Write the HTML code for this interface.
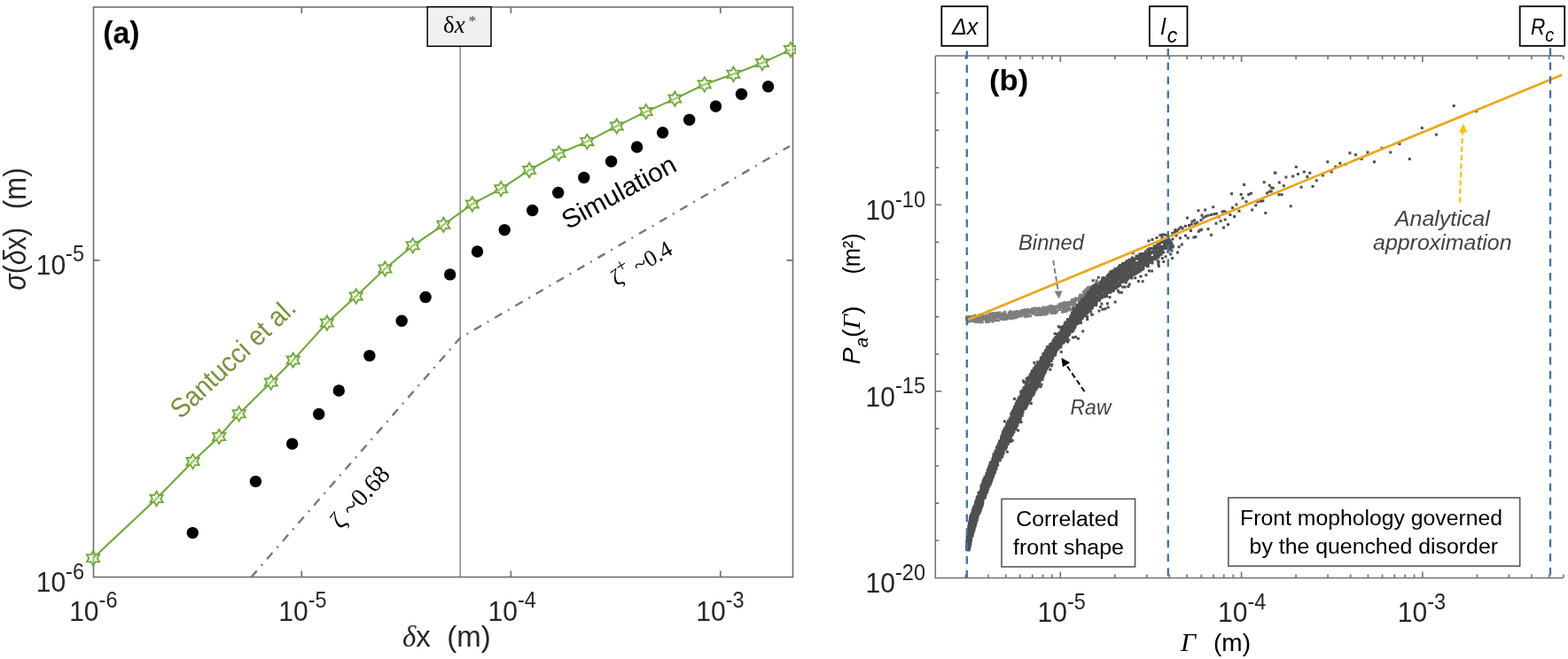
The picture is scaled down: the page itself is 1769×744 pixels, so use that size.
<!DOCTYPE html>
<html><head><meta charset="utf-8"><title>Figure</title>
<style>html,body{margin:0;padding:0;background:#fff;}svg{display:block;}</style>
</head><body>
<svg width="1769" height="744" viewBox="0 0 1769 744">
<rect width="1769" height="744" fill="#fff"/>
<rect x="105.5" y="8.0" width="789.0" height="643.5" fill="none" stroke="#6f6f6f" stroke-width="1.6"/>
<path d="M340.3 651.5v-7M340.3 8.0v7M576.4 651.5v-7M576.4 8.0v7M812.8 651.5v-7M812.8 8.0v7M105.5 293.8h7M894.5 293.8h-7" stroke="#6f6f6f" stroke-width="1.7" fill="none"/>
<g transform="translate(105.3 700.5) scale(0.94 1)"><text x="0" y="0" font-family="'Liberation Sans', sans-serif" font-size="32" fill="#262626" text-anchor="middle">10<tspan font-size="25" dy="-14.4">-6</tspan></text></g>
<g transform="translate(341.5 700.5) scale(0.94 1)"><text x="0" y="0" font-family="'Liberation Sans', sans-serif" font-size="32" fill="#262626" text-anchor="middle">10<tspan font-size="25" dy="-14.4">-5</tspan></text></g>
<g transform="translate(577.6 700.5) scale(0.94 1)"><text x="0" y="0" font-family="'Liberation Sans', sans-serif" font-size="32" fill="#262626" text-anchor="middle">10<tspan font-size="25" dy="-14.4">-4</tspan></text></g>
<g transform="translate(812.4 700.5) scale(0.94 1)"><text x="0" y="0" font-family="'Liberation Sans', sans-serif" font-size="32" fill="#262626" text-anchor="middle">10<tspan font-size="25" dy="-14.4">-3</tspan></text></g>
<g transform="translate(95 309.8) scale(0.94 1)"><text x="0" y="0" font-family="'Liberation Sans', sans-serif" font-size="32" fill="#262626" text-anchor="end">10<tspan font-size="25" dy="-14.4">-5</tspan></text></g>
<g transform="translate(95 668) scale(0.94 1)"><text x="0" y="0" font-family="'Liberation Sans', sans-serif" font-size="32" fill="#262626" text-anchor="end">10<tspan font-size="25" dy="-14.4">-6</tspan></text></g>
<path d="M519.2 52.2V651.5" stroke="#7a7a7a" stroke-width="1.3"/>
<path d="M283.5 651.5 L519.2 381.5 L891 165" fill="none" stroke="#777" stroke-width="2.4" stroke-dasharray="9.5 7.6 2 7.8"/>
<polyline points="105,630.2 176.6,563 217.6,521 247.2,493 269.7,467.2 305.8,431.6 330.7,406.6 368.9,364.6 401.7,334.4 434.4,303.5 465.7,277.3 500.3,253.8 532.8,230.4 565.2,213.2 597.1,192.1 630.5,173.3 662.4,159.9 695.8,142.4 728.8,126.1 761.4,111.6 794.8,95.3 827.4,83.7 860,71 892,56.1" fill="none" stroke="#6fa73a" stroke-width="2.1"/>
<clipPath id="ca"><rect x="0" y="0" width="898" height="744"/></clipPath>
<path clip-path="url(#ca)" d="M105 622L102.6 626.1L97.9 626.1L100.3 630.2L97.9 634.3L102.6 634.3L105 638.4L107.4 634.3L112.1 634.3L109.7 630.2L112.1 626.1L107.4 626.1ZM176.6 554.8L174.2 558.9L169.5 558.9L171.9 563L169.5 567.1L174.2 567.1L176.6 571.2L179 567.1L183.7 567.1L181.3 563L183.7 558.9L179 558.9ZM217.6 512.8L215.2 516.9L210.5 516.9L212.9 521L210.5 525.1L215.2 525.1L217.6 529.2L220 525.1L224.7 525.1L222.3 521L224.7 516.9L220 516.9ZM247.2 484.8L244.8 488.9L240.1 488.9L242.5 493L240.1 497.1L244.8 497.1L247.2 501.2L249.6 497.1L254.3 497.1L251.9 493L254.3 488.9L249.6 488.9ZM269.7 459L267.3 463.1L262.6 463.1L265 467.2L262.6 471.3L267.3 471.3L269.7 475.4L272.1 471.3L276.8 471.3L274.4 467.2L276.8 463.1L272.1 463.1ZM305.8 423.4L303.4 427.5L298.7 427.5L301.1 431.6L298.7 435.7L303.4 435.7L305.8 439.8L308.2 435.7L312.9 435.7L310.5 431.6L312.9 427.5L308.2 427.5ZM330.7 398.4L328.3 402.5L323.6 402.5L326 406.6L323.6 410.7L328.3 410.7L330.7 414.8L333.1 410.7L337.8 410.7L335.4 406.6L337.8 402.5L333.1 402.5ZM368.9 356.4L366.5 360.5L361.8 360.5L364.2 364.6L361.8 368.7L366.5 368.7L368.9 372.8L371.3 368.7L376 368.7L373.6 364.6L376 360.5L371.3 360.5ZM401.7 326.2L399.3 330.3L394.6 330.3L397 334.4L394.6 338.5L399.3 338.5L401.7 342.6L404.1 338.5L408.8 338.5L406.4 334.4L408.8 330.3L404.1 330.3ZM434.4 295.3L432 299.4L427.3 299.4L429.7 303.5L427.3 307.6L432 307.6L434.4 311.7L436.8 307.6L441.5 307.6L439.1 303.5L441.5 299.4L436.8 299.4ZM465.7 269.1L463.3 273.2L458.6 273.2L461 277.3L458.6 281.4L463.3 281.4L465.7 285.5L468.1 281.4L472.8 281.4L470.4 277.3L472.8 273.2L468.1 273.2ZM500.3 245.6L497.9 249.7L493.2 249.7L495.6 253.8L493.2 257.9L497.9 257.9L500.3 262L502.7 257.9L507.4 257.9L505 253.8L507.4 249.7L502.7 249.7ZM532.8 222.2L530.4 226.3L525.7 226.3L528.1 230.4L525.7 234.5L530.4 234.5L532.8 238.6L535.2 234.5L539.9 234.5L537.5 230.4L539.9 226.3L535.2 226.3ZM565.2 205L562.8 209.1L558.1 209.1L560.5 213.2L558.1 217.3L562.8 217.3L565.2 221.4L567.6 217.3L572.3 217.3L569.9 213.2L572.3 209.1L567.6 209.1ZM597.1 183.9L594.7 188L590 188L592.4 192.1L590 196.2L594.7 196.2L597.1 200.3L599.5 196.2L604.2 196.2L601.8 192.1L604.2 188L599.5 188ZM630.5 165.1L628.1 169.2L623.4 169.2L625.8 173.3L623.4 177.4L628.1 177.4L630.5 181.5L632.9 177.4L637.6 177.4L635.2 173.3L637.6 169.2L632.9 169.2ZM662.4 151.7L660 155.8L655.3 155.8L657.7 159.9L655.3 164L660 164L662.4 168.1L664.8 164L669.5 164L667.1 159.9L669.5 155.8L664.8 155.8ZM695.8 134.2L693.4 138.3L688.7 138.3L691.1 142.4L688.7 146.5L693.4 146.5L695.8 150.6L698.2 146.5L702.9 146.5L700.5 142.4L702.9 138.3L698.2 138.3ZM728.8 117.9L726.4 122L721.7 122L724.1 126.1L721.7 130.2L726.4 130.2L728.8 134.3L731.2 130.2L735.9 130.2L733.5 126.1L735.9 122L731.2 122ZM761.4 103.4L759 107.5L754.3 107.5L756.7 111.6L754.3 115.7L759 115.7L761.4 119.8L763.8 115.7L768.5 115.7L766.1 111.6L768.5 107.5L763.8 107.5ZM794.8 87.1L792.4 91.2L787.7 91.2L790.1 95.3L787.7 99.4L792.4 99.4L794.8 103.5L797.2 99.4L801.9 99.4L799.5 95.3L801.9 91.2L797.2 91.2ZM827.4 75.5L825 79.6L820.3 79.6L822.7 83.7L820.3 87.8L825 87.8L827.4 91.9L829.8 87.8L834.5 87.8L832.1 83.7L834.5 79.6L829.8 79.6ZM860 62.8L857.6 66.9L852.9 66.9L855.3 71L852.9 75.1L857.6 75.1L860 79.2L862.4 75.1L867.1 75.1L864.7 71L867.1 66.9L862.4 66.9ZM892 47.9L889.6 52L884.9 52L887.3 56.1L884.9 60.2L889.6 60.2L892 64.3L894.4 60.2L899.1 60.2L896.7 56.1L899.1 52L894.4 52Z" fill="#e2f5c4" fill-opacity="0.4" stroke="#6fa73a" stroke-width="1.8"/>
<g fill="#000"><circle cx="217.3" cy="601.6" r="6.7"/><circle cx="288.4" cy="543.6" r="6.7"/><circle cx="329.7" cy="501.1" r="6.7"/><circle cx="359.7" cy="467.5" r="6.7"/><circle cx="382.3" cy="441" r="6.7"/><circle cx="416.9" cy="401.6" r="6.7"/><circle cx="453.2" cy="362.3" r="6.7"/><circle cx="480.1" cy="335.4" r="6.7"/><circle cx="507.7" cy="309.9" r="6.7"/><circle cx="538.5" cy="284" r="6.7"/><circle cx="569.2" cy="259.6" r="6.7"/><circle cx="600.7" cy="237.5" r="6.7"/><circle cx="629.7" cy="217.5" r="6.7"/><circle cx="658.8" cy="200.5" r="6.7"/><circle cx="689.6" cy="182.3" r="6.7"/><circle cx="718.6" cy="166" r="6.7"/><circle cx="747.6" cy="149.7" r="6.7"/><circle cx="777.7" cy="135.2" r="6.7"/><circle cx="807.5" cy="120" r="6.7"/><circle cx="836.5" cy="106.2" r="6.7"/><circle cx="866.6" cy="97.8" r="6.7"/></g>
<rect x="482.2" y="7.8" width="71.8" height="44.4" fill="#f0f0f0" stroke="#000" stroke-width="1.5"/>
<text x="500" y="36.7" font-family="'Liberation Serif', serif" font-size="27" fill="#000">δ<tspan font-style="italic">x</tspan><tspan font-size="17" dx="4" dy="-7.5" fill="#444">*</tspan></text>
<g transform="translate(116.2 49) scale(0.98 1)"><text x="0" y="0" font-family="'Liberation Sans', sans-serif" font-size="34.5" font-weight="bold" fill="#000">(a)</text></g>
<text x="454" y="729.7" font-family="'Liberation Sans', sans-serif" font-size="33" fill="#262626" xml:space="preserve"><tspan font-style="italic" font-family="'Liberation Serif', serif">δ</tspan>x  (m)</text>
<text transform="translate(28.5 327.7) rotate(-90)" font-family="'Liberation Sans', sans-serif" font-size="35.5" fill="#262626" textLength="70.8" lengthAdjust="spacingAndGlyphs"><tspan font-style="italic">σ</tspan>(<tspan font-style="italic">δ</tspan>x)</text>
<text transform="translate(28.5 236.3) rotate(-90)" font-family="'Liberation Sans', sans-serif" font-size="35.5" fill="#262626" textLength="46.9" lengthAdjust="spacingAndGlyphs">(m)</text>
<text transform="translate(204 474) rotate(-43.3)" font-family="'Liberation Sans', sans-serif" font-size="31" fill="#77933c" textLength="181" lengthAdjust="spacingAndGlyphs">Santucci et al.</text>
<text transform="translate(640.5 259.5) rotate(-28.4)" font-family="'Liberation Sans', sans-serif" font-size="29.5" fill="#000" textLength="142" lengthAdjust="spacingAndGlyphs">Simulation</text>
<text transform="translate(384.5 598.5) rotate(-47.5)" font-family="'Liberation Serif', serif" font-size="28.5" fill="#000" xml:space="preserve">ζ ~0.68</text>
<text transform="translate(695.5 323.5) rotate(-30)" font-family="'Liberation Serif', serif" font-size="26" fill="#000" xml:space="preserve">ζ<tspan font-size="21" dx="-0.5" dy="-11">+</tspan><tspan dy="11"> ~0.4</tspan></text>
<path d="M1055.3 63.0V652.4H1763.3M1055.3 63.0H1763.3" fill="none" stroke="#6f6f6f" stroke-width="1.5"/>
<path d="M1089.5 652.4v-4M1089.5 63.0v4M1115 652.4v-4M1115 63.0v4M1134.8 652.4v-4M1134.8 63.0v4M1151 652.4v-4M1151 63.0v4M1164.7 652.4v-4M1164.7 63.0v4M1176.5 652.4v-4M1176.5 63.0v4M1187 652.4v-4M1187 63.0v4M1196.3 652.4v-7M1196.3 63.0v7M1257.8 652.4v-4M1257.8 63.0v4M1293.8 652.4v-4M1293.8 63.0v4M1319.3 652.4v-4M1319.3 63.0v4M1339.1 652.4v-4M1339.1 63.0v4M1355.3 652.4v-4M1355.3 63.0v4M1369 652.4v-4M1369 63.0v4M1380.8 652.4v-4M1380.8 63.0v4M1391.3 652.4v-4M1391.3 63.0v4M1400.6 652.4v-7M1400.6 63.0v7M1462.1 652.4v-4M1462.1 63.0v4M1498.1 652.4v-4M1498.1 63.0v4M1523.6 652.4v-4M1523.6 63.0v4M1543.4 652.4v-4M1543.4 63.0v4M1559.6 652.4v-4M1559.6 63.0v4M1573.3 652.4v-4M1573.3 63.0v4M1585.1 652.4v-4M1585.1 63.0v4M1595.6 652.4v-4M1595.6 63.0v4M1604.9 652.4v-7M1604.9 63.0v7M1666.4 652.4v-4M1666.4 63.0v4M1702.4 652.4v-4M1702.4 63.0v4M1727.9 652.4v-4M1727.9 63.0v4M1747.7 652.4v-4M1747.7 63.0v4M1763.9 652.4v-4M1763.9 63.0v4M1055.3 610.2h4M1055.3 568.1h4M1055.3 526h4M1055.3 483.9h4M1055.3 441.8h7M1055.3 399.7h4M1055.3 357.6h4M1055.3 315.5h4M1055.3 273.4h4M1055.3 231.3h7M1055.3 189.2h4M1055.3 147.1h4M1055.3 105h4" stroke="#6f6f6f" stroke-width="1.6" fill="none"/>
<g transform="translate(1197.6 702.3) scale(0.94 1)"><text x="0" y="0" font-family="'Liberation Sans', sans-serif" font-size="32" fill="#262626" text-anchor="middle">10<tspan font-size="25" dy="-14.4">-5</tspan></text></g>
<g transform="translate(1401.2 702.3) scale(0.94 1)"><text x="0" y="0" font-family="'Liberation Sans', sans-serif" font-size="32" fill="#262626" text-anchor="middle">10<tspan font-size="25" dy="-14.4">-4</tspan></text></g>
<g transform="translate(1603.9 702.3) scale(0.94 1)"><text x="0" y="0" font-family="'Liberation Sans', sans-serif" font-size="32" fill="#262626" text-anchor="middle">10<tspan font-size="25" dy="-14.4">-3</tspan></text></g>
<g transform="translate(1044 248) scale(0.94 1)"><text x="0" y="0" font-family="'Liberation Sans', sans-serif" font-size="32" fill="#262626" text-anchor="end">10<tspan font-size="25" dy="-14.2">-10</tspan></text></g>
<g transform="translate(1044 458.5) scale(0.94 1)"><text x="0" y="0" font-family="'Liberation Sans', sans-serif" font-size="32" fill="#262626" text-anchor="end">10<tspan font-size="25" dy="-14.2">-15</tspan></text></g>
<g transform="translate(1044 669) scale(0.94 1)"><text x="0" y="0" font-family="'Liberation Sans', sans-serif" font-size="32" fill="#262626" text-anchor="end">10<tspan font-size="25" dy="-14.2">-20</tspan></text></g>
<path d="M1097.4 355.8h3v3h-3zM1106.1 354.1h3v3h-3zM1103.3 357h3v3h-3zM1090.6 359.2h3v3h-3zM1090 358.7h3v3h-3zM1090.6 356h3v3h-3zM1100.6 361.1h3v3h-3zM1092.1 356.9h3v3h-3zM1106.1 361.8h3v3h-3zM1104.4 357.1h3v3h-3zM1114.8 352.9h3v3h-3zM1111.8 355.5h3v3h-3zM1092.6 356h3v3h-3zM1097.5 361.2h3v3h-3zM1093.9 359.5h3v3h-3zM1106 356.8h3v3h-3zM1103.4 354.3h3v3h-3zM1090.4 356.9h3v3h-3zM1107.2 357.2h3v3h-3zM1097.5 359.3h3v3h-3zM1101 356.6h3v3h-3zM1110.4 359.4h3v3h-3zM1095.6 359.4h3v3h-3zM1103.3 361.3h3v3h-3zM1108.4 355.8h3v3h-3zM1115 353.5h3v3h-3zM1100.4 360.5h3v3h-3zM1093.1 358.9h3v3h-3zM1090.2 360.5h3v3h-3zM1109.5 358.3h3v3h-3zM1112.3 355.7h3v3h-3zM1107.7 358.6h3v3h-3zM1104.5 357.6h3v3h-3zM1111.8 361.5h3v3h-3zM1101.8 359.6h3v3h-3zM1090.8 360.7h3v3h-3zM1106.7 362.2h3v3h-3zM1110.9 355.5h3v3h-3zM1099.5 359.8h3v3h-3zM1089.6 359h3v3h-3zM1093.3 355.9h3v3h-3zM1090.7 361.2h3v3h-3zM1092.3 357.1h3v3h-3zM1099.7 361.5h3v3h-3zM1091.1 358.7h3v3h-3zM1104 361.4h3v3h-3zM1111.2 360.8h3v3h-3zM1096.4 358h3v3h-3zM1098.9 361.7h3v3h-3zM1114.4 353.9h3v3h-3zM1093.6 356.8h3v3h-3zM1095.2 358.7h3v3h-3zM1104.6 356h3v3h-3zM1089.1 358.7h3v3h-3zM1098.9 359h3v3h-3zM1114.7 359h3v3h-3zM1102.9 359.2h3v3h-3zM1106.8 353.9h3v3h-3zM1113.3 359.9h3v3h-3zM1112.7 360.1h3v3h-3zM1099.4 357.6h3v3h-3zM1091.9 360.1h3v3h-3zM1090.4 355.9h3v3h-3zM1094.4 356.2h3v3h-3zM1097.8 354.9h3v3h-3zM1088.8 356.7h3v3h-3zM1091.6 358h3v3h-3zM1089.9 362.1h3v3h-3zM1105.2 354.9h3v3h-3zM1095.7 357.5h3v3h-3zM1098.5 355.4h3v3h-3zM1112.1 362h3v3h-3zM1101.5 358.1h3v3h-3zM1091.1 356.1h3v3h-3zM1098 356.6h3v3h-3zM1111 354.4h3v3h-3zM1089.9 362.6h3v3h-3zM1102.9 355.1h3v3h-3zM1103.2 354.1h3v3h-3zM1103.5 362.2h3v3h-3zM1112.3 359.2h3v3h-3zM1095.9 357.7h3v3h-3zM1093.7 361.1h3v3h-3zM1103.5 360.5h3v3h-3zM1097.7 356.3h3v3h-3zM1111.1 361.9h3v3h-3zM1112.1 360.2h3v3h-3zM1111.1 359.7h3v3h-3zM1095.1 358.9h3v3h-3zM1098.2 354.7h3v3h-3zM1089.6 357.6h3v3h-3zM1096.1 360.3h3v3h-3zM1114.6 356.7h3v3h-3zM1114.5 361.8h3v3h-3zM1114.5 355.9h3v3h-3zM1094.7 356.7h3v3h-3zM1094.1 356.5h3v3h-3zM1106 361.4h3v3h-3zM1111.5 357.3h3v3h-3zM1106.7 360.5h3v3h-3zM1091.4 360.3h3v3h-3zM1113.6 359.9h3v3h-3zM1109.1 357.5h3v3h-3zM1094 361.2h3v3h-3zM1098.1 361h3v3h-3zM1115 356.2h3v3h-3zM1100.1 362.1h3v3h-3zM1138.8 351.4h3v3h-3zM1119.5 353.4h3v3h-3zM1145.3 355.9h3v3h-3zM1120.9 359.5h3v3h-3zM1147.5 354.3h3v3h-3zM1127.1 356.1h3v3h-3zM1119.4 352.1h3v3h-3zM1147.2 354.3h3v3h-3zM1133.2 358.7h3v3h-3zM1130.2 358.6h3v3h-3zM1142.1 351.3h3v3h-3zM1123.7 354.2h3v3h-3zM1123.6 356.9h3v3h-3zM1124.1 355.3h3v3h-3zM1120.5 360.3h3v3h-3zM1127.1 355.3h3v3h-3zM1135 358.2h3v3h-3zM1129.8 359.1h3v3h-3zM1132 355.3h3v3h-3zM1132.1 350.8h3v3h-3zM1129.6 352.5h3v3h-3zM1116.3 359.9h3v3h-3zM1121.3 356.2h3v3h-3zM1139.2 354.6h3v3h-3zM1126.3 355.9h3v3h-3zM1134 357.3h3v3h-3zM1119.3 357.2h3v3h-3zM1123.5 354.1h3v3h-3zM1140.7 354h3v3h-3zM1134.2 357h3v3h-3zM1145.1 352.9h3v3h-3zM1135.5 354.6h3v3h-3zM1132.5 356.7h3v3h-3zM1130.4 355.5h3v3h-3zM1131.7 359h3v3h-3zM1138.7 357.4h3v3h-3zM1145.9 351.3h3v3h-3zM1134.3 358.6h3v3h-3zM1142.5 350.7h3v3h-3zM1119.6 356.1h3v3h-3zM1117.8 354.4h3v3h-3zM1118.4 358.4h3v3h-3zM1141.5 357.2h3v3h-3zM1121 358.5h3v3h-3zM1136.7 351.4h3v3h-3zM1144.7 357.3h3v3h-3zM1123.4 360.3h3v3h-3zM1128.6 355.4h3v3h-3zM1148 355.7h3v3h-3zM1120.9 355.8h3v3h-3zM1132.2 353.6h3v3h-3zM1121.9 354.6h3v3h-3zM1138.5 350.1h3v3h-3zM1133.6 354.3h3v3h-3zM1116.2 355.4h3v3h-3zM1135.9 354.6h3v3h-3zM1118.4 361.4h3v3h-3zM1141.7 357.8h3v3h-3zM1118.9 354.5h3v3h-3zM1117.4 359.6h3v3h-3zM1124.1 352.6h3v3h-3zM1129.9 359h3v3h-3zM1141.9 351.8h3v3h-3zM1121.1 360.3h3v3h-3zM1134.4 356.5h3v3h-3zM1118.2 352.6h3v3h-3zM1137.9 353.7h3v3h-3zM1118.7 360.9h3v3h-3zM1136.6 357.1h3v3h-3zM1118.9 360.1h3v3h-3zM1118.4 360.2h3v3h-3zM1130.2 353.8h3v3h-3zM1134.1 358.5h3v3h-3zM1124 352.7h3v3h-3zM1132.5 352.7h3v3h-3zM1118.9 353.5h3v3h-3zM1117.1 354.1h3v3h-3zM1125.6 354.1h3v3h-3zM1140 352.2h3v3h-3zM1131.5 352.3h3v3h-3zM1126.4 351.4h3v3h-3zM1123.3 351.7h3v3h-3zM1139.5 354.5h3v3h-3zM1121.9 356.1h3v3h-3zM1145.5 350.1h3v3h-3zM1142.1 353.2h3v3h-3zM1132.1 358h3v3h-3zM1128.5 355.5h3v3h-3zM1138.5 358.3h3v3h-3zM1127.2 358.7h3v3h-3zM1138.7 355.3h3v3h-3zM1128.7 354.1h3v3h-3zM1117.1 353.4h3v3h-3zM1118.4 359.1h3v3h-3zM1123.6 353h3v3h-3zM1118.9 359.9h3v3h-3zM1144 354.9h3v3h-3zM1124.6 353.6h3v3h-3zM1125.2 355.5h3v3h-3zM1120.8 356h3v3h-3zM1124.8 360.2h3v3h-3zM1147.2 353.5h3v3h-3zM1124.2 360.3h3v3h-3zM1125.6 354.5h3v3h-3zM1115.7 356h3v3h-3zM1131.1 355.2h3v3h-3zM1122.3 356.3h3v3h-3zM1115.7 354.9h3v3h-3zM1118.6 355.8h3v3h-3zM1116.6 352.5h3v3h-3zM1125.3 353.5h3v3h-3zM1134.7 354.9h3v3h-3zM1140.1 355.3h3v3h-3zM1139.3 357.3h3v3h-3zM1128.1 354h3v3h-3zM1147.2 350.3h3v3h-3zM1139.3 355.3h3v3h-3zM1117.6 360.1h3v3h-3zM1144.7 354.5h3v3h-3zM1139.8 356.7h3v3h-3zM1120.3 356.7h3v3h-3zM1132.4 357.9h3v3h-3zM1142.1 356.5h3v3h-3zM1135 358.1h3v3h-3zM1138 355.9h3v3h-3zM1122.7 351.9h3v3h-3zM1119.9 355.3h3v3h-3zM1119.6 359.8h3v3h-3zM1133.9 355.9h3v3h-3zM1168.4 352h3v3h-3zM1163.3 347h3v3h-3zM1174 351.9h3v3h-3zM1164.3 351.3h3v3h-3zM1168.9 346.8h3v3h-3zM1171.5 348h3v3h-3zM1150.2 350.8h3v3h-3zM1171.3 347.6h3v3h-3zM1172.4 354h3v3h-3zM1163.8 350.1h3v3h-3zM1163.7 352.6h3v3h-3zM1172.9 350.9h3v3h-3zM1168.3 346.9h3v3h-3zM1152.5 350.4h3v3h-3zM1171.8 348.4h3v3h-3zM1165.8 346.7h3v3h-3zM1149.7 350.9h3v3h-3zM1169.9 351.9h3v3h-3zM1169.6 348.6h3v3h-3zM1164.6 350.6h3v3h-3zM1162.7 348h3v3h-3zM1176.6 346.9h3v3h-3zM1180 352.8h3v3h-3zM1148.5 352.6h3v3h-3zM1175 353.6h3v3h-3zM1162.3 349.3h3v3h-3zM1155.2 355.7h3v3h-3zM1154.9 352.8h3v3h-3zM1152.6 352.6h3v3h-3zM1178.4 346.1h3v3h-3zM1174.5 349.8h3v3h-3zM1176.9 351.2h3v3h-3zM1155.9 355.3h3v3h-3zM1163.2 347.2h3v3h-3zM1148.1 352.9h3v3h-3zM1162.4 349.6h3v3h-3zM1152.4 351.2h3v3h-3zM1158.6 354.5h3v3h-3zM1148.3 355h3v3h-3zM1174.7 346.5h3v3h-3zM1178.1 351.1h3v3h-3zM1176.9 347.6h3v3h-3zM1159.9 350.6h3v3h-3zM1180.4 349.8h3v3h-3zM1159.6 351h3v3h-3zM1156.4 348.3h3v3h-3zM1151.6 355.3h3v3h-3zM1157.7 355.4h3v3h-3zM1155.8 350.1h3v3h-3zM1164.2 348.4h3v3h-3zM1160.5 355.2h3v3h-3zM1176.9 352.1h3v3h-3zM1168.8 353.9h3v3h-3zM1178.4 349.7h3v3h-3zM1170.8 346.4h3v3h-3zM1171.6 349.7h3v3h-3zM1172.5 351.2h3v3h-3zM1156.8 348.2h3v3h-3zM1177.5 346.2h3v3h-3zM1163.1 349.8h3v3h-3zM1157.9 353.7h3v3h-3zM1179.3 347.1h3v3h-3zM1169 348.7h3v3h-3zM1165.9 349.9h3v3h-3zM1153.1 349.6h3v3h-3zM1155.1 355.4h3v3h-3zM1163.8 348.7h3v3h-3zM1177.8 353.5h3v3h-3zM1162.2 348.3h3v3h-3zM1153.8 348.9h3v3h-3zM1158.6 348.3h3v3h-3zM1155.5 350.1h3v3h-3zM1166.8 353.9h3v3h-3zM1172.1 349.3h3v3h-3zM1161.4 351.5h3v3h-3zM1160 350.2h3v3h-3zM1149.8 351h3v3h-3zM1178.9 346h3v3h-3zM1164.4 352h3v3h-3zM1175.6 347.2h3v3h-3zM1156.5 349.9h3v3h-3zM1160.9 351h3v3h-3zM1179.2 352.1h3v3h-3zM1175.7 345.5h3v3h-3zM1149.2 354.5h3v3h-3zM1176.9 349.2h3v3h-3zM1166.5 346.5h3v3h-3zM1161.1 354.9h3v3h-3zM1175 352.7h3v3h-3zM1179.1 347h3v3h-3zM1151.2 349.8h3v3h-3zM1165.1 352.4h3v3h-3zM1178.6 351.1h3v3h-3zM1169.2 352.6h3v3h-3zM1162.8 351.6h3v3h-3zM1149.6 355.1h3v3h-3zM1155.9 355.5h3v3h-3zM1168.6 348.8h3v3h-3zM1151.9 350.5h3v3h-3zM1168.8 352.1h3v3h-3zM1151.2 349.1h3v3h-3zM1165 351.6h3v3h-3zM1160.3 349.2h3v3h-3zM1166.9 346.6h3v3h-3zM1157.7 351.5h3v3h-3zM1179.1 350.4h3v3h-3zM1176.5 349.3h3v3h-3zM1155.3 350h3v3h-3zM1179.2 350.9h3v3h-3zM1157.4 347.9h3v3h-3zM1164.3 352.4h3v3h-3zM1161.3 349.3h3v3h-3zM1170 353.8h3v3h-3zM1154.9 348.3h3v3h-3zM1158.8 351h3v3h-3zM1169.7 347.8h3v3h-3zM1174 351.8h3v3h-3zM1164 348.6h3v3h-3zM1179.1 347.5h3v3h-3zM1174.2 347.5h3v3h-3zM1155.4 354.2h3v3h-3zM1158 355.5h3v3h-3zM1163.7 348.5h3v3h-3zM1155.1 351.4h3v3h-3zM1169.9 354h3v3h-3zM1152.6 351.6h3v3h-3zM1155.4 356h3v3h-3zM1152.1 348.8h3v3h-3zM1149.8 351.9h3v3h-3zM1177.4 352.6h3v3h-3zM1197 350.7h3v3h-3zM1200 343.3h3v3h-3zM1185 352h3v3h-3zM1195.4 341.2h3v3h-3zM1194.4 345h3v3h-3zM1188 345.9h3v3h-3zM1183.1 344h3v3h-3zM1186.1 346.5h3v3h-3zM1200.1 341h3v3h-3zM1200.4 341.9h3v3h-3zM1188.5 350.4h3v3h-3zM1197.8 344.8h3v3h-3zM1181.3 348.6h3v3h-3zM1189.1 351.2h3v3h-3zM1184.2 347h3v3h-3zM1198.6 340.4h3v3h-3zM1189.7 350.1h3v3h-3zM1195.9 341.2h3v3h-3zM1180.3 345.2h3v3h-3zM1199.6 342.6h3v3h-3zM1197.1 349.7h3v3h-3zM1187.2 345.5h3v3h-3zM1201.1 346.1h3v3h-3zM1186.3 349.8h3v3h-3zM1186.7 345.6h3v3h-3zM1180.8 351.1h3v3h-3zM1200.3 346.4h3v3h-3zM1199.6 340.1h3v3h-3zM1185.3 347.8h3v3h-3zM1201.8 349.5h3v3h-3zM1188.2 345.1h3v3h-3zM1189.5 347.1h3v3h-3zM1199.6 341.8h3v3h-3zM1198 347.9h3v3h-3zM1198.5 348.2h3v3h-3zM1193 344.7h3v3h-3zM1186.9 346.4h3v3h-3zM1196.3 341.5h3v3h-3zM1185 350.4h3v3h-3zM1184.8 344.1h3v3h-3zM1181.1 349.3h3v3h-3zM1188.2 351.9h3v3h-3zM1200.3 350.1h3v3h-3zM1185.3 344.2h3v3h-3zM1182.4 348.6h3v3h-3zM1195.5 345.4h3v3h-3zM1185.2 347.3h3v3h-3zM1194 348h3v3h-3zM1197.1 349.2h3v3h-3zM1193.9 342.5h3v3h-3zM1198 343.3h3v3h-3zM1192.2 345.4h3v3h-3zM1195.6 342.9h3v3h-3zM1185.2 345.7h3v3h-3zM1184.3 351.7h3v3h-3zM1192.4 344.9h3v3h-3zM1189.7 351.8h3v3h-3zM1190.7 344.3h3v3h-3zM1198 347h3v3h-3zM1200.8 340.7h3v3h-3zM1191.1 349.9h3v3h-3zM1199.2 349.5h3v3h-3zM1180.8 347.1h3v3h-3zM1182.3 345.8h3v3h-3zM1201.4 345.7h3v3h-3zM1200 343.7h3v3h-3zM1198.8 344.8h3v3h-3zM1186.4 350.3h3v3h-3zM1199.8 340.9h3v3h-3zM1193.3 347.6h3v3h-3zM1184.7 346.9h3v3h-3zM1182.8 345.8h3v3h-3zM1186 348.8h3v3h-3zM1193.7 343.3h3v3h-3zM1180.3 347.5h3v3h-3zM1194.3 343h3v3h-3zM1186.5 345h3v3h-3zM1197.5 346.1h3v3h-3zM1181 345.4h3v3h-3zM1188.9 347.8h3v3h-3zM1193.3 342.3h3v3h-3zM1184.2 350h3v3h-3zM1188.7 345.3h3v3h-3zM1187.7 351.7h3v3h-3zM1187.1 348.3h3v3h-3zM1187.8 346.7h3v3h-3zM1199.9 350.3h3v3h-3zM1206.5 339.5h3v3h-3zM1212.4 337.3h3v3h-3zM1203.3 348.6h3v3h-3zM1209.8 345.5h3v3h-3zM1209.8 346.2h3v3h-3zM1207.9 338.5h3v3h-3zM1202.2 345.1h3v3h-3zM1213.7 345.2h3v3h-3zM1203.7 345.4h3v3h-3zM1207.8 342.6h3v3h-3zM1203.4 341.7h3v3h-3zM1211.8 346h3v3h-3zM1203.5 344h3v3h-3zM1216.6 344.9h3v3h-3zM1203.6 339.8h3v3h-3zM1218.9 344.2h3v3h-3zM1207.9 337.2h3v3h-3zM1216.3 338h3v3h-3zM1216.8 340.7h3v3h-3zM1213.8 336.2h3v3h-3zM1213.4 337.1h3v3h-3zM1209.6 345.9h3v3h-3zM1213.9 336.4h3v3h-3zM1204.9 342.4h3v3h-3zM1209.7 340.4h3v3h-3zM1202.9 341.5h3v3h-3zM1215 344.6h3v3h-3zM1202.7 345.1h3v3h-3zM1212.2 335.3h3v3h-3zM1213.8 335.7h3v3h-3zM1211.6 341.7h3v3h-3zM1211.2 339h3v3h-3zM1208.9 343.1h3v3h-3zM1209.3 343.8h3v3h-3zM1208.8 341.4h3v3h-3zM1202.6 345.7h3v3h-3zM1208.7 339.1h3v3h-3zM1215.2 343.2h3v3h-3zM1208 338.7h3v3h-3zM1207.9 337.9h3v3h-3zM1203.6 343.2h3v3h-3zM1203.1 343.6h3v3h-3zM1208.3 336.9h3v3h-3zM1210.4 336.6h3v3h-3zM1214.7 343.3h3v3h-3zM1208.3 337.1h3v3h-3zM1209.5 340.5h3v3h-3zM1215.7 335.2h3v3h-3zM1217.5 344.9h3v3h-3zM1214.8 343.7h3v3h-3zM1206.7 348.4h3v3h-3zM1211.4 346.5h3v3h-3zM1215.2 335.7h3v3h-3zM1216.2 344.6h3v3h-3zM1202.3 342.8h3v3h-3zM1212.7 336.6h3v3h-3zM1215.4 337h3v3h-3zM1213.5 336.1h3v3h-3zM1211.5 346.1h3v3h-3zM1204.3 341.1h3v3h-3zM1209.3 339.8h3v3h-3zM1201.2 341.3h3v3h-3zM1206 348.1h3v3h-3zM1214.3 344.8h3v3h-3zM1205.6 346.6h3v3h-3zM1203.8 344.3h3v3h-3zM1211.5 339.5h3v3h-3zM1216.1 340.1h3v3h-3zM1227.3 336.1h3v3h-3zM1223 341.8h3v3h-3zM1223.8 331.4h3v3h-3zM1224.6 328.6h3v3h-3zM1229.2 329.3h3v3h-3zM1223.9 337.3h3v3h-3zM1220.1 331.5h3v3h-3zM1222.2 327.3h3v3h-3zM1224.7 328.2h3v3h-3zM1228.8 336.4h3v3h-3zM1225.6 334.2h3v3h-3zM1217.3 331.4h3v3h-3zM1215.5 335.5h3v3h-3zM1224 331.9h3v3h-3zM1226.6 336.9h3v3h-3zM1217.1 335.2h3v3h-3zM1221.1 328h3v3h-3zM1216.8 337.6h3v3h-3zM1217.9 336.5h3v3h-3zM1221 337.2h3v3h-3zM1221.9 330.2h3v3h-3zM1224.4 332.2h3v3h-3zM1222.8 341.1h3v3h-3zM1217.7 333.3h3v3h-3zM1220 339h3v3h-3zM1229.6 332.3h3v3h-3zM1220.3 332.7h3v3h-3zM1219.2 339.9h3v3h-3zM1222.8 331.7h3v3h-3zM1224.4 331.7h3v3h-3zM1230 331.2h3v3h-3zM1223.8 339.6h3v3h-3zM1218.6 338.6h3v3h-3zM1220.2 332.4h3v3h-3zM1220.7 340.5h3v3h-3zM1218.4 339.1h3v3h-3zM1225.1 326h3v3h-3zM1220.9 337.7h3v3h-3zM1224.5 334.8h3v3h-3zM1224 327.6h3v3h-3zM1219.6 333.9h3v3h-3zM1221.5 341.5h3v3h-3zM1228.1 332.6h3v3h-3zM1220.7 341.6h3v3h-3zM1225.7 330.8h3v3h-3zM1225.5 330.8h3v3h-3zM1217.2 333.2h3v3h-3zM1216.7 332.5h3v3h-3zM1223.5 337.5h3v3h-3zM1228.2 334.6h3v3h-3zM1223.7 329.5h3v3h-3zM1223.4 332.6h3v3h-3zM1226.6 330.9h3v3h-3zM1221.9 337.3h3v3h-3zM1226 326.4h3v3h-3zM1223.4 325.5h3v3h-3zM1218.6 333.9h3v3h-3zM1229.6 335h3v3h-3zM1224.5 329.6h3v3h-3zM1237.8 318.1h3v3h-3zM1234.7 329.8h3v3h-3zM1237.6 324h3v3h-3zM1240.3 326.2h3v3h-3zM1236.9 326.9h3v3h-3zM1239.7 324.8h3v3h-3zM1235.6 326.2h3v3h-3zM1233.9 321h3v3h-3zM1232.2 327.5h3v3h-3zM1232.8 331.5h3v3h-3zM1226.7 322.7h3v3h-3zM1233.3 331.4h3v3h-3zM1230 321.8h3v3h-3zM1225.5 324h3v3h-3zM1237.9 322.8h3v3h-3zM1238.8 323.7h3v3h-3zM1230.2 328.7h3v3h-3zM1235.5 327.8h3v3h-3zM1241.4 323.9h3v3h-3zM1232.3 331.2h3v3h-3zM1242.9 323.4h3v3h-3zM1227.7 324.7h3v3h-3zM1226.4 323.1h3v3h-3zM1241.1 322.9h3v3h-3zM1238.7 325.1h3v3h-3zM1234.5 320.2h3v3h-3zM1226.8 323.8h3v3h-3zM1235.3 318.2h3v3h-3zM1231.9 324.6h3v3h-3zM1227.1 326.1h3v3h-3zM1233.7 327.6h3v3h-3zM1231.7 323.2h3v3h-3zM1240.1 318.9h3v3h-3zM1239.7 321.1h3v3h-3zM1228.4 327.4h3v3h-3zM1236 326.6h3v3h-3zM1234.4 326.9h3v3h-3zM1232.8 320.5h3v3h-3zM1235.7 316.1h3v3h-3zM1235.8 317.3h3v3h-3zM1226.4 325.8h3v3h-3zM1241.4 325.3h3v3h-3zM1228.7 328.4h3v3h-3zM1236.8 326.3h3v3h-3zM1230.8 326.6h3v3h-3zM1235.4 328.1h3v3h-3zM1235.2 330h3v3h-3zM1229.8 323.1h3v3h-3zM1236.9 321.5h3v3h-3zM1231.1 328.7h3v3h-3zM1231.9 330.3h3v3h-3zM1239.2 324.2h3v3h-3zM1235 320.9h3v3h-3zM1232.6 323.5h3v3h-3zM1236 315.8h3v3h-3zM1235.5 315.3h3v3h-3zM1229.3 324.3h3v3h-3zM1239.3 319.5h3v3h-3zM1236.2 328.2h3v3h-3zM1231.2 325.8h3v3h-3zM1236.9 325.5h3v3h-3z" fill="#7e7e7e"/>
<path d="M1092.7 607.6h3v3h-3zM1090.3 613.8h3v3h-3zM1091.7 617.2h3v3h-3zM1092.9 609.1h3v3h-3zM1090.4 616.8h3v3h-3zM1092.4 607.2h3v3h-3zM1090.4 617.5h3v3h-3zM1090.8 605.1h3v3h-3zM1089.9 616.3h3v3h-3zM1093.6 608.5h3v3h-3zM1089.4 616.9h3v3h-3zM1090.1 615.4h3v3h-3zM1089.9 610.9h3v3h-3zM1089.7 614.1h3v3h-3zM1093.8 604.1h3v3h-3zM1091.9 618.1h3v3h-3zM1090.1 617.8h3v3h-3zM1094.2 604h3v3h-3zM1091.6 607.7h3v3h-3zM1091.1 616.4h3v3h-3zM1089.5 617.7h3v3h-3zM1089.2 613h3v3h-3zM1092.3 613.3h3v3h-3zM1091.8 608.4h3v3h-3zM1091.5 609.4h3v3h-3zM1090.9 617.3h3v3h-3zM1092.1 613.2h3v3h-3zM1091.9 604.9h3v3h-3zM1092.7 610.5h3v3h-3zM1090 612.6h3v3h-3zM1093.8 608.2h3v3h-3zM1093 607.3h3v3h-3zM1093.1 606h3v3h-3zM1091.5 609.2h3v3h-3zM1091.4 614.6h3v3h-3zM1090.2 617.9h3v3h-3zM1093.1 607.1h3v3h-3zM1090.4 609.3h3v3h-3zM1091 612.7h3v3h-3zM1091.2 609.5h3v3h-3zM1093.9 609h3v3h-3zM1091.2 616.6h3v3h-3zM1091.4 607h3v3h-3zM1093.4 612h3v3h-3zM1090.4 618.9h3v3h-3zM1091.5 617.1h3v3h-3zM1092.5 604.5h3v3h-3zM1090.7 617.9h3v3h-3zM1092.4 611h3v3h-3zM1092 611.4h3v3h-3zM1092.2 606.3h3v3h-3zM1093 613.2h3v3h-3zM1091.3 616.2h3v3h-3zM1092.2 613.4h3v3h-3zM1092.1 617.8h3v3h-3zM1089.2 613.6h3v3h-3zM1090.5 615.1h3v3h-3zM1090 619.3h3v3h-3zM1092 612.9h3v3h-3zM1090.1 613.7h3v3h-3zM1091.6 616h3v3h-3zM1092.5 604.5h3v3h-3zM1091.8 616.2h3v3h-3zM1089.9 613.1h3v3h-3zM1091.4 617.6h3v3h-3zM1092.8 606.7h3v3h-3zM1091.5 612h3v3h-3zM1092.4 616.1h3v3h-3zM1091.6 613.9h3v3h-3zM1093.8 606.6h3v3h-3zM1090.4 611.9h3v3h-3zM1089.7 610.5h3v3h-3zM1091.3 606h3v3h-3zM1090.9 605.7h3v3h-3zM1090.1 613.3h3v3h-3zM1089.8 612.5h3v3h-3zM1090.9 619.6h3v3h-3zM1089.9 614.9h3v3h-3zM1090.8 614.7h3v3h-3zM1091.8 612.7h3v3h-3zM1091 608.9h3v3h-3zM1094.4 604.9h3v3h-3zM1091.4 618.7h3v3h-3zM1093.9 605.2h3v3h-3zM1091.6 617.4h3v3h-3zM1089.3 609h3v3h-3zM1091.6 619.5h3v3h-3zM1090.5 608.8h3v3h-3zM1089.3 617.7h3v3h-3zM1091.7 615.9h3v3h-3zM1089.6 613.8h3v3h-3zM1093.9 605.3h3v3h-3zM1091.9 617h3v3h-3zM1092.9 610h3v3h-3zM1093.7 609.1h3v3h-3zM1093.8 607.1h3v3h-3zM1091.3 616.4h3v3h-3zM1092.5 611.2h3v3h-3zM1092.8 612.7h3v3h-3zM1090.4 610.5h3v3h-3zM1089.4 615.6h3v3h-3zM1089.4 611.3h3v3h-3zM1089.7 611.8h3v3h-3zM1091.3 611.6h3v3h-3zM1093.1 611.1h3v3h-3zM1091.2 619.5h3v3h-3zM1091.5 612.1h3v3h-3zM1093.4 609.1h3v3h-3zM1090.7 613.5h3v3h-3zM1089.9 603.8h3v3h-3zM1092.3 609.4h3v3h-3zM1090.6 619.1h3v3h-3zM1093.9 608.9h3v3h-3zM1092.9 614.5h3v3h-3zM1091.3 611.3h3v3h-3zM1089.6 604.8h3v3h-3zM1092.5 608.1h3v3h-3zM1092.4 614.3h3v3h-3zM1090.9 613.6h3v3h-3zM1092.6 611.3h3v3h-3zM1090.5 616.1h3v3h-3zM1091.4 612.8h3v3h-3zM1091 606.1h3v3h-3zM1091.6 606.2h3v3h-3zM1090.3 611.3h3v3h-3zM1093.5 611.7h3v3h-3zM1093.1 609.2h3v3h-3zM1090.2 614.1h3v3h-3zM1091.2 614.8h3v3h-3zM1093 609.5h3v3h-3zM1091 619h3v3h-3zM1092.5 605.4h3v3h-3zM1089.7 618.6h3v3h-3zM1089.3 619.3h3v3h-3zM1092.9 604.8h3v3h-3zM1093.1 609.2h3v3h-3zM1092.9 605h3v3h-3zM1092.2 609.7h3v3h-3zM1092.3 608.4h3v3h-3zM1090.3 608.4h3v3h-3zM1091.5 608.8h3v3h-3zM1089.9 607h3v3h-3zM1089 616.4h3v3h-3zM1094.2 607.4h3v3h-3zM1091.1 608.9h3v3h-3zM1098.5 587.8h3v3h-3zM1093.3 592h3v3h-3zM1093.3 597.4h3v3h-3zM1093.5 597.1h3v3h-3zM1098.6 591.6h3v3h-3zM1093.1 602.5h3v3h-3zM1090.4 602.2h3v3h-3zM1096.7 587.7h3v3h-3zM1096.2 585.3h3v3h-3zM1091.9 603.1h3v3h-3zM1098.4 592.6h3v3h-3zM1096.7 584.1h3v3h-3zM1091.6 594.8h3v3h-3zM1093.3 590.3h3v3h-3zM1090.2 599.8h3v3h-3zM1093.6 603.7h3v3h-3zM1095.9 601.8h3v3h-3zM1095.1 602.3h3v3h-3zM1090.1 600.3h3v3h-3zM1093.8 588.9h3v3h-3zM1093.4 588.5h3v3h-3zM1094.4 602.9h3v3h-3zM1098.4 590.1h3v3h-3zM1092.6 588.4h3v3h-3zM1096.9 591.5h3v3h-3zM1097.6 595.1h3v3h-3zM1096.6 599.2h3v3h-3zM1092 588.5h3v3h-3zM1093.5 603.4h3v3h-3zM1092.9 586.6h3v3h-3zM1095.4 597.7h3v3h-3zM1095.5 600.7h3v3h-3zM1091.6 593.2h3v3h-3zM1094.7 596.4h3v3h-3zM1095.7 595.1h3v3h-3zM1095 601.1h3v3h-3zM1095.1 596.6h3v3h-3zM1094.7 591h3v3h-3zM1096.2 596.3h3v3h-3zM1099.1 585.4h3v3h-3zM1093.5 592h3v3h-3zM1095.6 603h3v3h-3zM1098.1 590.2h3v3h-3zM1094.7 597.1h3v3h-3zM1099.6 584.9h3v3h-3zM1093.8 591.3h3v3h-3zM1097.1 595.7h3v3h-3zM1095.4 596.4h3v3h-3zM1098.1 592.3h3v3h-3zM1094.4 587.2h3v3h-3zM1091.1 603.1h3v3h-3zM1095 595.3h3v3h-3zM1099.2 588.1h3v3h-3zM1094.7 603.1h3v3h-3zM1099 588.2h3v3h-3zM1093.4 591.9h3v3h-3zM1098.8 587.3h3v3h-3zM1098.7 590.7h3v3h-3zM1091.3 596h3v3h-3zM1097.1 593.1h3v3h-3zM1095 599.9h3v3h-3zM1094.5 584.7h3v3h-3zM1096.5 591.8h3v3h-3zM1092.5 593.9h3v3h-3zM1095.3 598.9h3v3h-3zM1095.7 587.8h3v3h-3zM1094.8 602.2h3v3h-3zM1093.9 587.8h3v3h-3zM1098 592.7h3v3h-3zM1096.7 586.1h3v3h-3zM1095.3 594.3h3v3h-3zM1091.4 599.3h3v3h-3zM1094.6 600.2h3v3h-3zM1094.6 596.5h3v3h-3zM1094.4 595.6h3v3h-3zM1090.3 599.9h3v3h-3zM1095.9 583.6h3v3h-3zM1093.8 601.6h3v3h-3zM1093.4 587.4h3v3h-3zM1094.1 591.5h3v3h-3zM1091.4 592.5h3v3h-3zM1095.6 603.5h3v3h-3zM1096.3 586.4h3v3h-3zM1093.3 591.9h3v3h-3zM1095.4 588h3v3h-3zM1098.9 585.4h3v3h-3zM1099.8 588.2h3v3h-3zM1090.7 597.8h3v3h-3zM1091.4 599.1h3v3h-3zM1090.2 601.2h3v3h-3zM1097.7 593.1h3v3h-3zM1097.7 595.2h3v3h-3zM1093.1 584.8h3v3h-3zM1094.4 591.5h3v3h-3zM1095.9 601.8h3v3h-3zM1094.1 598.5h3v3h-3zM1098.8 591.7h3v3h-3zM1094.7 590.1h3v3h-3zM1092.2 594.1h3v3h-3zM1100.9 585.4h3v3h-3zM1090.5 598.5h3v3h-3zM1092.7 598.2h3v3h-3zM1099.8 586.5h3v3h-3zM1092.7 586.2h3v3h-3zM1097.7 588.4h3v3h-3zM1099 591.6h3v3h-3zM1090.6 601.9h3v3h-3zM1099.3 589.4h3v3h-3zM1094 589.8h3v3h-3zM1097 592.3h3v3h-3zM1091.9 601.2h3v3h-3zM1091.2 597.9h3v3h-3zM1092.3 593.5h3v3h-3zM1091.3 598.3h3v3h-3zM1091.9 589.3h3v3h-3zM1093.4 588.8h3v3h-3zM1095.2 603.4h3v3h-3zM1096.3 599.8h3v3h-3zM1099.5 587.1h3v3h-3zM1092.8 600.7h3v3h-3zM1095.5 602.2h3v3h-3zM1097.3 587.1h3v3h-3zM1093.4 594.3h3v3h-3zM1096 587.2h3v3h-3zM1092.7 590.5h3v3h-3zM1090.7 598.5h3v3h-3zM1096.1 589.5h3v3h-3zM1095.5 601.2h3v3h-3zM1093.1 598.1h3v3h-3zM1091.8 600.1h3v3h-3zM1095 586.7h3v3h-3zM1093.2 600.2h3v3h-3zM1096.6 597.8h3v3h-3zM1095.9 601.9h3v3h-3zM1095.1 602.9h3v3h-3zM1093.3 589.8h3v3h-3zM1093.1 593.8h3v3h-3zM1091.7 598h3v3h-3zM1097.4 597.1h3v3h-3zM1100.5 584.6h3v3h-3zM1091.7 601.3h3v3h-3zM1093 585h3v3h-3zM1094.2 588.8h3v3h-3zM1092.9 583.3h3v3h-3zM1094.9 587.3h3v3h-3zM1090 600h3v3h-3zM1096.5 587.2h3v3h-3zM1092.9 599.7h3v3h-3zM1094.3 585h3v3h-3zM1092.5 591.6h3v3h-3zM1095 600.3h3v3h-3zM1093.4 589h3v3h-3zM1090.4 601.4h3v3h-3zM1095.2 591.5h3v3h-3zM1091.8 597.7h3v3h-3zM1096.8 591.8h3v3h-3zM1096.8 587.7h3v3h-3zM1090.7 598.9h3v3h-3zM1095.1 588.9h3v3h-3zM1092.4 588.5h3v3h-3zM1094.9 587.2h3v3h-3zM1099.2 587.6h3v3h-3zM1091.3 593h3v3h-3zM1096.4 585.5h3v3h-3zM1094.6 585.9h3v3h-3zM1095.4 600.3h3v3h-3zM1091.9 595.7h3v3h-3zM1094.8 596.3h3v3h-3zM1092.6 603.4h3v3h-3zM1094.6 594.7h3v3h-3zM1094.4 601.4h3v3h-3zM1099 588.1h3v3h-3zM1095.3 597.5h3v3h-3zM1095.9 596.4h3v3h-3zM1095 602.8h3v3h-3zM1096.8 584.7h3v3h-3zM1095 593.4h3v3h-3zM1091.5 592.1h3v3h-3zM1094.6 583.9h3v3h-3zM1090.8 599.3h3v3h-3zM1095.7 599h3v3h-3zM1094.1 581.7h3v3h-3zM1102.1 561.3h3v3h-3zM1098 583.5h3v3h-3zM1103.5 566.1h3v3h-3zM1101.4 560.9h3v3h-3zM1108.3 557.6h3v3h-3zM1094.5 581.3h3v3h-3zM1102.4 568.6h3v3h-3zM1097 574.1h3v3h-3zM1098.5 570.2h3v3h-3zM1106.4 566.6h3v3h-3zM1099.2 579.5h3v3h-3zM1102.4 559.8h3v3h-3zM1109.6 559.5h3v3h-3zM1100.6 571.6h3v3h-3zM1106.4 557.9h3v3h-3zM1104.9 572.8h3v3h-3zM1104.1 559.3h3v3h-3zM1098.3 575.9h3v3h-3zM1105.7 571.7h3v3h-3zM1109.2 560.1h3v3h-3zM1108.8 559.6h3v3h-3zM1097.7 582.2h3v3h-3zM1111 555.5h3v3h-3zM1099.1 575.9h3v3h-3zM1102.8 563.9h3v3h-3zM1099.3 566.2h3v3h-3zM1101.8 570.4h3v3h-3zM1094.3 582.1h3v3h-3zM1109.9 554.6h3v3h-3zM1108.3 555.2h3v3h-3zM1109 559.9h3v3h-3zM1102.8 555.1h3v3h-3zM1102.1 563.3h3v3h-3zM1102.5 562.2h3v3h-3zM1106.4 568.3h3v3h-3zM1101.7 563.9h3v3h-3zM1102.1 567.5h3v3h-3zM1105.6 553.8h3v3h-3zM1101.5 574.8h3v3h-3zM1099.1 580.3h3v3h-3zM1107.5 554.3h3v3h-3zM1099.7 575.4h3v3h-3zM1099.9 566.3h3v3h-3zM1095.4 578.9h3v3h-3zM1099.4 574.5h3v3h-3zM1098.1 574.2h3v3h-3zM1098.3 581.2h3v3h-3zM1107.1 558.2h3v3h-3zM1104.4 566.6h3v3h-3zM1100.9 578.2h3v3h-3zM1102.4 569.7h3v3h-3zM1103.4 564.8h3v3h-3zM1098.3 573.5h3v3h-3zM1099.5 577h3v3h-3zM1101.9 572.2h3v3h-3zM1095.9 583h3v3h-3zM1104.2 556.4h3v3h-3zM1103 566.6h3v3h-3zM1104.1 576.4h3v3h-3zM1102.4 575.4h3v3h-3zM1095.2 577.7h3v3h-3zM1106 556.7h3v3h-3zM1096.8 581.6h3v3h-3zM1103.7 570.9h3v3h-3zM1096 579.6h3v3h-3zM1109.4 554.9h3v3h-3zM1097.4 578.6h3v3h-3zM1102.3 573.4h3v3h-3zM1106.6 565.8h3v3h-3zM1106.1 558.5h3v3h-3zM1107.1 561.7h3v3h-3zM1105.1 560.3h3v3h-3zM1107.3 560.2h3v3h-3zM1103.9 554.4h3v3h-3zM1102.4 555.4h3v3h-3zM1106.1 560.4h3v3h-3zM1106.2 569.7h3v3h-3zM1102.6 565.9h3v3h-3zM1108.6 560.7h3v3h-3zM1102.6 564.7h3v3h-3zM1101.6 569.7h3v3h-3zM1103.2 560.9h3v3h-3zM1101.7 571.9h3v3h-3zM1099.7 571.4h3v3h-3zM1108.5 560.5h3v3h-3zM1102 568.2h3v3h-3zM1097.4 577.6h3v3h-3zM1099.2 579.5h3v3h-3zM1100 564.6h3v3h-3zM1105.6 554.9h3v3h-3zM1109 558.7h3v3h-3zM1105 553.3h3v3h-3zM1105 571.8h3v3h-3zM1093.5 582.2h3v3h-3zM1103.1 566.3h3v3h-3zM1109.3 556.2h3v3h-3zM1106.9 568.6h3v3h-3zM1102.8 567.9h3v3h-3zM1103.6 562.3h3v3h-3zM1101.7 573h3v3h-3zM1104.5 574.2h3v3h-3zM1104.6 563h3v3h-3zM1097.1 580.4h3v3h-3zM1101.9 571.6h3v3h-3zM1106.4 567.2h3v3h-3zM1107.4 554h3v3h-3zM1102.8 570.6h3v3h-3zM1106.6 552.6h3v3h-3zM1105.4 568.3h3v3h-3zM1097.4 578h3v3h-3zM1110.4 554.5h3v3h-3zM1099.4 566.8h3v3h-3zM1108.3 556.7h3v3h-3zM1110 559.9h3v3h-3zM1106 556.1h3v3h-3zM1097 578.4h3v3h-3zM1102.6 568h3v3h-3zM1096.5 577.1h3v3h-3zM1104.7 564.6h3v3h-3zM1104.9 574.3h3v3h-3zM1100.2 562.8h3v3h-3zM1103.8 571.9h3v3h-3zM1101.9 574.9h3v3h-3zM1095.5 583.1h3v3h-3zM1106.9 558h3v3h-3zM1101.8 562.3h3v3h-3zM1102.9 568.6h3v3h-3zM1101.1 576h3v3h-3zM1106.9 568.8h3v3h-3zM1102.5 565.8h3v3h-3zM1095.6 579.1h3v3h-3zM1102 559.2h3v3h-3zM1095.4 579.8h3v3h-3zM1105.3 568.6h3v3h-3zM1106.2 565.7h3v3h-3zM1093.8 580.5h3v3h-3zM1103.9 559.5h3v3h-3zM1103.6 561.3h3v3h-3zM1097 577.9h3v3h-3zM1101.3 581.9h3v3h-3zM1102.1 565.4h3v3h-3zM1101 569.6h3v3h-3zM1100.7 583.2h3v3h-3zM1107.1 567.1h3v3h-3zM1102.8 570.6h3v3h-3zM1096 574.8h3v3h-3zM1110.1 556.1h3v3h-3zM1103.7 575.2h3v3h-3zM1104.3 558h3v3h-3zM1107.3 566.5h3v3h-3zM1106.1 569.8h3v3h-3zM1098.8 576h3v3h-3zM1102.5 560.8h3v3h-3zM1103.4 575.3h3v3h-3zM1104.7 569.7h3v3h-3zM1097 575.3h3v3h-3zM1098.4 571.8h3v3h-3zM1105.9 553.2h3v3h-3zM1100 565.3h3v3h-3zM1101.9 567h3v3h-3zM1097.9 570.1h3v3h-3zM1101 580.9h3v3h-3zM1098.8 572.2h3v3h-3zM1097.3 577.3h3v3h-3zM1095.8 575.1h3v3h-3zM1102.9 562.8h3v3h-3zM1100.4 579.6h3v3h-3zM1096.2 580.3h3v3h-3zM1103 556.9h3v3h-3zM1104.6 571.1h3v3h-3zM1103 557.9h3v3h-3zM1102.7 573.5h3v3h-3zM1104.8 573.5h3v3h-3zM1102.9 578.7h3v3h-3zM1100.3 567.4h3v3h-3zM1098.9 568.8h3v3h-3zM1102.7 561.3h3v3h-3zM1107.5 556.3h3v3h-3zM1099 571.7h3v3h-3zM1101.3 564.2h3v3h-3zM1103.4 555.7h3v3h-3zM1102.9 568.1h3v3h-3zM1102.1 576.2h3v3h-3zM1102.5 572.4h3v3h-3zM1101.6 565.7h3v3h-3zM1097.9 570.6h3v3h-3zM1101.8 579.3h3v3h-3zM1101.8 574.3h3v3h-3zM1098.7 580.6h3v3h-3zM1100.9 572.6h3v3h-3zM1096.7 573.4h3v3h-3zM1098.2 573.4h3v3h-3zM1100.1 580.5h3v3h-3zM1099.3 574.8h3v3h-3zM1109.2 556.5h3v3h-3zM1109.6 557.6h3v3h-3zM1096.6 579.1h3v3h-3zM1098.8 583.4h3v3h-3zM1103 562.9h3v3h-3zM1102.8 571.5h3v3h-3zM1102.6 561.5h3v3h-3zM1105 557.2h3v3h-3zM1101.2 563.4h3v3h-3zM1101.6 581.4h3v3h-3zM1106.7 561.7h3v3h-3zM1093.7 581.2h3v3h-3zM1096.3 577.9h3v3h-3zM1099.3 574.1h3v3h-3zM1095.9 582.1h3v3h-3zM1101.3 563.1h3v3h-3zM1106.7 558.1h3v3h-3zM1102.8 560.9h3v3h-3zM1103.2 570.9h3v3h-3zM1096.8 571.6h3v3h-3zM1108.4 558.8h3v3h-3zM1096.4 573.6h3v3h-3zM1107.2 557.7h3v3h-3zM1095.5 581.6h3v3h-3zM1100.6 581.2h3v3h-3zM1102.6 578.5h3v3h-3zM1101.8 559.4h3v3h-3zM1103.7 562h3v3h-3zM1107.9 561.7h3v3h-3zM1096.7 573.9h3v3h-3zM1106.7 554.3h3v3h-3zM1108.7 555.6h3v3h-3zM1107.8 561.9h3v3h-3zM1103.5 564.3h3v3h-3zM1099.2 582.7h3v3h-3zM1101.8 570.6h3v3h-3zM1104 554h3v3h-3zM1101.5 558.9h3v3h-3zM1107.2 563h3v3h-3zM1100.2 575.9h3v3h-3zM1108.7 554.2h3v3h-3zM1100.9 566.3h3v3h-3zM1096.5 581.6h3v3h-3zM1099.1 570.2h3v3h-3zM1097.4 573.2h3v3h-3zM1106.1 562.4h3v3h-3zM1097.5 575.7h3v3h-3zM1102.2 567.7h3v3h-3zM1106 554.4h3v3h-3zM1103.4 575.6h3v3h-3zM1099.1 579.6h3v3h-3zM1103.2 574.4h3v3h-3zM1105.1 567.6h3v3h-3zM1100.2 579h3v3h-3zM1103.2 565.2h3v3h-3zM1108.1 561.1h3v3h-3zM1096.6 579.7h3v3h-3zM1098.5 571.8h3v3h-3zM1095.9 581.3h3v3h-3zM1100.8 578.3h3v3h-3zM1098.7 568.8h3v3h-3zM1100.3 573.7h3v3h-3zM1098.3 571.6h3v3h-3zM1093.9 580.2h3v3h-3zM1109.9 553.9h3v3h-3zM1099.7 581.8h3v3h-3zM1108.2 553.7h3v3h-3zM1098.1 580.4h3v3h-3zM1099.2 569.5h3v3h-3zM1098.9 565.6h3v3h-3zM1108.2 555.8h3v3h-3zM1107.4 565.7h3v3h-3zM1102.1 562.9h3v3h-3zM1096.8 575.2h3v3h-3zM1099.5 583.7h3v3h-3zM1104.5 557.3h3v3h-3zM1100.1 578.5h3v3h-3zM1109.7 558.9h3v3h-3zM1101.1 579.4h3v3h-3zM1108.1 558.8h3v3h-3zM1098 572.8h3v3h-3zM1104.5 557.8h3v3h-3zM1101.4 572.6h3v3h-3zM1103.7 573.3h3v3h-3zM1095.9 575.1h3v3h-3zM1104.2 566.7h3v3h-3zM1107.6 559.1h3v3h-3zM1110.5 557.1h3v3h-3zM1102.4 568.5h3v3h-3zM1097.1 578.4h3v3h-3zM1099.9 564.6h3v3h-3zM1101.7 561.6h3v3h-3zM1105.7 571.5h3v3h-3zM1094.3 579.7h3v3h-3zM1099.3 569.3h3v3h-3zM1100.8 560h3v3h-3zM1109.1 558.9h3v3h-3zM1105 559.3h3v3h-3zM1101.4 575.5h3v3h-3zM1113.6 536.7h3v3h-3zM1111.6 542.2h3v3h-3zM1118.8 533.4h3v3h-3zM1116.3 523.9h3v3h-3zM1111.1 543.6h3v3h-3zM1113.6 535h3v3h-3zM1106.9 545.5h3v3h-3zM1111.6 542.8h3v3h-3zM1123.2 524.2h3v3h-3zM1122.4 527.7h3v3h-3zM1120.7 523.6h3v3h-3zM1114.3 526.4h3v3h-3zM1117.1 532.4h3v3h-3zM1112.1 544h3v3h-3zM1119.5 523.4h3v3h-3zM1114.2 532.2h3v3h-3zM1115.3 543.5h3v3h-3zM1105.7 551h3v3h-3zM1115.8 531.8h3v3h-3zM1110.3 550.8h3v3h-3zM1113.1 541.7h3v3h-3zM1113.3 540.1h3v3h-3zM1114 535.1h3v3h-3zM1106.7 548.3h3v3h-3zM1119.2 525.6h3v3h-3zM1112.2 550.6h3v3h-3zM1107.7 543.7h3v3h-3zM1112.4 535.7h3v3h-3zM1114.4 538h3v3h-3zM1111.3 546.1h3v3h-3zM1109.4 549.5h3v3h-3zM1111.7 533.4h3v3h-3zM1109.4 538.9h3v3h-3zM1116.3 540.5h3v3h-3zM1116.4 536.6h3v3h-3zM1114.1 528.3h3v3h-3zM1121.9 523h3v3h-3zM1111.9 550.8h3v3h-3zM1110 539.7h3v3h-3zM1120.2 523.4h3v3h-3zM1114.5 527.8h3v3h-3zM1113.8 527.5h3v3h-3zM1109.8 545.2h3v3h-3zM1108.9 552.7h3v3h-3zM1108.9 545.7h3v3h-3zM1116 530.8h3v3h-3zM1119.8 525.8h3v3h-3zM1119.1 526.2h3v3h-3zM1122.2 525.8h3v3h-3zM1112 548.5h3v3h-3zM1114.3 543.2h3v3h-3zM1118.9 532.9h3v3h-3zM1108.4 548.7h3v3h-3zM1120.6 531.6h3v3h-3zM1113 529.1h3v3h-3zM1112.1 532.9h3v3h-3zM1117.1 536.9h3v3h-3zM1112.8 550.8h3v3h-3zM1114.2 531.2h3v3h-3zM1109.8 546.8h3v3h-3zM1118.9 527.3h3v3h-3zM1105.4 547.8h3v3h-3zM1111.7 550.5h3v3h-3zM1110.6 547.4h3v3h-3zM1113 544.5h3v3h-3zM1109.7 540h3v3h-3zM1119 526h3v3h-3zM1118.9 532.6h3v3h-3zM1115.6 522h3v3h-3zM1109.3 541.2h3v3h-3zM1117.1 538.6h3v3h-3zM1113.9 526.7h3v3h-3zM1112.7 548.3h3v3h-3zM1115.4 531.6h3v3h-3zM1111 537.1h3v3h-3zM1117.4 526.4h3v3h-3zM1119.5 526.3h3v3h-3zM1107.4 550h3v3h-3zM1113.8 547.5h3v3h-3zM1111.4 533.2h3v3h-3zM1108.9 547.2h3v3h-3zM1114.3 538.7h3v3h-3zM1111.5 540.4h3v3h-3zM1108.6 553h3v3h-3zM1108.1 541h3v3h-3zM1117.5 540.3h3v3h-3zM1105.6 550.3h3v3h-3zM1114.3 531.4h3v3h-3zM1111.3 544.5h3v3h-3zM1111.7 545h3v3h-3zM1118.1 538.1h3v3h-3zM1116.3 520.7h3v3h-3zM1117 536.5h3v3h-3zM1120.9 526.8h3v3h-3zM1116.8 533.8h3v3h-3zM1110.6 541h3v3h-3zM1120.7 529.5h3v3h-3zM1120.9 524.5h3v3h-3zM1113.8 544.4h3v3h-3zM1117.1 530.1h3v3h-3zM1114.5 532.8h3v3h-3zM1113.9 535.6h3v3h-3zM1107.3 550.5h3v3h-3zM1115.9 544.5h3v3h-3zM1112.7 537.6h3v3h-3zM1108.7 544.5h3v3h-3zM1109.2 540.9h3v3h-3zM1111 553.9h3v3h-3zM1113 538.7h3v3h-3zM1113.3 534.7h3v3h-3zM1106.4 546.3h3v3h-3zM1110 543h3v3h-3zM1117.3 530.6h3v3h-3zM1118.1 523.4h3v3h-3zM1119.9 524.7h3v3h-3zM1106.3 549.4h3v3h-3zM1119 536.5h3v3h-3zM1114.5 542.8h3v3h-3zM1116.2 540.9h3v3h-3zM1108.6 550.8h3v3h-3zM1117.1 524.4h3v3h-3zM1107.2 543.4h3v3h-3zM1108 547.1h3v3h-3zM1114.3 530.2h3v3h-3zM1110.4 539.6h3v3h-3zM1118.3 535.5h3v3h-3zM1113.4 531.9h3v3h-3zM1120.7 531.7h3v3h-3zM1111.9 533h3v3h-3zM1120.9 529.1h3v3h-3zM1109.1 541.2h3v3h-3zM1110.5 547.2h3v3h-3zM1119.8 526.3h3v3h-3zM1116.9 523.4h3v3h-3zM1114 543.6h3v3h-3zM1115.1 532.5h3v3h-3zM1114.9 531.4h3v3h-3zM1107.9 550.8h3v3h-3zM1109.5 551.9h3v3h-3zM1112 542.5h3v3h-3zM1113.3 533.6h3v3h-3zM1109.6 537h3v3h-3zM1119.8 524.5h3v3h-3zM1116.4 520.9h3v3h-3zM1117.3 534.7h3v3h-3zM1108.6 541.4h3v3h-3zM1106.9 546.9h3v3h-3zM1114 527.9h3v3h-3zM1117.3 527.5h3v3h-3zM1115.2 536.5h3v3h-3zM1116 536.3h3v3h-3zM1113.9 533.8h3v3h-3zM1115 529.2h3v3h-3zM1118.8 531.8h3v3h-3zM1115.9 528.3h3v3h-3zM1121.3 530.6h3v3h-3zM1111.7 538.2h3v3h-3zM1117.9 538.2h3v3h-3zM1105.5 547.2h3v3h-3zM1115 538.7h3v3h-3zM1116.3 528.5h3v3h-3zM1117.8 521.4h3v3h-3zM1113.9 528.2h3v3h-3zM1105.3 550.8h3v3h-3zM1108.7 551h3v3h-3zM1112.1 534.7h3v3h-3zM1118.4 523.4h3v3h-3zM1107.1 547.2h3v3h-3zM1120.4 531.5h3v3h-3zM1106 546.4h3v3h-3zM1115.4 528h3v3h-3zM1120 522.5h3v3h-3zM1114.5 532.7h3v3h-3zM1117.4 528h3v3h-3zM1115.2 544.2h3v3h-3zM1111.1 550.3h3v3h-3zM1109.9 551.4h3v3h-3zM1115.8 541.7h3v3h-3zM1109.2 551.3h3v3h-3zM1116.4 541.6h3v3h-3zM1120.6 524.1h3v3h-3zM1108.6 545.2h3v3h-3zM1110.6 544.6h3v3h-3zM1108.3 544.8h3v3h-3zM1118.4 529.9h3v3h-3zM1115.6 545.3h3v3h-3zM1111.1 546.4h3v3h-3zM1112.8 549.2h3v3h-3zM1116.7 525.3h3v3h-3zM1119.8 530.7h3v3h-3zM1110 543.6h3v3h-3zM1117.1 539.2h3v3h-3zM1111.4 548.5h3v3h-3zM1114.9 534.3h3v3h-3zM1118.2 536.2h3v3h-3zM1113.6 547.7h3v3h-3zM1114.6 542.7h3v3h-3zM1115.9 525.2h3v3h-3zM1122.6 527.8h3v3h-3zM1107.7 542.2h3v3h-3zM1113.2 551h3v3h-3zM1111.4 553.9h3v3h-3zM1111.7 549h3v3h-3zM1106.4 548.8h3v3h-3zM1112.9 530.5h3v3h-3zM1115.5 543.8h3v3h-3zM1119.8 532h3v3h-3zM1116.1 521.1h3v3h-3zM1113.2 546.6h3v3h-3zM1112.6 530.1h3v3h-3zM1111.9 536.4h3v3h-3zM1110 538.3h3v3h-3zM1112.2 553.9h3v3h-3zM1114.9 544.4h3v3h-3zM1109.3 549.1h3v3h-3zM1109 548.5h3v3h-3zM1111.6 548h3v3h-3zM1111.7 549.1h3v3h-3zM1110.9 536.2h3v3h-3zM1112.2 542h3v3h-3zM1118 524h3v3h-3zM1114.4 547.8h3v3h-3zM1120.7 526.4h3v3h-3zM1108.6 543.4h3v3h-3zM1107.6 543.3h3v3h-3zM1108.5 551.6h3v3h-3zM1113.4 540.5h3v3h-3zM1108.4 540.1h3v3h-3zM1117.6 532.1h3v3h-3zM1115 536.3h3v3h-3zM1120.3 533.1h3v3h-3zM1120.4 526.6h3v3h-3zM1111.3 540h3v3h-3zM1116.9 541.5h3v3h-3zM1111.7 540.6h3v3h-3zM1110 539.1h3v3h-3zM1116.1 520.4h3v3h-3zM1118.9 535.5h3v3h-3zM1111.9 545.4h3v3h-3zM1110.4 540.4h3v3h-3zM1107.2 545.5h3v3h-3zM1120.6 527.8h3v3h-3zM1115.4 523.4h3v3h-3zM1115 530.9h3v3h-3zM1116.2 533.1h3v3h-3zM1115.6 544.7h3v3h-3zM1109.9 553.7h3v3h-3zM1118.5 526.6h3v3h-3zM1119.2 536.2h3v3h-3zM1111.8 546.1h3v3h-3zM1116.1 529.5h3v3h-3zM1115.8 530.5h3v3h-3zM1115.3 537h3v3h-3zM1114.8 531.4h3v3h-3zM1116 533.6h3v3h-3zM1111.6 546.4h3v3h-3zM1114.5 546h3v3h-3zM1115.5 539h3v3h-3zM1114.1 536.7h3v3h-3zM1107.7 544.9h3v3h-3zM1119.5 524.3h3v3h-3zM1114.6 536.8h3v3h-3zM1115.8 526.9h3v3h-3zM1112.7 548.6h3v3h-3zM1114.7 539.1h3v3h-3zM1121.3 528.6h3v3h-3zM1114.8 524.6h3v3h-3zM1115.3 542.2h3v3h-3zM1114.9 526.4h3v3h-3zM1107.8 547.3h3v3h-3zM1108 549.3h3v3h-3zM1118 528.2h3v3h-3zM1110.1 537.6h3v3h-3zM1116.8 542.3h3v3h-3zM1116 531.3h3v3h-3zM1116.2 539.1h3v3h-3zM1114.4 528.3h3v3h-3zM1115.2 531.4h3v3h-3zM1112.2 536h3v3h-3zM1111.2 540.9h3v3h-3zM1108.6 539.6h3v3h-3zM1110.9 546.9h3v3h-3zM1106 550.1h3v3h-3zM1114.9 530h3v3h-3zM1109.8 542h3v3h-3zM1114.8 525.8h3v3h-3zM1118.7 534.4h3v3h-3zM1109.8 546.4h3v3h-3zM1118.6 528.8h3v3h-3zM1108.7 539.9h3v3h-3zM1112.3 538.8h3v3h-3zM1115 530.2h3v3h-3zM1114.1 540.8h3v3h-3zM1116.7 527.4h3v3h-3zM1113.3 541.2h3v3h-3zM1116.8 523.3h3v3h-3zM1121.6 523.6h3v3h-3zM1113.8 541.9h3v3h-3zM1108.4 541.3h3v3h-3zM1129.6 498.1h3v3h-3zM1127.5 505.7h3v3h-3zM1135.3 495.3h3v3h-3zM1121.3 521.5h3v3h-3zM1126.3 507.6h3v3h-3zM1131 495.7h3v3h-3zM1130.3 508.9h3v3h-3zM1126.2 508.4h3v3h-3zM1130.3 507.5h3v3h-3zM1131.8 502.3h3v3h-3zM1121.7 507.8h3v3h-3zM1130.2 501.2h3v3h-3zM1133.5 499.4h3v3h-3zM1119.5 517.3h3v3h-3zM1123.9 520.8h3v3h-3zM1118.2 517.3h3v3h-3zM1131.3 499h3v3h-3zM1122.4 521h3v3h-3zM1129.9 500h3v3h-3zM1122.5 521h3v3h-3zM1126.8 509.4h3v3h-3zM1137.3 492.6h3v3h-3zM1128.9 493.5h3v3h-3zM1125 511.7h3v3h-3zM1124.2 523.6h3v3h-3zM1122 512.6h3v3h-3zM1122.4 511.4h3v3h-3zM1132.7 495.7h3v3h-3zM1126.6 505.9h3v3h-3zM1119.3 519.7h3v3h-3zM1135.2 496.5h3v3h-3zM1129.7 494.5h3v3h-3zM1119.2 514.1h3v3h-3zM1126.5 504.9h3v3h-3zM1126.6 507.6h3v3h-3zM1127.1 503.4h3v3h-3zM1128.5 495.9h3v3h-3zM1133.5 493.8h3v3h-3zM1119.4 519.7h3v3h-3zM1126.8 505.2h3v3h-3zM1126.4 503.8h3v3h-3zM1126.5 514.7h3v3h-3zM1126.1 513.8h3v3h-3zM1132.2 497.6h3v3h-3zM1130.4 509.7h3v3h-3zM1129.8 509.8h3v3h-3zM1120.5 520h3v3h-3zM1124.9 500.4h3v3h-3zM1128 493.5h3v3h-3zM1125.5 502.2h3v3h-3zM1133.6 493.8h3v3h-3zM1131.3 497.3h3v3h-3zM1131.2 501.9h3v3h-3zM1121.8 511.8h3v3h-3zM1128.4 494.5h3v3h-3zM1130.1 492.3h3v3h-3zM1118.3 517.4h3v3h-3zM1135.4 499.7h3v3h-3zM1127.4 509.8h3v3h-3zM1127.2 515.6h3v3h-3zM1126.5 499.3h3v3h-3zM1122.6 521h3v3h-3zM1123.5 521.9h3v3h-3zM1122 511.9h3v3h-3zM1126.6 503.3h3v3h-3zM1124.8 503.3h3v3h-3zM1131.1 493h3v3h-3zM1128.5 494.5h3v3h-3zM1135.9 499.4h3v3h-3zM1121.5 508.1h3v3h-3zM1126.7 510.8h3v3h-3zM1123.7 515.3h3v3h-3zM1121.2 519h3v3h-3zM1129.7 499.2h3v3h-3zM1126 499.4h3v3h-3zM1128.1 494.8h3v3h-3zM1137.9 495.7h3v3h-3zM1133.5 493.1h3v3h-3zM1122.9 512.4h3v3h-3zM1130.6 498.8h3v3h-3zM1129.1 491.5h3v3h-3zM1130.2 508.5h3v3h-3zM1128.9 503.7h3v3h-3zM1118.5 517.9h3v3h-3zM1127.3 515.1h3v3h-3zM1129.3 494.7h3v3h-3zM1128.4 491.4h3v3h-3zM1132.8 505.4h3v3h-3zM1128.9 513.1h3v3h-3zM1125.1 499.8h3v3h-3zM1124.4 511.5h3v3h-3zM1125.7 515.3h3v3h-3zM1125.1 517.6h3v3h-3zM1120.6 511.1h3v3h-3zM1124.3 503.1h3v3h-3zM1130.5 506.1h3v3h-3zM1128.1 503.4h3v3h-3zM1120.8 521h3v3h-3zM1122.8 519.5h3v3h-3zM1122.7 518.2h3v3h-3zM1124 510.6h3v3h-3zM1126.3 500.1h3v3h-3zM1126.3 518.4h3v3h-3zM1127.8 513.1h3v3h-3zM1132.1 494.9h3v3h-3zM1118.9 515.9h3v3h-3zM1128.7 493.2h3v3h-3zM1127.4 506.8h3v3h-3zM1121.6 518.2h3v3h-3zM1122.8 517.1h3v3h-3zM1126 505.8h3v3h-3zM1122.1 515.5h3v3h-3zM1119.9 514.3h3v3h-3zM1126.7 516h3v3h-3zM1130.7 508.1h3v3h-3zM1124 523.1h3v3h-3zM1129.6 508.1h3v3h-3zM1129.9 505.2h3v3h-3zM1125.5 515.9h3v3h-3zM1120.4 516.4h3v3h-3zM1119.8 520.7h3v3h-3zM1125.5 505.1h3v3h-3zM1128.5 492.6h3v3h-3zM1125.8 503h3v3h-3zM1131.1 504.8h3v3h-3zM1125.9 498.2h3v3h-3zM1124.5 514.8h3v3h-3zM1129.3 489.6h3v3h-3zM1130.6 503.7h3v3h-3zM1130 496.1h3v3h-3zM1131.1 496.8h3v3h-3zM1128.2 491.4h3v3h-3zM1132.4 492.6h3v3h-3zM1122.2 507.8h3v3h-3zM1125.6 515.3h3v3h-3zM1126.4 499.6h3v3h-3zM1121.9 510h3v3h-3zM1120.6 514.8h3v3h-3zM1128.9 513.6h3v3h-3zM1137 492.5h3v3h-3zM1126.8 507.2h3v3h-3zM1134.9 499.7h3v3h-3zM1131.9 499.4h3v3h-3zM1124 516.3h3v3h-3zM1134.7 497.1h3v3h-3zM1123.3 519.9h3v3h-3zM1122.1 509.9h3v3h-3zM1135.3 492.9h3v3h-3zM1127.1 497.4h3v3h-3zM1135.9 498.3h3v3h-3zM1135.2 495.1h3v3h-3zM1134.7 497.6h3v3h-3zM1127.8 503.5h3v3h-3zM1134.4 497.7h3v3h-3zM1130.3 494.2h3v3h-3zM1133.9 492.4h3v3h-3zM1129.5 491.1h3v3h-3zM1136.5 493.4h3v3h-3zM1126.6 515.5h3v3h-3zM1120.9 513.7h3v3h-3zM1124.2 506.8h3v3h-3zM1130.7 508.4h3v3h-3zM1131.7 501.7h3v3h-3zM1128.2 511h3v3h-3zM1133 498.3h3v3h-3zM1136.5 494.4h3v3h-3zM1122.2 507.8h3v3h-3zM1132.4 503.3h3v3h-3zM1125.7 511.9h3v3h-3zM1134.7 497.4h3v3h-3zM1120.2 521.8h3v3h-3zM1117.3 520.1h3v3h-3zM1130.7 496.5h3v3h-3zM1128.2 503.1h3v3h-3zM1122.4 510.5h3v3h-3zM1128.1 512.4h3v3h-3zM1126.9 502h3v3h-3zM1119.5 518.4h3v3h-3zM1129.4 500.1h3v3h-3zM1132.3 502.9h3v3h-3zM1123.4 519h3v3h-3zM1123.4 521.9h3v3h-3zM1120.8 515.4h3v3h-3zM1132.1 491.8h3v3h-3zM1126.6 516.6h3v3h-3zM1132.3 504.8h3v3h-3zM1125.7 509.8h3v3h-3zM1133.6 492.5h3v3h-3zM1130.8 490.1h3v3h-3zM1128.5 494.9h3v3h-3zM1123 503.7h3v3h-3zM1126.4 518.3h3v3h-3zM1129.3 509.2h3v3h-3zM1122.4 513.7h3v3h-3zM1122 519.1h3v3h-3zM1132.3 495.4h3v3h-3zM1129.2 512.1h3v3h-3zM1134.3 495.1h3v3h-3zM1122.3 520.1h3v3h-3zM1130.5 510.1h3v3h-3zM1126.6 511.5h3v3h-3zM1127.8 502h3v3h-3zM1129.1 506.6h3v3h-3zM1132.8 494h3v3h-3zM1129.4 512.6h3v3h-3zM1123.7 521.5h3v3h-3zM1130.2 501.1h3v3h-3zM1128.7 509.2h3v3h-3zM1134.8 495.5h3v3h-3zM1126.2 496.8h3v3h-3zM1121.6 510.5h3v3h-3zM1137.3 494.3h3v3h-3zM1122.9 517.9h3v3h-3zM1124.1 502.3h3v3h-3zM1127.8 510.9h3v3h-3zM1127.1 501.3h3v3h-3zM1128.8 497.5h3v3h-3zM1127 504.9h3v3h-3zM1135.3 492.4h3v3h-3zM1133.1 497.9h3v3h-3zM1129.6 512.1h3v3h-3zM1131.9 500.9h3v3h-3zM1121.2 512.1h3v3h-3zM1131.2 505.6h3v3h-3zM1129.8 496.8h3v3h-3zM1122.3 517.7h3v3h-3zM1129.1 493.4h3v3h-3zM1127.3 497.8h3v3h-3zM1120.7 510.6h3v3h-3zM1123.3 512.3h3v3h-3zM1138.2 494.2h3v3h-3zM1121.2 515.5h3v3h-3zM1130.3 491.5h3v3h-3zM1124.1 511.8h3v3h-3zM1119.7 517.8h3v3h-3zM1124.7 509.4h3v3h-3zM1131.3 491.2h3v3h-3zM1126.5 517.2h3v3h-3zM1129.5 509.4h3v3h-3zM1131.6 503.5h3v3h-3zM1121.6 510.9h3v3h-3zM1130.4 498.5h3v3h-3zM1129.5 505.4h3v3h-3zM1128.5 497.8h3v3h-3zM1128.9 512.4h3v3h-3zM1125.6 504.8h3v3h-3zM1126.7 501.5h3v3h-3zM1126.5 496.2h3v3h-3zM1132.3 496.7h3v3h-3zM1129 512.8h3v3h-3zM1121.7 512.8h3v3h-3zM1121.6 520h3v3h-3zM1132.4 499.5h3v3h-3zM1128.7 510.5h3v3h-3zM1120.2 517.8h3v3h-3zM1133.5 504h3v3h-3zM1130.8 503.2h3v3h-3zM1130 497.6h3v3h-3zM1135.7 494h3v3h-3zM1124 511h3v3h-3zM1130 496.5h3v3h-3zM1125.9 517.7h3v3h-3zM1127.8 505.7h3v3h-3zM1133.3 503h3v3h-3zM1120.7 517.3h3v3h-3zM1120.4 519.6h3v3h-3zM1130.4 507.9h3v3h-3zM1130.2 501.7h3v3h-3zM1126.5 509.8h3v3h-3zM1127 514.9h3v3h-3zM1134.4 499.1h3v3h-3zM1123.7 518h3v3h-3zM1130.7 498.7h3v3h-3zM1136.6 496h3v3h-3zM1133.6 500.4h3v3h-3zM1132.8 503.5h3v3h-3zM1123.7 518.7h3v3h-3zM1131 500.7h3v3h-3zM1120.3 511.8h3v3h-3zM1131.6 504.7h3v3h-3zM1121.5 512.5h3v3h-3zM1119.9 513.5h3v3h-3zM1134.1 503.1h3v3h-3zM1130 496.6h3v3h-3zM1125.9 498.6h3v3h-3zM1130.2 495.3h3v3h-3zM1121.3 522.4h3v3h-3zM1120.3 516.9h3v3h-3zM1120.6 520h3v3h-3zM1130.7 506.1h3v3h-3zM1123.4 522h3v3h-3zM1119.5 517.6h3v3h-3zM1127.5 501.9h3v3h-3zM1125.4 512h3v3h-3zM1125.7 516.4h3v3h-3zM1126 516.8h3v3h-3zM1131.8 497.2h3v3h-3zM1122.9 522.1h3v3h-3zM1120.6 521.1h3v3h-3zM1122.2 507.2h3v3h-3zM1131 503.5h3v3h-3zM1127.4 503.5h3v3h-3zM1128.1 506.5h3v3h-3zM1126.5 516.4h3v3h-3zM1151.9 461.9h3v3h-3zM1146 460.5h3v3h-3zM1143.5 458.4h3v3h-3zM1137.1 474.5h3v3h-3zM1142.6 478h3v3h-3zM1143.8 469h3v3h-3zM1135.8 479h3v3h-3zM1137.6 477.6h3v3h-3zM1139.3 486.2h3v3h-3zM1140.9 474.8h3v3h-3zM1139 486h3v3h-3zM1134.5 483.9h3v3h-3zM1144.3 474.8h3v3h-3zM1150.9 462.3h3v3h-3zM1152.5 464h3v3h-3zM1146.9 469.9h3v3h-3zM1132 487.8h3v3h-3zM1137.9 492.4h3v3h-3zM1145.9 469.5h3v3h-3zM1136.4 482.3h3v3h-3zM1137.8 486.7h3v3h-3zM1146.2 459.4h3v3h-3zM1131.5 488.2h3v3h-3zM1143.4 482.1h3v3h-3zM1145.2 466h3v3h-3zM1131.6 486.1h3v3h-3zM1139.1 487.7h3v3h-3zM1146.1 479h3v3h-3zM1150.5 464.5h3v3h-3zM1144.4 478h3v3h-3zM1132 485.3h3v3h-3zM1142.3 473.7h3v3h-3zM1134.6 483.4h3v3h-3zM1138.5 492.3h3v3h-3zM1149.2 471.4h3v3h-3zM1147.5 460.5h3v3h-3zM1143.4 467.9h3v3h-3zM1149.6 467.8h3v3h-3zM1131.1 484.7h3v3h-3zM1138.1 484.9h3v3h-3zM1134.4 477h3v3h-3zM1149.2 466.9h3v3h-3zM1135.9 474.5h3v3h-3zM1147.3 463.8h3v3h-3zM1133.3 488.1h3v3h-3zM1147.3 473.7h3v3h-3zM1142.6 476.8h3v3h-3zM1134.4 483.5h3v3h-3zM1145.8 462.5h3v3h-3zM1136.5 488.3h3v3h-3zM1132.9 485.8h3v3h-3zM1141.6 477.4h3v3h-3zM1145.5 472.5h3v3h-3zM1135.9 475.4h3v3h-3zM1139.6 466.4h3v3h-3zM1139.8 476.1h3v3h-3zM1146.1 471.4h3v3h-3zM1139.1 484.4h3v3h-3zM1143.8 469.6h3v3h-3zM1140.3 488.7h3v3h-3zM1138 470.4h3v3h-3zM1142.5 486.1h3v3h-3zM1136.3 483.5h3v3h-3zM1149 468.4h3v3h-3zM1145.8 472.7h3v3h-3zM1130.6 488h3v3h-3zM1151.6 462.5h3v3h-3zM1130.1 487.8h3v3h-3zM1142 485.7h3v3h-3zM1139 485.1h3v3h-3zM1149.1 463.1h3v3h-3zM1144.7 461.5h3v3h-3zM1131.4 484.1h3v3h-3zM1140.6 465.7h3v3h-3zM1150.5 462.1h3v3h-3zM1139.9 486.8h3v3h-3zM1136.6 486.1h3v3h-3zM1138.5 489.2h3v3h-3zM1151.6 465.8h3v3h-3zM1137.6 492.7h3v3h-3zM1145.6 475.5h3v3h-3zM1142.6 476.2h3v3h-3zM1145.9 474.2h3v3h-3zM1130.7 486.6h3v3h-3zM1139.7 473.2h3v3h-3zM1134.6 476.4h3v3h-3zM1139.6 465.6h3v3h-3zM1149.5 467.1h3v3h-3zM1136.7 475.1h3v3h-3zM1140.3 469.5h3v3h-3zM1136.2 475.9h3v3h-3zM1148.7 461.2h3v3h-3zM1134.9 478.2h3v3h-3zM1148.4 470.3h3v3h-3zM1141.9 462.8h3v3h-3zM1137.3 478.8h3v3h-3zM1141.2 465.7h3v3h-3zM1148 474.8h3v3h-3zM1139.7 464.8h3v3h-3zM1131.3 487h3v3h-3zM1145.1 470.2h3v3h-3zM1141.1 474.8h3v3h-3zM1141.1 479.1h3v3h-3zM1148 473.2h3v3h-3zM1147.9 470h3v3h-3zM1151 464.7h3v3h-3zM1139.3 466.6h3v3h-3zM1147.7 471.8h3v3h-3zM1144.3 479.6h3v3h-3zM1141.2 487.7h3v3h-3zM1142.6 478.5h3v3h-3zM1135.7 482.3h3v3h-3zM1137.3 479.5h3v3h-3zM1134.9 487.9h3v3h-3zM1150 461.6h3v3h-3zM1150.5 463.7h3v3h-3zM1151.6 467.8h3v3h-3zM1142.5 466.7h3v3h-3zM1136.8 483h3v3h-3zM1131.7 489.2h3v3h-3zM1151.6 465.9h3v3h-3zM1141.7 482.3h3v3h-3zM1149.6 469.2h3v3h-3zM1145.9 466.7h3v3h-3zM1138.9 489.4h3v3h-3zM1139.9 482h3v3h-3zM1139.8 479.9h3v3h-3zM1144.2 459.5h3v3h-3zM1143.3 475.4h3v3h-3zM1146.5 476.6h3v3h-3zM1144.3 480.5h3v3h-3zM1149.1 472.2h3v3h-3zM1132.5 487h3v3h-3zM1142.5 484.2h3v3h-3zM1131.9 489.6h3v3h-3zM1149.8 471.5h3v3h-3zM1136 485.4h3v3h-3zM1146.1 470.8h3v3h-3zM1147.6 469.3h3v3h-3zM1135.2 482.3h3v3h-3zM1136.4 491.1h3v3h-3zM1134.6 483.5h3v3h-3zM1149.6 462.1h3v3h-3zM1144.3 473.6h3v3h-3zM1144.8 473.6h3v3h-3zM1133.9 479.6h3v3h-3zM1130.2 486.8h3v3h-3zM1135.6 478.2h3v3h-3zM1135.7 487.6h3v3h-3zM1150.2 462.1h3v3h-3zM1140.8 483.9h3v3h-3zM1132.6 483.7h3v3h-3zM1137.5 481.3h3v3h-3zM1143.4 469.5h3v3h-3zM1140.1 466.5h3v3h-3zM1145.8 461.5h3v3h-3zM1140.9 463h3v3h-3zM1143 464.1h3v3h-3zM1149.8 466.3h3v3h-3zM1141.3 469.2h3v3h-3zM1131.1 489.4h3v3h-3zM1143.3 461.4h3v3h-3zM1144.5 471.2h3v3h-3zM1140.1 469.1h3v3h-3zM1132.1 484.8h3v3h-3zM1146.9 460.1h3v3h-3zM1144.2 471.3h3v3h-3zM1132.8 482.1h3v3h-3zM1137.8 492.3h3v3h-3zM1140.7 489.3h3v3h-3zM1141.7 480.9h3v3h-3zM1139 488.2h3v3h-3zM1136.3 482.7h3v3h-3zM1137.5 473h3v3h-3zM1140.7 484.8h3v3h-3zM1137 481.7h3v3h-3zM1142.1 466.1h3v3h-3zM1134 483.8h3v3h-3zM1138.2 478.6h3v3h-3zM1143 471.1h3v3h-3zM1141.6 461.9h3v3h-3zM1147.3 472.3h3v3h-3zM1132.6 481.6h3v3h-3zM1136.4 475.7h3v3h-3zM1143 477.9h3v3h-3zM1131.6 486.4h3v3h-3zM1137.5 474.7h3v3h-3zM1136.8 483.7h3v3h-3zM1131.4 485.4h3v3h-3zM1139 479.8h3v3h-3zM1148.2 462.4h3v3h-3zM1132.3 487.6h3v3h-3zM1145.5 468.4h3v3h-3zM1151.8 466.6h3v3h-3zM1142.1 462.6h3v3h-3zM1148 462.1h3v3h-3zM1134.2 482.1h3v3h-3zM1143.3 462.9h3v3h-3zM1132.9 487.4h3v3h-3zM1147 462.3h3v3h-3zM1140 466.3h3v3h-3zM1138.7 476.2h3v3h-3zM1138.7 485.5h3v3h-3zM1135.3 478.1h3v3h-3zM1148.1 460.6h3v3h-3zM1131.7 483.2h3v3h-3zM1143.7 471h3v3h-3zM1134.2 490.2h3v3h-3zM1145.2 468.4h3v3h-3zM1137.5 483.9h3v3h-3zM1144.4 473.2h3v3h-3zM1139.3 488.1h3v3h-3zM1150.4 463.1h3v3h-3zM1145 463.9h3v3h-3zM1143.5 461.5h3v3h-3zM1138.4 484.6h3v3h-3zM1142.4 461.1h3v3h-3zM1132.5 482.2h3v3h-3zM1136.6 475.8h3v3h-3zM1139.4 486.4h3v3h-3zM1147.2 475.3h3v3h-3zM1141.8 479.6h3v3h-3zM1138.8 492.8h3v3h-3zM1137.2 483.8h3v3h-3zM1146.2 477.5h3v3h-3zM1146.4 478.3h3v3h-3zM1140 470.5h3v3h-3zM1142.8 463.8h3v3h-3zM1148 460h3v3h-3zM1142.1 486.3h3v3h-3zM1137.8 480.7h3v3h-3zM1140.8 481.3h3v3h-3zM1133.2 489.8h3v3h-3zM1139.8 487.6h3v3h-3zM1135.2 491.6h3v3h-3zM1137.3 482.9h3v3h-3zM1144.5 474.8h3v3h-3zM1133.4 485.6h3v3h-3zM1140.5 489.5h3v3h-3zM1132.6 484.8h3v3h-3zM1142.5 475.4h3v3h-3zM1141.9 461.4h3v3h-3zM1134.1 482.3h3v3h-3zM1142 472.8h3v3h-3zM1144.1 480.4h3v3h-3zM1147.5 472.5h3v3h-3zM1145.3 460.3h3v3h-3zM1146.6 461.5h3v3h-3zM1139 491.4h3v3h-3zM1130.7 485.6h3v3h-3zM1136.1 481.1h3v3h-3zM1152.2 463.2h3v3h-3zM1140.5 478.3h3v3h-3zM1149.7 466.5h3v3h-3zM1143.6 471h3v3h-3zM1133.2 486.3h3v3h-3zM1144.5 471.2h3v3h-3zM1150 468.4h3v3h-3zM1144.5 459.7h3v3h-3zM1139.2 490.6h3v3h-3zM1138.9 471.9h3v3h-3zM1141.4 468.5h3v3h-3zM1136.1 483.1h3v3h-3zM1143.5 475.8h3v3h-3zM1137.6 490h3v3h-3zM1142.8 471.7h3v3h-3zM1147 471.9h3v3h-3zM1134 490.7h3v3h-3zM1146.1 471.2h3v3h-3zM1140 469.5h3v3h-3zM1151.1 463h3v3h-3zM1136.7 483.6h3v3h-3zM1144.6 460h3v3h-3zM1144.9 480.7h3v3h-3zM1144.1 461.9h3v3h-3zM1143.1 467.7h3v3h-3zM1146.6 472h3v3h-3zM1133.1 485.8h3v3h-3zM1134.8 483.3h3v3h-3zM1131 488.3h3v3h-3zM1139.1 478.2h3v3h-3zM1136.1 489.1h3v3h-3zM1148.5 462.4h3v3h-3zM1141.4 481.1h3v3h-3zM1137 476h3v3h-3zM1135.9 473.8h3v3h-3zM1140.1 468.5h3v3h-3zM1144.3 481.9h3v3h-3zM1148.8 469.1h3v3h-3zM1144.8 471.9h3v3h-3zM1149.3 471.7h3v3h-3zM1139.7 486.3h3v3h-3zM1135.9 480.6h3v3h-3zM1147.1 466.2h3v3h-3zM1150.5 466.8h3v3h-3zM1139.3 471.4h3v3h-3zM1134.7 490.8h3v3h-3zM1142.1 467.5h3v3h-3zM1130.1 486.6h3v3h-3zM1138.6 486.7h3v3h-3zM1131.5 489.7h3v3h-3zM1140.1 483.9h3v3h-3zM1142.9 458.1h3v3h-3zM1140.1 489.6h3v3h-3zM1144.1 459.3h3v3h-3zM1139.2 480.8h3v3h-3zM1152.6 449.8h3v3h-3zM1153.1 444h3v3h-3zM1144.7 456.1h3v3h-3zM1146.4 452.8h3v3h-3zM1160.7 442.2h3v3h-3zM1156 453.8h3v3h-3zM1158 436.8h3v3h-3zM1152.5 443.1h3v3h-3zM1163.9 432h3v3h-3zM1145.4 456.6h3v3h-3zM1158 438.1h3v3h-3zM1156.4 436.4h3v3h-3zM1164.8 437.6h3v3h-3zM1151 457.8h3v3h-3zM1153.9 455.5h3v3h-3zM1164.8 437.3h3v3h-3zM1147.4 450.7h3v3h-3zM1159.7 440.2h3v3h-3zM1147.2 454.2h3v3h-3zM1152.9 439.8h3v3h-3zM1155.3 439.1h3v3h-3zM1151.7 451.8h3v3h-3zM1159.6 445.2h3v3h-3zM1151.5 460.5h3v3h-3zM1149.6 452.2h3v3h-3zM1160.9 441.7h3v3h-3zM1163.1 443.8h3v3h-3zM1149.5 452.8h3v3h-3zM1156 438.3h3v3h-3zM1147.8 453.8h3v3h-3zM1164.7 438.5h3v3h-3zM1165.4 441h3v3h-3zM1158.6 434.5h3v3h-3zM1156 451.8h3v3h-3zM1150.6 459.1h3v3h-3zM1144.8 454.9h3v3h-3zM1152.4 442.2h3v3h-3zM1168 434h3v3h-3zM1152.1 444.1h3v3h-3zM1150.5 456.6h3v3h-3zM1155 443.3h3v3h-3zM1160.1 438.3h3v3h-3zM1155.7 433.8h3v3h-3zM1148.3 457.4h3v3h-3zM1153.1 443.8h3v3h-3zM1155.6 437.9h3v3h-3zM1153.2 450.3h3v3h-3zM1163 440h3v3h-3zM1153.7 448.4h3v3h-3zM1168.6 434.5h3v3h-3zM1153.4 438.7h3v3h-3zM1157.3 447h3v3h-3zM1147.5 448.9h3v3h-3zM1169.2 432.7h3v3h-3zM1150.1 456h3v3h-3zM1155.8 439.9h3v3h-3zM1152.4 459.5h3v3h-3zM1159.8 436.1h3v3h-3zM1148.6 456.9h3v3h-3zM1155.2 460h3v3h-3zM1146.9 457.4h3v3h-3zM1156 434.2h3v3h-3zM1145.3 454.4h3v3h-3zM1151.4 455.3h3v3h-3zM1157.4 432.4h3v3h-3zM1154.3 456.4h3v3h-3zM1153.3 446.1h3v3h-3zM1147.5 454.9h3v3h-3zM1158.8 427.8h3v3h-3zM1155.4 453.6h3v3h-3zM1167.6 435.4h3v3h-3zM1161.4 448.4h3v3h-3zM1155.4 440.3h3v3h-3zM1158.4 447.2h3v3h-3zM1155.4 435.2h3v3h-3zM1156.8 456.9h3v3h-3zM1153.7 458.7h3v3h-3zM1150.9 448.3h3v3h-3zM1152.1 452.2h3v3h-3zM1159.5 427.4h3v3h-3zM1159.7 432.7h3v3h-3zM1154 456.3h3v3h-3zM1150.2 447.8h3v3h-3zM1158.9 449.3h3v3h-3zM1163 434.1h3v3h-3zM1151.6 461.4h3v3h-3zM1162.9 444h3v3h-3zM1161.2 429.7h3v3h-3zM1165.9 436.1h3v3h-3zM1151.1 451.2h3v3h-3zM1152.6 447.8h3v3h-3zM1149.8 446.2h3v3h-3zM1156.8 455.6h3v3h-3zM1156.6 448.4h3v3h-3zM1165.7 434.5h3v3h-3zM1157.2 455.1h3v3h-3zM1167.3 438.6h3v3h-3zM1163.1 439.4h3v3h-3zM1158.2 433.6h3v3h-3zM1157.3 439.2h3v3h-3zM1157.1 432h3v3h-3zM1155 442.6h3v3h-3zM1159.4 433.9h3v3h-3zM1166.1 436.5h3v3h-3zM1157.7 430.8h3v3h-3zM1166.4 432.9h3v3h-3zM1161 440.3h3v3h-3zM1153.4 460.8h3v3h-3zM1156.6 443.1h3v3h-3zM1157.1 451.4h3v3h-3zM1165.4 438.5h3v3h-3zM1150 452.7h3v3h-3zM1147.8 450.2h3v3h-3zM1148.1 447.3h3v3h-3zM1157.6 433.9h3v3h-3zM1144.7 455.5h3v3h-3zM1156.4 435.5h3v3h-3zM1154.6 445.4h3v3h-3zM1166.8 438.4h3v3h-3zM1154.9 451.4h3v3h-3zM1162.2 432.5h3v3h-3zM1165.6 434h3v3h-3zM1157.8 452.8h3v3h-3zM1152.7 440.1h3v3h-3zM1161.7 444.1h3v3h-3zM1156.4 444.1h3v3h-3zM1159.6 449.7h3v3h-3zM1155.3 437.9h3v3h-3zM1152.6 448.2h3v3h-3zM1166.1 432h3v3h-3zM1155.2 458.8h3v3h-3zM1150.1 459.6h3v3h-3zM1157.9 448.2h3v3h-3zM1150.4 444.5h3v3h-3zM1160.6 446h3v3h-3zM1159.1 435h3v3h-3zM1154.8 454.8h3v3h-3zM1157.6 433.7h3v3h-3zM1168.6 436.2h3v3h-3zM1153.9 446.1h3v3h-3zM1165 441.1h3v3h-3zM1149.4 452.8h3v3h-3zM1156.4 451.5h3v3h-3zM1152 454.7h3v3h-3zM1158.4 445.8h3v3h-3zM1156 458.4h3v3h-3zM1165 429.8h3v3h-3zM1157 433.7h3v3h-3zM1163.4 432.5h3v3h-3zM1165 439.2h3v3h-3zM1159.2 451.6h3v3h-3zM1146.3 451h3v3h-3zM1161.2 447.2h3v3h-3zM1168.4 435.4h3v3h-3zM1161.7 447.1h3v3h-3zM1153 440.7h3v3h-3zM1162.1 442.7h3v3h-3zM1156.4 447.8h3v3h-3zM1150 450.9h3v3h-3zM1155.3 447.3h3v3h-3zM1151 443.3h3v3h-3zM1146.8 459.1h3v3h-3zM1162.8 439.7h3v3h-3zM1149.4 451.5h3v3h-3zM1152.7 442.3h3v3h-3zM1162.9 444.1h3v3h-3zM1152.7 454.5h3v3h-3zM1162.9 439.6h3v3h-3zM1162.3 439.6h3v3h-3zM1156.7 453.8h3v3h-3zM1157.3 428.8h3v3h-3zM1162.6 430.7h3v3h-3zM1145 455.1h3v3h-3zM1163.2 436.8h3v3h-3zM1150.3 455.6h3v3h-3zM1164.6 443.6h3v3h-3zM1156.9 451.4h3v3h-3zM1148.9 450.9h3v3h-3zM1150 454.7h3v3h-3zM1155.8 439.9h3v3h-3zM1147.8 453.6h3v3h-3zM1146.4 455.8h3v3h-3zM1153.5 450.5h3v3h-3zM1151.1 454.4h3v3h-3zM1161 449.5h3v3h-3zM1161.5 447.9h3v3h-3zM1152.3 443.8h3v3h-3zM1153.5 439.8h3v3h-3zM1146.3 452.5h3v3h-3zM1165.3 441.5h3v3h-3zM1153.1 446.9h3v3h-3zM1153.4 446.2h3v3h-3zM1158 438.2h3v3h-3zM1155 457.6h3v3h-3zM1151.5 439.5h3v3h-3zM1164.7 435.5h3v3h-3zM1155.6 450.1h3v3h-3zM1161.7 431.2h3v3h-3zM1152.9 445.7h3v3h-3zM1159.2 444.1h3v3h-3zM1165.6 440.4h3v3h-3zM1149.3 454.9h3v3h-3zM1165.6 435.8h3v3h-3zM1159.9 443.1h3v3h-3zM1159.1 452.4h3v3h-3zM1155.9 442.7h3v3h-3zM1147 452.3h3v3h-3zM1166.4 434.5h3v3h-3zM1146.9 458.4h3v3h-3zM1156 445.4h3v3h-3zM1158.9 451.4h3v3h-3zM1154.4 449.6h3v3h-3zM1164.9 432.5h3v3h-3zM1154 444.5h3v3h-3zM1155.9 448.9h3v3h-3zM1157.8 434.5h3v3h-3zM1153 448.1h3v3h-3zM1159.1 451.5h3v3h-3zM1154.2 442.2h3v3h-3zM1157.5 451.9h3v3h-3zM1153.2 456.4h3v3h-3zM1145.4 457.8h3v3h-3zM1152.9 460.1h3v3h-3zM1147.7 454.1h3v3h-3zM1146.7 457.1h3v3h-3zM1162.8 439h3v3h-3zM1168.5 435.1h3v3h-3zM1162.3 445.8h3v3h-3zM1154.7 459.9h3v3h-3zM1151.7 445h3v3h-3zM1164.7 439.4h3v3h-3zM1149.7 445.9h3v3h-3zM1165.4 435h3v3h-3zM1163.7 444.8h3v3h-3zM1144.1 456.5h3v3h-3zM1145 453.6h3v3h-3zM1161.2 439.2h3v3h-3zM1146.4 454.8h3v3h-3zM1152.6 455.3h3v3h-3zM1164.8 442.4h3v3h-3zM1159.8 452h3v3h-3zM1154 446.2h3v3h-3zM1149.4 450.8h3v3h-3zM1170.2 433.4h3v3h-3zM1155.6 436.4h3v3h-3zM1147.3 452.6h3v3h-3zM1156.8 450.8h3v3h-3zM1149.8 458.6h3v3h-3zM1153.4 436.3h3v3h-3zM1158.9 448.4h3v3h-3zM1156.9 442.2h3v3h-3zM1163.6 433.7h3v3h-3zM1152.6 449.2h3v3h-3zM1167.9 433.5h3v3h-3zM1163.6 432.4h3v3h-3zM1147 453.9h3v3h-3zM1156.8 449.5h3v3h-3zM1151.9 461.8h3v3h-3zM1161 436.1h3v3h-3zM1151.9 461.7h3v3h-3zM1157 448.5h3v3h-3zM1160.2 444.1h3v3h-3zM1160.4 450.4h3v3h-3zM1169 433.6h3v3h-3zM1155.9 440.1h3v3h-3zM1151.7 447.2h3v3h-3zM1166.4 434.3h3v3h-3zM1164.9 438h3v3h-3zM1166.5 430.9h3v3h-3zM1156.5 451.9h3v3h-3zM1153.9 452.8h3v3h-3zM1155.1 457.4h3v3h-3zM1153.5 443.8h3v3h-3zM1157.7 429.1h3v3h-3zM1166.4 433.2h3v3h-3zM1153.8 457.1h3v3h-3zM1162.5 445.1h3v3h-3zM1156.8 441.7h3v3h-3zM1157.9 428.8h3v3h-3zM1155.7 433.7h3v3h-3zM1148.4 449.4h3v3h-3zM1161.4 433h3v3h-3zM1156.9 436.3h3v3h-3zM1161.8 438.6h3v3h-3zM1150 457.2h3v3h-3zM1156.3 436.2h3v3h-3zM1156 438.7h3v3h-3zM1159.3 451.3h3v3h-3zM1169.7 434.4h3v3h-3zM1156.1 447.5h3v3h-3zM1164.4 437h3v3h-3zM1160 448.4h3v3h-3zM1160.1 450.6h3v3h-3zM1151.4 443.3h3v3h-3zM1155.8 434.9h3v3h-3zM1153.7 436.5h3v3h-3zM1164.5 430h3v3h-3zM1155.5 435.1h3v3h-3zM1157 439.8h3v3h-3zM1156.1 454.4h3v3h-3zM1148.8 459h3v3h-3zM1153.8 459.5h3v3h-3zM1156.6 429.7h3v3h-3zM1155.4 445.7h3v3h-3zM1162.6 439.5h3v3h-3zM1159 452.2h3v3h-3zM1147.2 452.4h3v3h-3zM1156.5 432.7h3v3h-3zM1151.4 454.5h3v3h-3zM1149.8 447.8h3v3h-3zM1162.8 431.4h3v3h-3zM1170.6 411.3h3v3h-3zM1171.8 408.5h3v3h-3zM1176.2 411.2h3v3h-3zM1178.7 410.8h3v3h-3zM1172 416.4h3v3h-3zM1173.6 411.2h3v3h-3zM1170.5 430.3h3v3h-3zM1175.8 413.8h3v3h-3zM1169.9 412.1h3v3h-3zM1173.5 421.9h3v3h-3zM1180.4 412h3v3h-3zM1168.4 427.3h3v3h-3zM1169.6 417.2h3v3h-3zM1161.7 423.4h3v3h-3zM1169.7 419.5h3v3h-3zM1165.7 422.9h3v3h-3zM1173.9 419.6h3v3h-3zM1167.1 414.8h3v3h-3zM1173.1 410h3v3h-3zM1181 412.4h3v3h-3zM1166.9 427h3v3h-3zM1174.3 408.5h3v3h-3zM1168.4 416.7h3v3h-3zM1160.8 426.7h3v3h-3zM1163 425.3h3v3h-3zM1172.4 416.7h3v3h-3zM1177.5 410.8h3v3h-3zM1173.9 424.9h3v3h-3zM1172.2 416.4h3v3h-3zM1176.3 412.5h3v3h-3zM1169.7 422.6h3v3h-3zM1173.5 426.4h3v3h-3zM1172.9 427.6h3v3h-3zM1158.8 424.6h3v3h-3zM1167.2 415.9h3v3h-3zM1165.6 416.2h3v3h-3zM1176 413h3v3h-3zM1177.3 417.9h3v3h-3zM1177.9 409.8h3v3h-3zM1166.8 411.2h3v3h-3zM1163.9 427.8h3v3h-3zM1173.5 407.9h3v3h-3zM1165.1 414.2h3v3h-3zM1174 423.5h3v3h-3zM1175 419.3h3v3h-3zM1160.6 427h3v3h-3zM1170.4 428h3v3h-3zM1170.8 430.3h3v3h-3zM1172 426.4h3v3h-3zM1168.2 417.4h3v3h-3zM1174.5 408.6h3v3h-3zM1167.4 412h3v3h-3zM1179.6 415.2h3v3h-3zM1168.6 428.8h3v3h-3zM1163.1 421.3h3v3h-3zM1170.5 422.9h3v3h-3zM1181.1 412.6h3v3h-3zM1177.3 409.4h3v3h-3zM1167.9 413.5h3v3h-3zM1173.4 414.6h3v3h-3zM1173.3 424.6h3v3h-3zM1162.8 421.6h3v3h-3zM1161.7 423.6h3v3h-3zM1174.7 419.1h3v3h-3zM1166.1 426.1h3v3h-3zM1171.7 417.8h3v3h-3zM1169.6 421.1h3v3h-3zM1158.8 425.9h3v3h-3zM1166 418.8h3v3h-3zM1170.1 411.9h3v3h-3zM1170.9 410.5h3v3h-3zM1165 427.3h3v3h-3zM1166.8 420.2h3v3h-3zM1170 411.6h3v3h-3zM1176 417.6h3v3h-3zM1169.6 420h3v3h-3zM1176.3 410.8h3v3h-3zM1161 422.6h3v3h-3zM1163.1 426.5h3v3h-3zM1167.1 428.6h3v3h-3zM1166.9 419.2h3v3h-3zM1175.5 421.6h3v3h-3zM1162.8 421.9h3v3h-3zM1165.7 421.8h3v3h-3zM1177.3 411.7h3v3h-3zM1165.2 418.2h3v3h-3zM1160 425.8h3v3h-3zM1175.9 412.7h3v3h-3zM1167.6 427h3v3h-3zM1165 428.2h3v3h-3zM1163.3 419.7h3v3h-3zM1175.5 415.3h3v3h-3zM1166.3 416.5h3v3h-3zM1171.3 415h3v3h-3zM1167.2 412.9h3v3h-3zM1169.2 407.3h3v3h-3zM1165.6 424h3v3h-3zM1161.4 422.4h3v3h-3zM1178.1 418.3h3v3h-3zM1165.3 420.8h3v3h-3zM1168.9 413.5h3v3h-3zM1171.2 422.3h3v3h-3zM1165.1 418.1h3v3h-3zM1165.6 428.2h3v3h-3zM1180.6 411.4h3v3h-3zM1165.4 427.3h3v3h-3zM1166.3 417.1h3v3h-3zM1172.1 415.4h3v3h-3zM1171.3 411.1h3v3h-3zM1178.8 411.9h3v3h-3zM1165.5 417.1h3v3h-3zM1165.4 416.8h3v3h-3zM1174.6 416.4h3v3h-3zM1176.7 420.5h3v3h-3zM1167.4 430h3v3h-3zM1169.2 410.1h3v3h-3zM1162.6 419.6h3v3h-3zM1173.7 418.7h3v3h-3zM1170.7 423.5h3v3h-3zM1171.1 423.2h3v3h-3zM1173.3 426.9h3v3h-3zM1163.4 416.9h3v3h-3zM1168.1 429.1h3v3h-3zM1176 412.2h3v3h-3zM1170.7 428.8h3v3h-3zM1168.2 411.9h3v3h-3zM1170.8 422.6h3v3h-3zM1158.5 426.1h3v3h-3zM1172.9 424.6h3v3h-3zM1173.9 407.4h3v3h-3zM1178.2 412.3h3v3h-3zM1175.4 411.9h3v3h-3zM1177.3 410.1h3v3h-3zM1176.1 410h3v3h-3zM1166.8 425.4h3v3h-3zM1167.9 418.2h3v3h-3zM1168.7 421.7h3v3h-3zM1167.8 415.3h3v3h-3zM1167.5 423.6h3v3h-3zM1169.2 418.3h3v3h-3zM1168.3 413.4h3v3h-3zM1167.8 416.8h3v3h-3zM1175.7 414.6h3v3h-3zM1173.6 413.2h3v3h-3zM1172.4 427.2h3v3h-3zM1168.7 417.9h3v3h-3zM1166.4 422.7h3v3h-3zM1176.3 416.7h3v3h-3zM1172.7 420.9h3v3h-3zM1166.1 424.6h3v3h-3zM1166.1 420.6h3v3h-3zM1171.5 423.6h3v3h-3zM1169.4 412.1h3v3h-3zM1170.5 426.5h3v3h-3zM1174 416.9h3v3h-3zM1174 417.4h3v3h-3zM1162 420.7h3v3h-3zM1162.8 418.7h3v3h-3zM1175.8 409.5h3v3h-3zM1177.6 418.5h3v3h-3zM1170.6 410.8h3v3h-3zM1163.4 419.7h3v3h-3zM1176.3 414.3h3v3h-3zM1168.4 418.3h3v3h-3zM1167.2 423.7h3v3h-3zM1177.2 417.1h3v3h-3zM1178.5 414.1h3v3h-3zM1168.4 419.7h3v3h-3zM1173.7 426.1h3v3h-3zM1162.1 423.2h3v3h-3zM1172.7 426.4h3v3h-3zM1172.3 410.5h3v3h-3zM1178.7 414.1h3v3h-3zM1165.5 418.4h3v3h-3zM1171.9 412.4h3v3h-3zM1170.6 429.7h3v3h-3zM1168.2 419.5h3v3h-3zM1168.3 415.3h3v3h-3zM1163.1 428.2h3v3h-3zM1162.7 418.1h3v3h-3zM1171.8 423.4h3v3h-3zM1170.3 423.7h3v3h-3zM1167.9 414.3h3v3h-3zM1166.6 430.2h3v3h-3zM1169 415.3h3v3h-3zM1171 427.7h3v3h-3zM1171.9 408.7h3v3h-3zM1172 417.7h3v3h-3zM1162.3 419.5h3v3h-3zM1169.8 423.6h3v3h-3zM1171.4 416.9h3v3h-3zM1162.1 424.8h3v3h-3zM1166.9 422.3h3v3h-3zM1173.4 424.6h3v3h-3zM1171.6 430.4h3v3h-3zM1171.4 426.9h3v3h-3zM1168.1 424.9h3v3h-3zM1163 418.4h3v3h-3zM1177.2 414.8h3v3h-3zM1170.8 425.7h3v3h-3zM1175.7 422.7h3v3h-3zM1163.3 427.4h3v3h-3zM1168.4 425.5h3v3h-3zM1177.4 415.4h3v3h-3zM1169.3 417.2h3v3h-3zM1169.1 410.1h3v3h-3zM1170.4 425.7h3v3h-3zM1175.3 423.5h3v3h-3zM1164.8 427.2h3v3h-3zM1160.6 421.5h3v3h-3zM1160.2 424.6h3v3h-3zM1167.7 421.2h3v3h-3zM1167.7 417.4h3v3h-3zM1172.7 414.8h3v3h-3zM1172 406.8h3v3h-3zM1170.1 418.7h3v3h-3zM1187.3 399.9h3v3h-3zM1184.3 404.9h3v3h-3zM1181.6 396.6h3v3h-3zM1189.2 390.5h3v3h-3zM1177.5 397h3v3h-3zM1194.3 379h3v3h-3zM1180 406.2h3v3h-3zM1185.2 391.4h3v3h-3zM1186.3 401.1h3v3h-3zM1182.1 397.8h3v3h-3zM1194.3 378.9h3v3h-3zM1180.8 394.1h3v3h-3zM1191.2 389.7h3v3h-3zM1184.2 394.5h3v3h-3zM1183.8 403.6h3v3h-3zM1188.7 397.1h3v3h-3zM1186.1 398.9h3v3h-3zM1173.6 405.6h3v3h-3zM1197.4 380.9h3v3h-3zM1189.8 388.2h3v3h-3zM1182.6 392.2h3v3h-3zM1181.1 404.4h3v3h-3zM1187.8 386.1h3v3h-3zM1185.6 386.7h3v3h-3zM1185.3 387.9h3v3h-3zM1184.6 391.9h3v3h-3zM1183.6 389.5h3v3h-3zM1187.1 394.8h3v3h-3zM1176.7 403.1h3v3h-3zM1190.4 388.5h3v3h-3zM1191.4 391.9h3v3h-3zM1184.9 389.5h3v3h-3zM1188.4 397.5h3v3h-3zM1190.2 393.2h3v3h-3zM1182.9 397.2h3v3h-3zM1199 381.5h3v3h-3zM1185.5 386.2h3v3h-3zM1183.9 387h3v3h-3zM1199.7 383.6h3v3h-3zM1188.6 385.1h3v3h-3zM1190.2 381h3v3h-3zM1193.2 383.8h3v3h-3zM1180.5 410.9h3v3h-3zM1188.4 397.6h3v3h-3zM1190.4 388.1h3v3h-3zM1190.8 380.7h3v3h-3zM1192.9 380.5h3v3h-3zM1174.8 406.5h3v3h-3zM1172.8 403.4h3v3h-3zM1185 387.2h3v3h-3zM1177.1 402.2h3v3h-3zM1186.1 403.1h3v3h-3zM1198.1 383.8h3v3h-3zM1195.7 378.4h3v3h-3zM1190.2 383.2h3v3h-3zM1198 382.7h3v3h-3zM1188.3 384.7h3v3h-3zM1182.4 408.8h3v3h-3zM1188.4 392.7h3v3h-3zM1190.2 380.3h3v3h-3zM1190 387.3h3v3h-3zM1191.7 384.6h3v3h-3zM1184.8 405.9h3v3h-3zM1184.3 401.8h3v3h-3zM1190.6 381.9h3v3h-3zM1189.2 386.9h3v3h-3zM1177.6 399.8h3v3h-3zM1194.3 379h3v3h-3zM1186.5 393.2h3v3h-3zM1179.3 409.6h3v3h-3zM1195 388.7h3v3h-3zM1180.3 395.8h3v3h-3zM1185.5 399.7h3v3h-3zM1188.6 388.1h3v3h-3zM1183.3 390.4h3v3h-3zM1194.6 380.8h3v3h-3zM1189.3 395.3h3v3h-3zM1182.4 404.2h3v3h-3zM1186.5 400.1h3v3h-3zM1175.6 404h3v3h-3zM1188.9 389.3h3v3h-3zM1184.5 397.7h3v3h-3zM1179.8 401.5h3v3h-3zM1179.2 410.6h3v3h-3zM1184.7 403.2h3v3h-3zM1188.3 392.6h3v3h-3zM1185.1 387.2h3v3h-3zM1189.9 383.8h3v3h-3zM1196.5 384.5h3v3h-3zM1193 390.3h3v3h-3zM1186.7 396.6h3v3h-3zM1192.6 377.9h3v3h-3zM1177.1 404.8h3v3h-3zM1182.9 390.8h3v3h-3zM1184.4 404.5h3v3h-3zM1180.4 394.4h3v3h-3zM1180.6 403.6h3v3h-3zM1179.6 402.6h3v3h-3zM1186.4 392h3v3h-3zM1189.7 395.7h3v3h-3zM1180.9 411.1h3v3h-3zM1175.2 399.2h3v3h-3zM1192.4 385.9h3v3h-3zM1184.2 390.4h3v3h-3zM1190.1 383.8h3v3h-3zM1188.2 384.9h3v3h-3zM1189.2 392.3h3v3h-3zM1183.4 397.2h3v3h-3zM1178.9 407.6h3v3h-3zM1186.7 385.4h3v3h-3zM1189.6 393.6h3v3h-3zM1181.7 407.9h3v3h-3zM1189.5 379.4h3v3h-3zM1176.8 398.1h3v3h-3zM1176.9 398h3v3h-3zM1183.5 392.1h3v3h-3zM1181.8 399.2h3v3h-3zM1186.6 399.4h3v3h-3zM1187 384.2h3v3h-3zM1175.4 398.3h3v3h-3zM1178.7 395.9h3v3h-3zM1193.1 389.5h3v3h-3zM1193.6 376.7h3v3h-3zM1179.5 409.3h3v3h-3zM1188.8 399.2h3v3h-3zM1182.1 395.4h3v3h-3zM1182.3 409.6h3v3h-3zM1185.9 392.7h3v3h-3zM1187.7 397.3h3v3h-3zM1192.8 383.4h3v3h-3zM1178.7 402.5h3v3h-3zM1193.4 381.2h3v3h-3zM1190.1 389.1h3v3h-3zM1186.2 395.2h3v3h-3zM1181.6 401.6h3v3h-3zM1189.7 379.8h3v3h-3zM1187.5 400.1h3v3h-3zM1191.4 376h3v3h-3zM1190.2 390.6h3v3h-3zM1193 383h3v3h-3zM1176.6 403.1h3v3h-3zM1192.9 388.7h3v3h-3zM1181.7 403.4h3v3h-3zM1191 389.9h3v3h-3zM1175.8 407.4h3v3h-3zM1183.7 399.4h3v3h-3zM1179.1 395.8h3v3h-3zM1187.6 386.9h3v3h-3zM1190.3 383.5h3v3h-3zM1190.3 394.2h3v3h-3zM1180.8 406.7h3v3h-3zM1182 409.6h3v3h-3zM1178.9 409.4h3v3h-3zM1180.3 395.2h3v3h-3zM1184.1 396.7h3v3h-3zM1180.6 393.4h3v3h-3zM1184.7 391.4h3v3h-3zM1194.7 378.7h3v3h-3zM1182.2 393.5h3v3h-3zM1194.2 378.3h3v3h-3zM1192.6 391.4h3v3h-3zM1186.7 398.5h3v3h-3zM1177.7 397.4h3v3h-3zM1176.3 406.9h3v3h-3zM1191 380.3h3v3h-3zM1187.7 397.1h3v3h-3zM1178.1 397.7h3v3h-3zM1185.9 392.4h3v3h-3zM1199 382.9h3v3h-3zM1181.5 401.8h3v3h-3zM1179.8 392.8h3v3h-3zM1189.3 398.1h3v3h-3zM1183.1 400h3v3h-3zM1186.3 384.2h3v3h-3zM1191.2 378.2h3v3h-3zM1184.4 401h3v3h-3zM1175.1 407h3v3h-3zM1178.3 404.5h3v3h-3zM1172.6 405.5h3v3h-3zM1176.2 398.8h3v3h-3zM1174.6 403.6h3v3h-3zM1182.9 390.5h3v3h-3zM1192 383.3h3v3h-3zM1178.5 399.1h3v3h-3zM1188.8 380.3h3v3h-3zM1187.3 383.5h3v3h-3zM1194.5 379.6h3v3h-3zM1191.9 393.1h3v3h-3zM1173.4 402.3h3v3h-3zM1191.1 388.3h3v3h-3zM1188.6 385.4h3v3h-3zM1183 391.4h3v3h-3zM1182.7 393.9h3v3h-3zM1186 389.6h3v3h-3zM1183.1 401.3h3v3h-3zM1181 408.1h3v3h-3zM1183.4 391.8h3v3h-3zM1178.4 405.1h3v3h-3zM1188.5 394.9h3v3h-3zM1182.8 396.7h3v3h-3zM1192.1 380.2h3v3h-3zM1199.8 381.6h3v3h-3zM1200.5 381.7h3v3h-3zM1184.5 403h3v3h-3zM1185.6 388.1h3v3h-3zM1197.9 379.5h3v3h-3zM1193.2 384.6h3v3h-3zM1181.5 408.8h3v3h-3zM1177.1 401.5h3v3h-3zM1185.6 387.9h3v3h-3zM1187.7 396.1h3v3h-3zM1179.7 406.8h3v3h-3zM1177.9 405.2h3v3h-3zM1191.2 390.3h3v3h-3zM1173.6 405h3v3h-3zM1194.6 379h3v3h-3zM1183.4 394.9h3v3h-3zM1192.6 389.2h3v3h-3zM1188.4 388.3h3v3h-3zM1187.8 391.5h3v3h-3zM1184.6 406.1h3v3h-3zM1198.4 381.4h3v3h-3zM1196 378.5h3v3h-3zM1190.7 381.6h3v3h-3zM1193.3 387.7h3v3h-3zM1198.4 382.5h3v3h-3zM1191.8 380.6h3v3h-3zM1191.9 384.7h3v3h-3zM1181 398.2h3v3h-3zM1195.7 386.8h3v3h-3zM1195 384.3h3v3h-3zM1175.9 400.9h3v3h-3zM1184.8 389.5h3v3h-3zM1178.8 395.6h3v3h-3zM1181.5 405.4h3v3h-3zM1184.2 404.3h3v3h-3zM1186.3 401.1h3v3h-3zM1179.8 397.8h3v3h-3zM1179.1 393.2h3v3h-3zM1183.7 394.6h3v3h-3zM1180.1 410.8h3v3h-3zM1178.6 393.7h3v3h-3zM1193.1 377.9h3v3h-3zM1176.2 397.5h3v3h-3zM1180.3 407h3v3h-3zM1188 391.1h3v3h-3zM1178.8 399.6h3v3h-3zM1194.7 378.6h3v3h-3zM1200 381.3h3v3h-3zM1182.2 407.3h3v3h-3zM1178.7 409.4h3v3h-3zM1194.5 385.5h3v3h-3zM1190.4 394.2h3v3h-3zM1179.6 404.2h3v3h-3zM1180.4 399.8h3v3h-3zM1182.1 404.3h3v3h-3zM1190.5 393.2h3v3h-3zM1189.9 390.3h3v3h-3zM1197.9 382.9h3v3h-3zM1185.9 390.3h3v3h-3zM1193.8 379.8h3v3h-3zM1176.3 404.2h3v3h-3zM1194.7 390.2h3v3h-3zM1190.9 390.2h3v3h-3zM1197.9 382.2h3v3h-3zM1184.7 394.9h3v3h-3zM1189.8 384.5h3v3h-3zM1179.5 406.1h3v3h-3zM1190.1 382.6h3v3h-3zM1193.9 390.6h3v3h-3zM1174.8 402h3v3h-3zM1184.4 392.6h3v3h-3zM1200.2 383.3h3v3h-3zM1188.1 397.2h3v3h-3zM1185.7 387.3h3v3h-3zM1192.8 377.2h3v3h-3zM1177.1 405.9h3v3h-3zM1176.2 407.8h3v3h-3zM1189.1 399.3h3v3h-3zM1188.1 398.5h3v3h-3zM1192.8 385.7h3v3h-3zM1178.8 400h3v3h-3zM1185 393h3v3h-3zM1189.3 389.2h3v3h-3zM1183.7 399.6h3v3h-3zM1193.6 376.7h3v3h-3zM1177.8 395h3v3h-3zM1173.2 402.5h3v3h-3zM1188.1 398.2h3v3h-3zM1194.9 390.7h3v3h-3zM1194 384h3v3h-3zM1183 387.8h3v3h-3zM1181.4 395.3h3v3h-3zM1184.4 386.9h3v3h-3zM1185.9 391.4h3v3h-3zM1185.1 393.1h3v3h-3zM1180.6 407.1h3v3h-3zM1193.4 385.1h3v3h-3zM1179.4 405.7h3v3h-3zM1198.6 385.6h3v3h-3zM1187.1 382.7h3v3h-3zM1195.6 383.2h3v3h-3zM1186 403.2h3v3h-3zM1196.8 386.3h3v3h-3zM1181.9 401.6h3v3h-3zM1181.7 395.7h3v3h-3zM1192.7 386.4h3v3h-3zM1183.2 398.8h3v3h-3zM1195.7 381.1h3v3h-3zM1195.4 381.5h3v3h-3zM1191.9 375.7h3v3h-3zM1186 395.1h3v3h-3zM1195.5 389.8h3v3h-3zM1188.6 389.7h3v3h-3zM1189.3 389.7h3v3h-3zM1194.9 390.4h3v3h-3zM1174.4 406.8h3v3h-3zM1189.7 379.3h3v3h-3zM1187.6 381.7h3v3h-3zM1192.3 391.1h3v3h-3zM1179.6 400.5h3v3h-3zM1182.8 403.2h3v3h-3zM1187.9 393.4h3v3h-3zM1183.6 399.3h3v3h-3zM1198.2 381.7h3v3h-3zM1193.1 378.3h3v3h-3zM1185.4 392.2h3v3h-3zM1206.1 371.7h3v3h-3zM1200.4 374.4h3v3h-3zM1215.9 361.8h3v3h-3zM1194.7 376.5h3v3h-3zM1210.4 369h3v3h-3zM1202.9 376.7h3v3h-3zM1204.5 368.5h3v3h-3zM1209.3 350.8h3v3h-3zM1199.3 367.4h3v3h-3zM1197.2 373.6h3v3h-3zM1210.7 360.9h3v3h-3zM1201.7 377.4h3v3h-3zM1202.5 362.6h3v3h-3zM1215.6 359.7h3v3h-3zM1204.9 376h3v3h-3zM1208.9 355.3h3v3h-3zM1199.9 381h3v3h-3zM1207.8 353.8h3v3h-3zM1214 360.7h3v3h-3zM1212.1 364.6h3v3h-3zM1213.3 351.5h3v3h-3zM1217 360.2h3v3h-3zM1204.3 371.7h3v3h-3zM1213.2 363.4h3v3h-3zM1204.9 362.1h3v3h-3zM1201.7 372.3h3v3h-3zM1202.5 377.5h3v3h-3zM1210.5 353.3h3v3h-3zM1211.6 361.7h3v3h-3zM1201.5 377.3h3v3h-3zM1209 357h3v3h-3zM1196.3 374.4h3v3h-3zM1210.8 358.2h3v3h-3zM1208.3 354.6h3v3h-3zM1197.1 374.7h3v3h-3zM1209.5 352.9h3v3h-3zM1200.3 378.3h3v3h-3zM1199.8 377.3h3v3h-3zM1195.7 374.6h3v3h-3zM1213.1 364.1h3v3h-3zM1203.8 367.5h3v3h-3zM1195.6 376.6h3v3h-3zM1203.9 374.3h3v3h-3zM1213.1 362.2h3v3h-3zM1208.7 366.2h3v3h-3zM1197.8 374.4h3v3h-3zM1199.9 369.3h3v3h-3zM1207.5 357h3v3h-3zM1200.5 368.5h3v3h-3zM1214.4 357.2h3v3h-3zM1204.4 365.1h3v3h-3zM1218.9 358.1h3v3h-3zM1205.7 367.3h3v3h-3zM1210.2 354.1h3v3h-3zM1197.5 368.9h3v3h-3zM1208.8 367.5h3v3h-3zM1198.8 374h3v3h-3zM1215.1 352.6h3v3h-3zM1207.2 371.1h3v3h-3zM1212.1 354.3h3v3h-3zM1200.1 376.2h3v3h-3zM1215.1 362.6h3v3h-3zM1207 359.8h3v3h-3zM1204.1 363.5h3v3h-3zM1204.6 366.7h3v3h-3zM1218.3 358.1h3v3h-3zM1213.9 354.2h3v3h-3zM1210.8 350.5h3v3h-3zM1215.6 355.7h3v3h-3zM1212.1 355.1h3v3h-3zM1210 348.8h3v3h-3zM1216.1 359h3v3h-3zM1206.9 371.2h3v3h-3zM1203 374.7h3v3h-3zM1204.5 365.7h3v3h-3zM1203.1 375.5h3v3h-3zM1206 356.3h3v3h-3zM1211.9 350.8h3v3h-3zM1202.8 368.1h3v3h-3zM1211.5 366.5h3v3h-3zM1215.9 355h3v3h-3zM1199.5 366.1h3v3h-3zM1198 376.8h3v3h-3zM1207 362.9h3v3h-3zM1214.2 352.2h3v3h-3zM1202.4 368.8h3v3h-3zM1204 377.1h3v3h-3zM1208.2 363.5h3v3h-3zM1202.1 365.6h3v3h-3zM1202.4 370.3h3v3h-3zM1209.9 370.5h3v3h-3zM1204.1 361.6h3v3h-3zM1194.3 374.8h3v3h-3zM1205.9 371.6h3v3h-3zM1210.5 353.2h3v3h-3zM1210.7 357.7h3v3h-3zM1207.1 364.8h3v3h-3zM1193.2 374.4h3v3h-3zM1211.2 362.6h3v3h-3zM1207.9 371.7h3v3h-3zM1209.9 355.6h3v3h-3zM1198.3 377.1h3v3h-3zM1206 359.4h3v3h-3zM1197.2 377.3h3v3h-3zM1199.4 379.2h3v3h-3zM1206.1 360.5h3v3h-3zM1202.2 364.9h3v3h-3zM1197 371.4h3v3h-3zM1211.5 356.9h3v3h-3zM1208.5 358.7h3v3h-3zM1212.9 358.3h3v3h-3zM1207.8 360.7h3v3h-3zM1204 361.5h3v3h-3zM1216.9 354.6h3v3h-3zM1208.1 365.7h3v3h-3zM1196.8 374.7h3v3h-3zM1204.2 374.9h3v3h-3zM1196.2 377.8h3v3h-3zM1216.1 358.2h3v3h-3zM1208 358.3h3v3h-3zM1202.9 373.9h3v3h-3zM1204.4 372.3h3v3h-3zM1205.8 371.3h3v3h-3zM1210.7 366h3v3h-3zM1213.9 351.9h3v3h-3zM1209.7 348.8h3v3h-3zM1208 351.9h3v3h-3zM1205.7 363.5h3v3h-3zM1209.1 357h3v3h-3zM1203.2 375.1h3v3h-3zM1209.6 366.1h3v3h-3zM1201 362.3h3v3h-3zM1208.1 356.2h3v3h-3zM1200.4 362.5h3v3h-3zM1203 373h3v3h-3zM1212.5 359.7h3v3h-3zM1207.3 368.7h3v3h-3zM1206.1 358.8h3v3h-3zM1207.7 365.3h3v3h-3zM1207.1 357.2h3v3h-3zM1200.8 369.3h3v3h-3zM1196.9 375h3v3h-3zM1211.2 360.1h3v3h-3zM1202 375.6h3v3h-3zM1201.1 377.2h3v3h-3zM1195.4 371.8h3v3h-3zM1201.4 372.1h3v3h-3zM1205.4 374.2h3v3h-3zM1211.9 352.3h3v3h-3zM1212.9 360.5h3v3h-3zM1204.6 362h3v3h-3zM1219.7 357.5h3v3h-3zM1195.2 377h3v3h-3zM1199.6 368h3v3h-3zM1208.7 370.3h3v3h-3zM1200.1 380.2h3v3h-3zM1197.6 366.9h3v3h-3zM1211.1 353.3h3v3h-3zM1196.8 370.3h3v3h-3zM1199.7 366.2h3v3h-3zM1197.5 372.1h3v3h-3zM1206.9 363.1h3v3h-3zM1202.6 370.8h3v3h-3zM1213.6 360.1h3v3h-3zM1207.2 372.6h3v3h-3zM1212.2 358.4h3v3h-3zM1203.8 364.9h3v3h-3zM1202.7 377.7h3v3h-3zM1203.8 359.6h3v3h-3zM1218.4 357.6h3v3h-3zM1199 379h3v3h-3zM1201.4 372.6h3v3h-3zM1210.7 355.6h3v3h-3zM1207.7 366.8h3v3h-3zM1201.4 374.4h3v3h-3zM1209.5 371h3v3h-3zM1202.1 375.1h3v3h-3zM1195.2 375.9h3v3h-3zM1195.4 373h3v3h-3zM1203.2 362.3h3v3h-3zM1207.2 354.6h3v3h-3zM1212.1 365.1h3v3h-3zM1196.2 373.2h3v3h-3zM1210.7 358.4h3v3h-3zM1212.4 352.9h3v3h-3zM1208.7 371.5h3v3h-3zM1207.7 373h3v3h-3zM1210.1 352.9h3v3h-3zM1211.5 367.7h3v3h-3zM1202.1 377.9h3v3h-3zM1213.9 360.3h3v3h-3zM1203.7 359.8h3v3h-3zM1210.2 350.3h3v3h-3zM1213.8 359.9h3v3h-3zM1204.4 371.6h3v3h-3zM1206.8 369.7h3v3h-3zM1201.4 380.3h3v3h-3zM1206.9 370.7h3v3h-3zM1208.7 368.6h3v3h-3zM1202.7 371h3v3h-3zM1196.9 377.8h3v3h-3zM1201.4 378.9h3v3h-3zM1208.6 360.3h3v3h-3zM1220 356.8h3v3h-3zM1210 350.2h3v3h-3zM1212.3 362h3v3h-3zM1202.9 359h3v3h-3zM1213.4 354h3v3h-3zM1211.1 365.4h3v3h-3zM1197.1 368h3v3h-3zM1211.5 352.6h3v3h-3zM1193.9 374.9h3v3h-3zM1218.1 354.6h3v3h-3zM1197.1 370.5h3v3h-3zM1215.4 356.5h3v3h-3zM1203.7 360.5h3v3h-3zM1208.9 371.1h3v3h-3zM1195.8 377.9h3v3h-3zM1202.3 380.4h3v3h-3zM1202.8 378.9h3v3h-3zM1215 358.5h3v3h-3zM1199.1 378.7h3v3h-3zM1205.8 365.6h3v3h-3zM1199.4 374.8h3v3h-3zM1207.7 354.7h3v3h-3zM1212.3 355.1h3v3h-3zM1199 369.7h3v3h-3zM1206.7 367.6h3v3h-3zM1211.4 366.7h3v3h-3zM1206.3 365.3h3v3h-3zM1212.1 350.4h3v3h-3zM1195.2 376.9h3v3h-3zM1198.7 367.6h3v3h-3zM1199.7 364.2h3v3h-3zM1213.8 354.4h3v3h-3zM1215.4 357.2h3v3h-3zM1213.1 361.6h3v3h-3zM1204.5 372.3h3v3h-3zM1200.9 373.5h3v3h-3zM1210.7 365.1h3v3h-3zM1198.2 373h3v3h-3zM1215.5 359.5h3v3h-3zM1210.8 349.9h3v3h-3zM1196.7 370.2h3v3h-3zM1212.9 361.6h3v3h-3zM1211.8 363.8h3v3h-3zM1206.9 365.6h3v3h-3zM1215.7 355.8h3v3h-3zM1209.9 362.1h3v3h-3zM1208.5 367.6h3v3h-3zM1203.5 360.8h3v3h-3zM1203.8 366.8h3v3h-3zM1205.3 367.7h3v3h-3zM1202.3 368.3h3v3h-3zM1203.3 366.4h3v3h-3zM1210.4 349.9h3v3h-3zM1198.9 379.6h3v3h-3zM1203.5 367.8h3v3h-3zM1206.4 362.1h3v3h-3zM1196.3 368.8h3v3h-3zM1218 359.3h3v3h-3zM1201.6 370.8h3v3h-3zM1198.3 366.9h3v3h-3zM1217.2 358h3v3h-3zM1198.7 370.5h3v3h-3zM1212.9 362.7h3v3h-3zM1204.3 365.4h3v3h-3zM1203.8 374.6h3v3h-3zM1216.9 358.9h3v3h-3zM1199.6 376.2h3v3h-3zM1217.6 354.7h3v3h-3zM1201.6 363.9h3v3h-3zM1199.8 378.5h3v3h-3zM1200.7 378.8h3v3h-3zM1208.9 361h3v3h-3zM1218.2 358.8h3v3h-3zM1204 359.4h3v3h-3zM1206.9 362.6h3v3h-3zM1205.4 375.1h3v3h-3zM1206.3 356.5h3v3h-3zM1199.3 371.4h3v3h-3zM1205.6 362.3h3v3h-3zM1208 369.4h3v3h-3zM1202.1 375.3h3v3h-3zM1207.2 373.1h3v3h-3zM1212.7 352.3h3v3h-3zM1203.9 359.8h3v3h-3zM1205.5 368.7h3v3h-3zM1207 360.7h3v3h-3zM1212.1 348.3h3v3h-3zM1221.4 338h3v3h-3zM1222.1 347.5h3v3h-3zM1231.4 334.6h3v3h-3zM1220.9 348.2h3v3h-3zM1223.4 349.7h3v3h-3zM1215.6 347.1h3v3h-3zM1227.8 347.8h3v3h-3zM1215 346.3h3v3h-3zM1214.7 347.2h3v3h-3zM1220.1 344.8h3v3h-3zM1227.6 336.3h3v3h-3zM1222.6 342h3v3h-3zM1233.8 341.2h3v3h-3zM1227.7 348.2h3v3h-3zM1225.1 352.1h3v3h-3zM1226.7 343.8h3v3h-3zM1219.6 342.6h3v3h-3zM1222 353.4h3v3h-3zM1224 347.3h3v3h-3zM1223.8 343.6h3v3h-3zM1215.6 345.3h3v3h-3zM1223.4 347.5h3v3h-3zM1219.2 336.6h3v3h-3zM1227.1 337.6h3v3h-3zM1214.1 348.9h3v3h-3zM1222.7 351.3h3v3h-3zM1223.1 339.8h3v3h-3zM1217.5 345.5h3v3h-3zM1218.7 345.4h3v3h-3zM1232.7 339.7h3v3h-3zM1232.2 342.5h3v3h-3zM1222.3 335.5h3v3h-3zM1212.7 348.5h3v3h-3zM1220.3 347.6h3v3h-3zM1230.8 337h3v3h-3zM1220 341.4h3v3h-3zM1235.7 335.6h3v3h-3zM1216.3 341.2h3v3h-3zM1229.6 330.2h3v3h-3zM1225.6 331.5h3v3h-3zM1225.2 338h3v3h-3zM1228.5 332.6h3v3h-3zM1214 347.7h3v3h-3zM1235.3 341.4h3v3h-3zM1228.8 341.5h3v3h-3zM1217.9 344.7h3v3h-3zM1222.2 355.3h3v3h-3zM1217.5 352.7h3v3h-3zM1218.1 342.4h3v3h-3zM1228 348h3v3h-3zM1216.1 344.3h3v3h-3zM1228.3 341.5h3v3h-3zM1220.7 339.1h3v3h-3zM1226 330.9h3v3h-3zM1215.7 346.6h3v3h-3zM1224.2 342h3v3h-3zM1227.8 343.7h3v3h-3zM1230.7 334.3h3v3h-3zM1219.8 354.7h3v3h-3zM1213.9 350.5h3v3h-3zM1219.1 350.6h3v3h-3zM1224.6 333h3v3h-3zM1224.5 350h3v3h-3zM1222.8 334.7h3v3h-3zM1230.9 341.8h3v3h-3zM1218.7 340.9h3v3h-3zM1224.8 337.5h3v3h-3zM1214.2 346.7h3v3h-3zM1218.3 340.8h3v3h-3zM1222.8 345.3h3v3h-3zM1224 340.5h3v3h-3zM1224.4 332.2h3v3h-3zM1226.1 350.1h3v3h-3zM1235.7 339.7h3v3h-3zM1229.2 337.6h3v3h-3zM1230.1 337.5h3v3h-3zM1214.9 347.9h3v3h-3zM1221.2 354.1h3v3h-3zM1220.1 345.2h3v3h-3zM1220.2 337.7h3v3h-3zM1231.3 341.4h3v3h-3zM1233.9 340.6h3v3h-3zM1217.1 342.7h3v3h-3zM1231.1 339.3h3v3h-3zM1220.2 343.5h3v3h-3zM1221.8 352.6h3v3h-3zM1227.1 346.4h3v3h-3zM1219.4 344h3v3h-3zM1227.3 344.7h3v3h-3zM1229.1 333.3h3v3h-3zM1226.4 337.6h3v3h-3zM1233.7 338h3v3h-3zM1223.6 340h3v3h-3zM1224.5 350.7h3v3h-3zM1227.1 334.4h3v3h-3zM1213.7 348h3v3h-3zM1226.6 328.3h3v3h-3zM1229.9 336.6h3v3h-3zM1225.6 341.8h3v3h-3zM1223.3 344.9h3v3h-3zM1221.6 354.6h3v3h-3zM1213.4 347.1h3v3h-3zM1228.9 340.5h3v3h-3zM1231.9 338.4h3v3h-3zM1226.2 329.1h3v3h-3zM1212.9 349.9h3v3h-3zM1224.9 333.3h3v3h-3zM1227.9 344.6h3v3h-3zM1218.5 349.6h3v3h-3zM1234.2 337.1h3v3h-3zM1222.2 344.3h3v3h-3zM1225.4 351.4h3v3h-3zM1231.3 338.7h3v3h-3zM1223.4 348.7h3v3h-3zM1227.4 345.7h3v3h-3zM1226.1 349h3v3h-3zM1226.8 338.3h3v3h-3zM1228.8 344.3h3v3h-3zM1230 346.5h3v3h-3zM1219.8 356h3v3h-3zM1227.8 338.1h3v3h-3zM1226 331.8h3v3h-3zM1223.8 347.8h3v3h-3zM1228.3 334.7h3v3h-3zM1234.6 334.2h3v3h-3zM1212.3 348.1h3v3h-3zM1217.6 351.6h3v3h-3zM1218.4 343.7h3v3h-3zM1218.5 339.4h3v3h-3zM1235.5 337.9h3v3h-3zM1224.6 340.8h3v3h-3zM1222 347.3h3v3h-3zM1226.9 350.2h3v3h-3zM1234.9 335.8h3v3h-3zM1224.7 331.5h3v3h-3zM1216 348.6h3v3h-3zM1216.9 349.2h3v3h-3zM1236.8 336.4h3v3h-3zM1228.7 330.3h3v3h-3zM1214.1 343.5h3v3h-3zM1215.3 342.8h3v3h-3zM1222.4 339.9h3v3h-3zM1227.9 339.7h3v3h-3zM1223.6 338.5h3v3h-3zM1230.5 339.8h3v3h-3zM1227.6 337.9h3v3h-3zM1221.1 341.1h3v3h-3zM1215.8 351.4h3v3h-3zM1222.5 337h3v3h-3zM1235.1 339.3h3v3h-3zM1234.2 338.8h3v3h-3zM1220.3 339.5h3v3h-3zM1222.8 349.4h3v3h-3zM1227.8 328.6h3v3h-3zM1214.1 351h3v3h-3zM1222.7 346.5h3v3h-3zM1221.2 353.5h3v3h-3zM1226 349.7h3v3h-3zM1219.1 344h3v3h-3zM1223.6 353.4h3v3h-3zM1229.6 344h3v3h-3zM1217.1 351.6h3v3h-3zM1234 342.9h3v3h-3zM1226.9 329.5h3v3h-3zM1227.6 349.9h3v3h-3zM1230.1 346.4h3v3h-3zM1214.7 342.9h3v3h-3zM1229 331h3v3h-3zM1223.6 339.9h3v3h-3zM1230.6 345.3h3v3h-3zM1236.6 337.6h3v3h-3zM1223.5 350.5h3v3h-3zM1214.9 351.4h3v3h-3zM1228.9 331h3v3h-3zM1222.8 346h3v3h-3zM1221.9 349.8h3v3h-3zM1222.1 335.3h3v3h-3zM1226.2 329.5h3v3h-3zM1225.8 337h3v3h-3zM1213.4 345.7h3v3h-3zM1236.6 335.8h3v3h-3zM1226.8 346.3h3v3h-3zM1237.7 337.7h3v3h-3zM1222.2 339.6h3v3h-3zM1230.1 347h3v3h-3zM1230.2 339.7h3v3h-3zM1229.1 334.7h3v3h-3zM1229.3 344.8h3v3h-3zM1222.9 351.9h3v3h-3zM1216.3 352.3h3v3h-3zM1221.4 337.4h3v3h-3zM1230.8 333.4h3v3h-3zM1217.8 348h3v3h-3zM1225 340h3v3h-3zM1211.2 348.7h3v3h-3zM1223.5 334.4h3v3h-3zM1223.3 350.3h3v3h-3zM1235.1 339.3h3v3h-3zM1213.1 344.3h3v3h-3zM1229.8 338.4h3v3h-3zM1216.4 340.5h3v3h-3zM1220 341.3h3v3h-3zM1231.3 345.6h3v3h-3zM1214.5 344.3h3v3h-3zM1222.9 334.6h3v3h-3zM1218.7 347.5h3v3h-3zM1230.5 330.9h3v3h-3zM1220.7 345.9h3v3h-3zM1217.3 348.3h3v3h-3zM1225.6 336.7h3v3h-3zM1225.5 333.3h3v3h-3zM1218.6 351.7h3v3h-3zM1228.2 347.6h3v3h-3zM1220 352.7h3v3h-3zM1225.6 337.8h3v3h-3zM1218.9 351h3v3h-3zM1228.4 337h3v3h-3zM1225.8 344.9h3v3h-3zM1225.2 339.5h3v3h-3zM1218.3 348.4h3v3h-3zM1229.7 345.5h3v3h-3zM1233.5 333.2h3v3h-3zM1218.1 343.2h3v3h-3zM1229.3 342.3h3v3h-3zM1221.9 349.4h3v3h-3zM1231.5 331.3h3v3h-3zM1231.1 333h3v3h-3zM1231.2 343.2h3v3h-3zM1217.3 347h3v3h-3zM1227.2 328.1h3v3h-3zM1220.6 346.1h3v3h-3zM1230 339h3v3h-3zM1233.8 335.7h3v3h-3zM1211 348.5h3v3h-3zM1215.4 351.1h3v3h-3zM1216.2 352.2h3v3h-3zM1223 336.8h3v3h-3zM1244.5 320.6h3v3h-3zM1245.3 318.5h3v3h-3zM1242.5 325.3h3v3h-3zM1239.9 332.8h3v3h-3zM1230.3 329.3h3v3h-3zM1241.9 333.5h3v3h-3zM1235 320.1h3v3h-3zM1238.5 330.2h3v3h-3zM1240.2 317h3v3h-3zM1243.1 321.3h3v3h-3zM1239.7 324.9h3v3h-3zM1244.9 333.5h3v3h-3zM1251.4 326.9h3v3h-3zM1246 326h3v3h-3zM1229.9 324.8h3v3h-3zM1247.1 324.5h3v3h-3zM1240 322.1h3v3h-3zM1241.5 334.6h3v3h-3zM1235.3 319.4h3v3h-3zM1236.2 326.3h3v3h-3zM1239 337.7h3v3h-3zM1249.9 325.6h3v3h-3zM1232.1 331.4h3v3h-3zM1237 334h3v3h-3zM1248.2 326.4h3v3h-3zM1240.1 317.4h3v3h-3zM1228.7 327.2h3v3h-3zM1249.2 326.5h3v3h-3zM1237.5 322.5h3v3h-3zM1241 316.5h3v3h-3zM1232.1 321.9h3v3h-3zM1246.3 319h3v3h-3zM1247.8 327h3v3h-3zM1247 331.8h3v3h-3zM1249.3 328.7h3v3h-3zM1242.1 314.6h3v3h-3zM1240.7 319.4h3v3h-3zM1235.9 326.4h3v3h-3zM1242.2 314h3v3h-3zM1235.1 322.1h3v3h-3zM1247.5 320h3v3h-3zM1243.5 324h3v3h-3zM1242.3 320.7h3v3h-3zM1241.7 330.6h3v3h-3zM1247.7 329h3v3h-3zM1241.3 333.2h3v3h-3zM1244.6 324.3h3v3h-3zM1239.7 328.3h3v3h-3zM1229.7 326.4h3v3h-3zM1233.3 323.7h3v3h-3zM1235.9 334.6h3v3h-3zM1245 324.9h3v3h-3zM1238.4 332.8h3v3h-3zM1246.4 323.8h3v3h-3zM1237 330.5h3v3h-3zM1236.1 324.5h3v3h-3zM1239.1 335.3h3v3h-3zM1247.2 330.5h3v3h-3zM1232.9 327.3h3v3h-3zM1235.4 320.2h3v3h-3zM1237.8 329.2h3v3h-3zM1244.6 331.9h3v3h-3zM1243 327.1h3v3h-3zM1244.8 329h3v3h-3zM1232.7 321.4h3v3h-3zM1250.8 324.4h3v3h-3zM1230.6 326h3v3h-3zM1237.9 331.8h3v3h-3zM1229.6 324.7h3v3h-3zM1234.6 319.7h3v3h-3zM1235.4 327.7h3v3h-3zM1230.5 323.5h3v3h-3zM1233.9 325.9h3v3h-3zM1236.7 327.3h3v3h-3zM1236.2 325.7h3v3h-3zM1236.8 336.5h3v3h-3zM1243.7 323.2h3v3h-3zM1230.1 329.1h3v3h-3zM1245.6 320.6h3v3h-3zM1239.4 334.1h3v3h-3zM1241.5 316.1h3v3h-3zM1241 327.1h3v3h-3zM1232.7 328.7h3v3h-3zM1244 327.1h3v3h-3zM1243.5 326.3h3v3h-3zM1233.6 322.1h3v3h-3zM1236.8 336.5h3v3h-3zM1250.4 327.3h3v3h-3zM1236.9 335h3v3h-3zM1233.7 328.4h3v3h-3zM1239.8 334.6h3v3h-3zM1248.8 326.9h3v3h-3zM1243.4 333.5h3v3h-3zM1237.5 330.2h3v3h-3zM1239.7 320.5h3v3h-3zM1234 322.5h3v3h-3zM1240.9 318.2h3v3h-3zM1232.5 328h3v3h-3zM1243.9 326.4h3v3h-3zM1244.6 330.7h3v3h-3zM1240.6 319.1h3v3h-3zM1237 321.4h3v3h-3zM1232.6 324.9h3v3h-3zM1232.4 329.6h3v3h-3zM1247.8 323.6h3v3h-3zM1231.2 327.8h3v3h-3zM1241.9 325.5h3v3h-3zM1228.9 327h3v3h-3zM1242.4 326.8h3v3h-3zM1237 335h3v3h-3zM1237.4 330.7h3v3h-3zM1238.9 323.7h3v3h-3zM1245.6 319.2h3v3h-3zM1239.6 327.7h3v3h-3zM1251 328.8h3v3h-3zM1244.7 323.4h3v3h-3zM1245 325.4h3v3h-3zM1252.6 327.1h3v3h-3zM1240.8 319.1h3v3h-3zM1240.6 324.6h3v3h-3zM1239.4 333.2h3v3h-3zM1238.5 332.4h3v3h-3zM1239.3 325.4h3v3h-3zM1245.9 326.7h3v3h-3zM1253.4 327.2h3v3h-3zM1241.9 319.2h3v3h-3zM1242.7 324.1h3v3h-3zM1246.1 320h3v3h-3zM1232.9 321.8h3v3h-3zM1240.2 327.1h3v3h-3zM1233.1 323.5h3v3h-3zM1235.2 320.7h3v3h-3zM1234.8 329.6h3v3h-3zM1238 328.1h3v3h-3zM1239.4 324.4h3v3h-3zM1229.6 324.7h3v3h-3zM1246.5 331.8h3v3h-3zM1235.4 327.1h3v3h-3zM1240.3 331.7h3v3h-3zM1243.5 330.3h3v3h-3zM1229 327.8h3v3h-3zM1234.5 328.2h3v3h-3zM1237.5 326h3v3h-3zM1246.4 319.6h3v3h-3zM1246.7 331.5h3v3h-3zM1243.4 325.8h3v3h-3zM1243.1 319.9h3v3h-3zM1238.3 337.8h3v3h-3zM1241.7 326.9h3v3h-3zM1236.5 334.8h3v3h-3zM1240 329.7h3v3h-3zM1241.7 334.4h3v3h-3zM1235.8 324.9h3v3h-3zM1242.8 317.5h3v3h-3zM1236.7 328.9h3v3h-3zM1242.7 314.8h3v3h-3zM1239.2 333.7h3v3h-3zM1233.1 330.5h3v3h-3zM1246.9 325.6h3v3h-3zM1240.1 317.3h3v3h-3zM1244.3 319.4h3v3h-3zM1244.5 321.9h3v3h-3zM1245.7 321.1h3v3h-3zM1232.8 324.7h3v3h-3zM1235.1 320.3h3v3h-3zM1239.4 335.3h3v3h-3zM1245.5 330.2h3v3h-3zM1234.9 330.4h3v3h-3zM1235.4 321.4h3v3h-3zM1241.4 334.7h3v3h-3zM1243.6 323.6h3v3h-3zM1246 329.8h3v3h-3zM1248 321.9h3v3h-3zM1252.5 325h3v3h-3zM1247.2 314.3h3v3h-3zM1249.8 318.7h3v3h-3zM1255.8 313h3v3h-3zM1250.5 309.4h3v3h-3zM1258.6 312.7h3v3h-3zM1255.9 321.6h3v3h-3zM1266.3 316.1h3v3h-3zM1257.3 302.6h3v3h-3zM1252.8 315h3v3h-3zM1254.1 320.8h3v3h-3zM1256.9 304.5h3v3h-3zM1260.3 321.5h3v3h-3zM1260.2 309.5h3v3h-3zM1248.7 318.2h3v3h-3zM1258.5 318.6h3v3h-3zM1247.9 314.7h3v3h-3zM1256.6 301.7h3v3h-3zM1252.1 307.2h3v3h-3zM1257.8 310.6h3v3h-3zM1258.2 305.6h3v3h-3zM1257.5 306.2h3v3h-3zM1243.7 313.3h3v3h-3zM1247.5 317.5h3v3h-3zM1260.3 307.1h3v3h-3zM1253 305.1h3v3h-3zM1255.7 314.9h3v3h-3zM1249.9 320.1h3v3h-3zM1252.3 312.5h3v3h-3zM1262 313.8h3v3h-3zM1245 312.8h3v3h-3zM1245.8 315.9h3v3h-3zM1262.3 320.1h3v3h-3zM1266.1 314.9h3v3h-3zM1252.7 323h3v3h-3zM1258.6 311.2h3v3h-3zM1263.5 310.6h3v3h-3zM1246.2 314.5h3v3h-3zM1250.7 320.2h3v3h-3zM1260.9 318.5h3v3h-3zM1242.3 312.6h3v3h-3zM1259.3 305.7h3v3h-3zM1255.6 322.6h3v3h-3zM1252.5 323.1h3v3h-3zM1261.6 311.1h3v3h-3zM1251.1 305.8h3v3h-3zM1257.9 315h3v3h-3zM1259.2 311.8h3v3h-3zM1246.2 314.6h3v3h-3zM1252.5 306.5h3v3h-3zM1246.4 315.1h3v3h-3zM1259.9 311.9h3v3h-3zM1258 323h3v3h-3zM1253.3 309.7h3v3h-3zM1260 319.1h3v3h-3zM1252.3 315h3v3h-3zM1261.6 321h3v3h-3zM1253.5 308.2h3v3h-3zM1254.2 310.9h3v3h-3zM1257 318h3v3h-3zM1248 319.9h3v3h-3zM1253.4 318h3v3h-3zM1259.4 310.5h3v3h-3zM1254.5 309.9h3v3h-3zM1251.5 317.3h3v3h-3zM1252.4 310h3v3h-3zM1258.9 311.6h3v3h-3zM1250.1 312.4h3v3h-3zM1264.5 316.9h3v3h-3zM1258.6 305.8h3v3h-3zM1250.1 321.2h3v3h-3zM1251.9 325h3v3h-3zM1255.8 310.1h3v3h-3zM1256.2 317.9h3v3h-3zM1248.5 316.2h3v3h-3zM1261.3 314.1h3v3h-3zM1251.8 307.6h3v3h-3zM1248.1 314h3v3h-3zM1249.6 321.7h3v3h-3zM1260.8 320.1h3v3h-3zM1260.5 320.2h3v3h-3zM1254.7 315.1h3v3h-3zM1251.4 316.4h3v3h-3zM1261.3 309.5h3v3h-3zM1246 317.8h3v3h-3zM1251.9 319.7h3v3h-3zM1254.9 314h3v3h-3zM1264.3 313.8h3v3h-3zM1243.7 312.1h3v3h-3zM1259.1 313.8h3v3h-3zM1257.3 312.8h3v3h-3zM1247.6 318.9h3v3h-3zM1261.1 312.4h3v3h-3zM1244.1 313.9h3v3h-3zM1261.5 310.7h3v3h-3zM1252.3 321.3h3v3h-3zM1265.4 315.4h3v3h-3zM1260.6 317.5h3v3h-3zM1248.5 318.5h3v3h-3zM1257.8 308.7h3v3h-3zM1253.8 323.9h3v3h-3zM1252.5 304.8h3v3h-3zM1249.2 320.2h3v3h-3zM1263.1 311.3h3v3h-3zM1256.1 304.4h3v3h-3zM1252.6 308.9h3v3h-3zM1248.6 311.1h3v3h-3zM1249.4 308.1h3v3h-3zM1259 315h3v3h-3zM1264 314.1h3v3h-3zM1252.8 324.7h3v3h-3zM1260.5 320.6h3v3h-3zM1250.2 308.3h3v3h-3zM1254.3 307.3h3v3h-3zM1262.6 309.8h3v3h-3zM1260.9 310h3v3h-3zM1254.2 318.8h3v3h-3zM1257.7 311.6h3v3h-3zM1250.8 315.8h3v3h-3zM1255.1 308h3v3h-3zM1249.8 318h3v3h-3zM1252.5 306.2h3v3h-3zM1256.9 324.1h3v3h-3zM1254.6 321.1h3v3h-3zM1247.5 310.4h3v3h-3zM1258.9 320.2h3v3h-3zM1254 304.6h3v3h-3zM1259.4 314.1h3v3h-3zM1256.6 317.2h3v3h-3zM1251.8 309.5h3v3h-3zM1253.7 306.7h3v3h-3zM1256.1 321.9h3v3h-3zM1256.1 313.9h3v3h-3zM1258 312.1h3v3h-3zM1253.9 316.6h3v3h-3zM1246.3 317.5h3v3h-3zM1253.7 326.9h3v3h-3zM1262.8 312.4h3v3h-3zM1253.9 323.6h3v3h-3zM1255.2 321.4h3v3h-3zM1258.4 314.4h3v3h-3zM1256 308.3h3v3h-3zM1260.4 311.5h3v3h-3zM1262.6 316.8h3v3h-3zM1250.4 315.9h3v3h-3zM1248.2 309.7h3v3h-3zM1262.7 313.2h3v3h-3zM1255.4 315.3h3v3h-3zM1255.8 303.8h3v3h-3zM1255 318.9h3v3h-3zM1255.5 314.1h3v3h-3zM1248.4 313h3v3h-3zM1255.7 310.2h3v3h-3zM1266 315.8h3v3h-3zM1259.4 305.9h3v3h-3zM1250.8 308.4h3v3h-3zM1248.2 309.7h3v3h-3zM1260.1 321.4h3v3h-3zM1257.4 309.5h3v3h-3zM1256.5 323.4h3v3h-3zM1252.2 324.6h3v3h-3zM1255.4 304h3v3h-3zM1263.3 311.8h3v3h-3zM1252.5 314.6h3v3h-3zM1256.9 313.7h3v3h-3zM1279.4 306.4h3v3h-3zM1262.1 298.1h3v3h-3zM1275.5 303.5h3v3h-3zM1267.6 295.9h3v3h-3zM1267.8 314.5h3v3h-3zM1267.5 304.9h3v3h-3zM1273.6 294.6h3v3h-3zM1267.2 295.9h3v3h-3zM1273.2 307.1h3v3h-3zM1267.5 311.5h3v3h-3zM1280.1 304.3h3v3h-3zM1278.8 308h3v3h-3zM1273.5 302.6h3v3h-3zM1277.8 305.5h3v3h-3zM1273.5 305.3h3v3h-3zM1263.3 304.7h3v3h-3zM1271 311.3h3v3h-3zM1271.8 298h3v3h-3zM1272.5 292.3h3v3h-3zM1261.5 305.7h3v3h-3zM1268.3 315.3h3v3h-3zM1266.5 303.7h3v3h-3zM1275.4 301h3v3h-3zM1271.1 301.8h3v3h-3zM1274 311.5h3v3h-3zM1266.8 306.6h3v3h-3zM1265.7 298.6h3v3h-3zM1264.6 307.6h3v3h-3zM1273.5 300h3v3h-3zM1267.9 315.2h3v3h-3zM1268.5 313.7h3v3h-3zM1264.7 310.9h3v3h-3zM1262 303.8h3v3h-3zM1271.3 308.8h3v3h-3zM1268 303.4h3v3h-3zM1268.6 305.3h3v3h-3zM1271.3 313.3h3v3h-3zM1261.3 301.3h3v3h-3zM1269 301.2h3v3h-3zM1268.3 294.7h3v3h-3zM1271 300.1h3v3h-3zM1274 296.7h3v3h-3zM1266.9 301.8h3v3h-3zM1268 300.3h3v3h-3zM1271.4 300.9h3v3h-3zM1270.7 298.7h3v3h-3zM1269.8 305.3h3v3h-3zM1274.6 304.2h3v3h-3zM1264.4 298.3h3v3h-3zM1260.3 302.3h3v3h-3zM1261.8 302.2h3v3h-3zM1270.5 299.9h3v3h-3zM1273.1 295.8h3v3h-3zM1262.7 301.6h3v3h-3zM1266.5 310.4h3v3h-3zM1268.4 299.4h3v3h-3zM1276.2 303.6h3v3h-3zM1269.9 306.4h3v3h-3zM1271.5 301.5h3v3h-3zM1262.3 306h3v3h-3zM1275.1 297.6h3v3h-3zM1267.6 296.2h3v3h-3zM1277.7 306.9h3v3h-3zM1266.6 303.3h3v3h-3zM1267.4 300h3v3h-3zM1261.6 301.1h3v3h-3zM1272.7 302.3h3v3h-3zM1281.3 306.5h3v3h-3zM1280 307.1h3v3h-3zM1269.9 293.3h3v3h-3zM1269.4 315.2h3v3h-3zM1276.5 302h3v3h-3zM1270.9 301.8h3v3h-3zM1265 299.2h3v3h-3zM1268.2 300h3v3h-3zM1268.1 313.6h3v3h-3zM1274.8 309.1h3v3h-3zM1267.6 307.3h3v3h-3zM1270 311.4h3v3h-3zM1267.1 309.2h3v3h-3zM1268.8 300.7h3v3h-3zM1263.4 308h3v3h-3zM1273.5 308.7h3v3h-3zM1262.1 302h3v3h-3zM1270.1 310.7h3v3h-3zM1267.3 308.8h3v3h-3zM1258.4 302.1h3v3h-3zM1272.9 301.9h3v3h-3zM1263.8 307.4h3v3h-3zM1275.2 297.9h3v3h-3zM1269.8 302.2h3v3h-3zM1265.1 296.9h3v3h-3zM1276.3 301.4h3v3h-3zM1265.3 302.2h3v3h-3zM1269.8 313.9h3v3h-3zM1273.6 298.7h3v3h-3zM1271.9 303.8h3v3h-3zM1260.4 299.7h3v3h-3zM1269.8 296.4h3v3h-3zM1265.7 295.9h3v3h-3zM1259.2 303.5h3v3h-3zM1273.3 304.2h3v3h-3zM1278.7 301.5h3v3h-3zM1265 296.2h3v3h-3zM1276.5 299.2h3v3h-3zM1270.3 293.4h3v3h-3zM1274.5 300.3h3v3h-3zM1264.6 305.4h3v3h-3zM1264.4 309.5h3v3h-3zM1267.8 310h3v3h-3zM1267 310.2h3v3h-3zM1273.8 306.1h3v3h-3zM1274.3 296.4h3v3h-3zM1271.4 300.6h3v3h-3zM1279 305.1h3v3h-3zM1274.7 302.9h3v3h-3zM1270.6 312.8h3v3h-3zM1281.4 306.2h3v3h-3zM1270.8 310.6h3v3h-3zM1276 307.5h3v3h-3zM1273.8 300.3h3v3h-3zM1271.4 309.7h3v3h-3zM1272.5 303.1h3v3h-3zM1270.5 293.1h3v3h-3zM1262.2 308.3h3v3h-3zM1267.5 313.4h3v3h-3zM1267.8 314.1h3v3h-3zM1261.9 301h3v3h-3zM1275.4 304.2h3v3h-3zM1269.5 306.4h3v3h-3zM1275.3 310.4h3v3h-3zM1270.3 304.5h3v3h-3zM1268.3 303h3v3h-3zM1268.6 296.1h3v3h-3zM1277.1 308.7h3v3h-3zM1274.1 302.1h3v3h-3zM1263.4 299.2h3v3h-3zM1264.2 308.7h3v3h-3zM1279.2 305.8h3v3h-3zM1267.8 311.1h3v3h-3zM1274.1 300.6h3v3h-3zM1271.8 295.6h3v3h-3zM1267.5 305.9h3v3h-3zM1272.6 300.9h3v3h-3zM1270.7 311.7h3v3h-3zM1267.4 303.8h3v3h-3zM1265.5 306.5h3v3h-3zM1271.4 299.8h3v3h-3zM1272.1 302.3h3v3h-3zM1267.5 316.2h3v3h-3zM1267.1 306.8h3v3h-3zM1273.6 294.9h3v3h-3zM1260.2 303.7h3v3h-3zM1268.4 313h3v3h-3zM1265.2 296.7h3v3h-3zM1266.5 306.5h3v3h-3zM1262.9 304.2h3v3h-3zM1275.2 299.1h3v3h-3zM1266.9 308.2h3v3h-3zM1264.3 308.2h3v3h-3zM1283.3 287.5h3v3h-3zM1283.7 291.5h3v3h-3zM1289.2 294.3h3v3h-3zM1291.5 292.8h3v3h-3zM1277.1 292.5h3v3h-3zM1290.2 297.5h3v3h-3zM1277.4 297.1h3v3h-3zM1281.1 296.1h3v3h-3zM1290.6 292.4h3v3h-3zM1290.4 296.5h3v3h-3zM1282.4 298.5h3v3h-3zM1282.5 295.4h3v3h-3zM1286.5 297h3v3h-3zM1282.7 302.9h3v3h-3zM1277.9 294.7h3v3h-3zM1293.7 298.7h3v3h-3zM1286.6 302.8h3v3h-3zM1281.9 305.9h3v3h-3zM1276 290h3v3h-3zM1285.7 287.7h3v3h-3zM1284.3 285.5h3v3h-3zM1277.7 295.7h3v3h-3zM1278.2 297.8h3v3h-3zM1284.4 299.7h3v3h-3zM1288.5 301.8h3v3h-3zM1287 287.2h3v3h-3zM1294 296.8h3v3h-3zM1285.8 294.6h3v3h-3zM1278.1 294.7h3v3h-3zM1277.7 292.4h3v3h-3zM1284.8 291.2h3v3h-3zM1289.2 293.5h3v3h-3zM1286.1 286.1h3v3h-3zM1289.8 291.9h3v3h-3zM1284.4 289.8h3v3h-3zM1286.7 291.7h3v3h-3zM1288.6 294.1h3v3h-3zM1277.5 294.7h3v3h-3zM1284.3 285.6h3v3h-3zM1286.9 294.3h3v3h-3zM1286.4 290.4h3v3h-3zM1284.1 294.6h3v3h-3zM1284.8 286.5h3v3h-3zM1282.7 291.1h3v3h-3zM1283.9 290.4h3v3h-3zM1277.8 293.1h3v3h-3zM1289.3 289.5h3v3h-3zM1292.1 294.8h3v3h-3zM1281.7 297.5h3v3h-3zM1281.3 305.9h3v3h-3zM1283.3 288h3v3h-3zM1284.8 294.5h3v3h-3zM1285.4 290.2h3v3h-3zM1291.7 293h3v3h-3zM1281.2 303.4h3v3h-3zM1288.7 288.7h3v3h-3zM1290.7 298.2h3v3h-3zM1286.8 285.4h3v3h-3zM1287.5 288.3h3v3h-3zM1290.6 294.9h3v3h-3zM1287.6 301.1h3v3h-3zM1293.1 299.2h3v3h-3zM1292 291.9h3v3h-3zM1289.5 295.2h3v3h-3zM1283.1 295.6h3v3h-3zM1282.3 290.4h3v3h-3zM1284.1 302.1h3v3h-3zM1291.3 294.6h3v3h-3zM1287.5 293.3h3v3h-3zM1287.1 296.6h3v3h-3zM1276.8 298h3v3h-3zM1289.2 286.7h3v3h-3zM1280.5 288.7h3v3h-3zM1283.9 301.9h3v3h-3zM1280.4 303.5h3v3h-3zM1292 297.5h3v3h-3zM1284.8 303.5h3v3h-3zM1282.3 295.1h3v3h-3zM1291.6 291.5h3v3h-3zM1284 287.5h3v3h-3zM1275.1 295.2h3v3h-3zM1281.7 303.2h3v3h-3zM1285 304h3v3h-3zM1284.7 288.7h3v3h-3zM1286.2 290.3h3v3h-3zM1281.4 288.2h3v3h-3zM1291.9 296h3v3h-3zM1287.4 296.9h3v3h-3zM1279 290.4h3v3h-3zM1284.1 299.9h3v3h-3zM1282.4 288.8h3v3h-3zM1280.5 296.6h3v3h-3zM1273.2 291.6h3v3h-3zM1280.7 289.7h3v3h-3zM1287.3 286.2h3v3h-3zM1290.7 296.9h3v3h-3zM1282.2 297h3v3h-3zM1292.8 292.2h3v3h-3zM1287.1 302.9h3v3h-3zM1285.1 303.8h3v3h-3zM1281.1 295.2h3v3h-3zM1283.2 298.7h3v3h-3zM1291.8 294.2h3v3h-3zM1284.3 305.1h3v3h-3zM1287.9 292.9h3v3h-3zM1286.6 286.2h3v3h-3zM1288.5 298.1h3v3h-3zM1290.1 294.9h3v3h-3zM1277.9 298.1h3v3h-3zM1282.1 298.4h3v3h-3zM1282.7 295h3v3h-3zM1285.9 295.7h3v3h-3zM1288.6 288.4h3v3h-3zM1278.5 291.8h3v3h-3zM1282 303.6h3v3h-3zM1287.8 285.9h3v3h-3zM1286.1 302.1h3v3h-3zM1293.9 298.4h3v3h-3zM1290.3 287.8h3v3h-3zM1275.9 294.5h3v3h-3zM1280.5 287.5h3v3h-3zM1280.7 296.4h3v3h-3zM1284.4 288.2h3v3h-3zM1277.5 295.3h3v3h-3zM1275.1 292.2h3v3h-3zM1281.4 302.9h3v3h-3zM1286.5 285.1h3v3h-3zM1291.9 297.1h3v3h-3zM1285.2 290.5h3v3h-3zM1285.9 286.1h3v3h-3zM1282.1 305.9h3v3h-3zM1284.2 303.6h3v3h-3zM1284.6 286.1h3v3h-3zM1279.9 300.5h3v3h-3zM1280.9 300.4h3v3h-3zM1284.9 289.4h3v3h-3zM1281.8 290.6h3v3h-3zM1291.2 293.4h3v3h-3zM1288.4 294.9h3v3h-3zM1281.6 304.6h3v3h-3zM1288.9 292.6h3v3h-3zM1285.9 293.9h3v3h-3zM1288.7 293.1h3v3h-3zM1281.5 296.9h3v3h-3zM1275.9 289.5h3v3h-3zM1288.1 300.1h3v3h-3zM1285.4 288.7h3v3h-3zM1285.4 295.9h3v3h-3zM1285.4 293.5h3v3h-3zM1286.4 297.5h3v3h-3zM1290.4 291.7h3v3h-3zM1290.3 294.9h3v3h-3zM1276.8 294.2h3v3h-3zM1295.3 285.4h3v3h-3zM1297.5 282.8h3v3h-3zM1308.7 282.6h3v3h-3zM1299.3 289h3v3h-3zM1302.9 276.8h3v3h-3zM1305.3 289.3h3v3h-3zM1300.9 291.2h3v3h-3zM1302.4 279.9h3v3h-3zM1296.9 292.9h3v3h-3zM1296.8 284.2h3v3h-3zM1300.9 288.4h3v3h-3zM1308.7 285.8h3v3h-3zM1300.6 278.6h3v3h-3zM1293.1 280.5h3v3h-3zM1293.5 286.3h3v3h-3zM1294.4 288.3h3v3h-3zM1295.4 291.1h3v3h-3zM1295.8 283h3v3h-3zM1300.7 281.2h3v3h-3zM1295.5 294.6h3v3h-3zM1306.4 287h3v3h-3zM1294.2 284.4h3v3h-3zM1299.3 278.9h3v3h-3zM1307.6 282h3v3h-3zM1296.2 279.3h3v3h-3zM1295.5 286.5h3v3h-3zM1303.6 276.1h3v3h-3zM1297.1 279.1h3v3h-3zM1308.4 283h3v3h-3zM1306.1 284.8h3v3h-3zM1292.3 285.3h3v3h-3zM1293.1 290.7h3v3h-3zM1290.3 285.6h3v3h-3zM1298.4 294h3v3h-3zM1301.9 279.6h3v3h-3zM1303.6 276.3h3v3h-3zM1293 287.5h3v3h-3zM1300.6 277.3h3v3h-3zM1304 282.7h3v3h-3zM1302.4 280.1h3v3h-3zM1288.9 284.9h3v3h-3zM1302.8 282.9h3v3h-3zM1300.8 278.9h3v3h-3zM1293.5 283.9h3v3h-3zM1306.3 283.8h3v3h-3zM1296.4 291.7h3v3h-3zM1292.3 289.7h3v3h-3zM1298.2 291.1h3v3h-3zM1304.2 285.1h3v3h-3zM1290.8 282.6h3v3h-3zM1303.1 286h3v3h-3zM1295.3 294.8h3v3h-3zM1304.1 279.4h3v3h-3zM1301 286.8h3v3h-3zM1306.9 282.4h3v3h-3zM1302 288.3h3v3h-3zM1295.2 279.6h3v3h-3zM1299.4 283.7h3v3h-3zM1296 285.6h3v3h-3zM1293.6 285.8h3v3h-3zM1306.3 287.1h3v3h-3zM1301.8 289.9h3v3h-3zM1294 289.4h3v3h-3zM1305.4 285.9h3v3h-3zM1294.8 282.3h3v3h-3zM1307.1 281.6h3v3h-3zM1300.3 281.7h3v3h-3zM1294.3 290.2h3v3h-3zM1301.4 291h3v3h-3zM1304 286.5h3v3h-3zM1302.6 287.5h3v3h-3zM1298.5 295.4h3v3h-3zM1314.9 276.1h3v3h-3zM1306.1 273.7h3v3h-3zM1317.3 276.4h3v3h-3zM1313.6 271.7h3v3h-3zM1314.9 278.7h3v3h-3zM1317.8 278.9h3v3h-3zM1310 282.3h3v3h-3zM1307.9 281.2h3v3h-3zM1310.5 270.8h3v3h-3zM1313.3 278.2h3v3h-3zM1315 268.3h3v3h-3zM1315.4 278.8h3v3h-3zM1311.3 283.4h3v3h-3zM1317.7 270.4h3v3h-3zM1306.8 274.1h3v3h-3zM1309 277.1h3v3h-3zM1318.8 278.5h3v3h-3zM1317.1 280.1h3v3h-3zM1313.4 278h3v3h-3zM1306.2 278.9h3v3h-3zM1304.3 275.4h3v3h-3zM1314.4 269.1h3v3h-3zM1310.8 277.7h3v3h-3zM1310.1 270.4h3v3h-3zM1309.5 281h3v3h-3zM1309 272h3v3h-3zM1312 274.5h3v3h-3zM1316.5 267h3v3h-3zM1305.9 273.5h3v3h-3zM1317.1 280.2h3v3h-3zM1314 269.3h3v3h-3zM1312.6 273.8h3v3h-3zM1320.6 273.8h3v3h-3zM1312.8 272.2h3v3h-3zM1312.5 276.5h3v3h-3zM1312.1 277.4h3v3h-3zM1307.3 278.2h3v3h-3zM1318.7 270.6h3v3h-3zM1315 278.4h3v3h-3zM1318.7 275.5h3v3h-3zM1313.2 279h3v3h-3zM1310.2 279.6h3v3h-3zM1304.6 276.2h3v3h-3zM1307.9 276.7h3v3h-3zM1312.9 268.7h3v3h-3zM1315.2 268.4h3v3h-3zM1321.9 276.4h3v3h-3zM1317 278.4h3v3h-3zM1318.4 271.5h3v3h-3zM1314.5 267.9h3v3h-3zM1317.7 274.9h3v3h-3zM1314.3 269.7h3v3h-3zM1308 279.5h3v3h-3zM1315.8 276.8h3v3h-3zM1309.6 279.2h3v3h-3zM1317.5 269.3h3v3h-3zM1320.4 277.8h3v3h-3zM1314.9 273.6h3v3h-3zM1311.9 276h3v3h-3zM1305.2 274h3v3h-3zM1119.6 511.3h3v3h-3zM1130.5 493.2h3v3h-3zM1133.4 495.4h3v3h-3zM1138.9 497.1h3v3h-3zM1129.3 499.7h3v3h-3zM1124.5 514.9h3v3h-3zM1129.1 514.4h3v3h-3zM1122.6 521.5h3v3h-3zM1123.8 511h3v3h-3zM1134.8 508.4h3v3h-3zM1131.7 490.3h3v3h-3zM1140.8 495.7h3v3h-3zM1128.4 506.2h3v3h-3zM1126.8 517.7h3v3h-3zM1130.7 508.7h3v3h-3zM1149.6 463.6h3v3h-3zM1145 470h3v3h-3zM1135.3 486.7h3v3h-3zM1129.9 486.8h3v3h-3zM1146.1 459.8h3v3h-3zM1135 486.4h3v3h-3zM1136.7 490h3v3h-3zM1132.7 481.9h3v3h-3zM1150.6 474.9h3v3h-3zM1137.7 492.3h3v3h-3zM1142.3 473h3v3h-3zM1131.9 474.2h3v3h-3zM1139.6 480.4h3v3h-3zM1147.2 484.6h3v3h-3zM1144.8 483.3h3v3h-3zM1167.2 438.3h3v3h-3zM1156.2 445h3v3h-3zM1154 430.3h3v3h-3zM1143 448.7h3v3h-3zM1155.3 444.6h3v3h-3zM1172.4 435.3h3v3h-3zM1154.8 447.7h3v3h-3zM1154.7 459.3h3v3h-3zM1150.2 440.9h3v3h-3zM1153 428.5h3v3h-3zM1151.1 454.1h3v3h-3zM1156.7 425.7h3v3h-3zM1158.1 454.7h3v3h-3zM1161.8 454h3v3h-3zM1144.1 457.2h3v3h-3zM1174.7 426.8h3v3h-3zM1168.9 429.2h3v3h-3zM1183.4 415.8h3v3h-3zM1165.4 407.9h3v3h-3zM1164.5 416.2h3v3h-3zM1160.5 424h3v3h-3zM1174.3 414.8h3v3h-3zM1161.5 424.3h3v3h-3zM1173.5 432.8h3v3h-3zM1172.6 413.3h3v3h-3zM1203 384.6h3v3h-3zM1176.1 399.5h3v3h-3zM1182.1 404.2h3v3h-3zM1188.5 390.9h3v3h-3zM1192.3 385.6h3v3h-3zM1185.2 401h3v3h-3zM1188.6 375.3h3v3h-3zM1180.1 389.9h3v3h-3zM1190.2 385.4h3v3h-3zM1195.8 385.1h3v3h-3zM1196.9 380.6h3v3h-3zM1195.8 395.8h3v3h-3zM1189.9 382.7h3v3h-3zM1185.3 410.3h3v3h-3zM1184.5 411.5h3v3h-3zM1197.6 382.2h3v3h-3zM1216.5 355.2h3v3h-3zM1212.3 360.3h3v3h-3zM1194.2 367.9h3v3h-3zM1209.8 358.6h3v3h-3zM1199.8 375.9h3v3h-3zM1197.8 368.9h3v3h-3zM1215.2 357.2h3v3h-3zM1216.2 363h3v3h-3zM1204 366.6h3v3h-3zM1202.4 365.6h3v3h-3zM1218 363.1h3v3h-3zM1205.5 373.2h3v3h-3zM1192.9 367.3h3v3h-3zM1214.2 364.1h3v3h-3zM1230.1 353.6h3v3h-3zM1224.6 335.1h3v3h-3zM1235.3 343h3v3h-3zM1225.1 355.9h3v3h-3zM1218.9 340.2h3v3h-3zM1222.6 345.4h3v3h-3zM1220.9 338.6h3v3h-3zM1218.8 353.2h3v3h-3zM1231.7 341.4h3v3h-3zM1228.9 350.2h3v3h-3zM1209.5 346.7h3v3h-3zM1234.1 333.4h3v3h-3zM1235.6 320.1h3v3h-3zM1231.6 315.3h3v3h-3zM1241.4 341.4h3v3h-3zM1237.8 311.8h3v3h-3zM1242.7 324.5h3v3h-3zM1247 333.1h3v3h-3zM1250.5 334h3v3h-3zM1265.2 322.5h3v3h-3zM1255 326.4h3v3h-3zM1259.8 326.6h3v3h-3zM1267.7 322.6h3v3h-3zM1256.8 309h3v3h-3zM1260.4 321h3v3h-3zM1249.2 320.3h3v3h-3zM1259.9 319h3v3h-3zM1269.3 308.2h3v3h-3zM1271.3 298.7h3v3h-3zM1279.2 312.2h3v3h-3zM1268.3 306h3v3h-3zM1275.3 312.6h3v3h-3zM1262.8 301h3v3h-3zM1270.8 308.9h3v3h-3zM1272.8 319.5h3v3h-3zM1287.8 300.2h3v3h-3zM1276.7 284h3v3h-3zM1283.9 297.5h3v3h-3zM1285.5 310.4h3v3h-3zM1285.3 293h3v3h-3zM1273.9 292.3h3v3h-3zM1284.3 299.8h3v3h-3zM1294.4 288.4h3v3h-3zM1296.9 288.9h3v3h-3zM1302.4 283.5h3v3h-3zM1304.8 284.9h3v3h-3zM1295.5 292.8h3v3h-3zM1302.8 290.4h3v3h-3zM1303.9 277.8h3v3h-3zM1301 276.5h3v3h-3zM1309.5 266.1h3v3h-3zM1316.7 272.1h3v3h-3zM1312.5 276h3v3h-3zM1308.4 272h3v3h-3zM1317 276.2h3v3h-3zM1304.7 275.2h3v3h-3zM1217.3 360.2h3v3h-3zM1209 379.5h3v3h-3zM1215 380.8h3v3h-3zM1216.2 357.3h3v3h-3zM1202.9 377.8h3v3h-3zM1208.3 373h3v3h-3zM1220.2 372.6h3v3h-3zM1198.5 380.7h3v3h-3zM1202.5 382h3v3h-3zM1204.3 382.4h3v3h-3zM1212.1 379h3v3h-3zM1245.4 347.3h3v3h-3zM1230.8 353.8h3v3h-3zM1225.2 359.1h3v3h-3zM1242.5 347.7h3v3h-3zM1219.6 353.9h3v3h-3zM1240.1 345h3v3h-3zM1228.5 339.8h3v3h-3zM1225.5 342.3h3v3h-3zM1238.5 349.4h3v3h-3zM1237 328.7h3v3h-3zM1256.6 339.5h3v3h-3zM1246.2 330.6h3v3h-3zM1247.9 341.3h3v3h-3zM1251.2 326.1h3v3h-3zM1248.7 345.4h3v3h-3zM1259.2 322.3h3v3h-3zM1261.2 328.6h3v3h-3zM1267.7 316.6h3v3h-3zM1264.9 316.8h3v3h-3zM1263.9 328.8h3v3h-3zM1271.4 322h3v3h-3zM1282.9 316h3v3h-3zM1287.7 316.2h3v3h-3zM1274.9 309.6h3v3h-3zM1268.8 317.4h3v3h-3zM1267.3 304.1h3v3h-3zM1280.7 303.5h3v3h-3zM1292.3 290.9h3v3h-3zM1291.5 309.1h3v3h-3zM1294.9 304.3h3v3h-3zM1286.2 295.5h3v3h-3zM1298.1 304.4h3v3h-3zM1305.7 294.3h3v3h-3zM1309.8 289.9h3v3h-3zM1304.9 293.2h3v3h-3zM1311.3 294h3v3h-3zM1305.9 299.1h3v3h-3zM1305.4 297.1h3v3h-3zM1321.1 290h3v3h-3zM1327 283.4h3v3h-3zM1316.3 282.7h3v3h-3zM1319.2 285.6h3v3h-3zM1313.6 288.2h3v3h-3zM1436.8 193.6h3v3h-3zM1424.7 204.3h3v3h-3zM1430.7 207.8h3v3h-3zM1434.8 210.8h3v3h-3zM1432.7 214.5h3v3h-3zM1428 216.4h3v3h-3zM1402.1 207h3v3h-3zM1388 217.2h3v3h-3zM1398.7 217.9h3v3h-3zM1407.2 217.9h3v3h-3zM1409.9 216.8h3v3h-3zM1400.5 222.2h3v3h-3zM1404.5 226.2h3v3h-3zM1417.3 226.2h3v3h-3zM1420.7 225.8h3v3h-3zM1423.3 225.3h3v3h-3zM1415.3 230.2h3v3h-3zM1411.2 235.6h3v3h-3zM1426.3 239h3v3h-3zM1393.4 229.6h3v3h-3zM1389.1 232.9h3v3h-3zM1396.5 236.7h3v3h-3zM1391.1 243h3v3h-3zM1386.4 241h3v3h-3zM1380.6 246.4h3v3h-3zM1384 252h3v3h-3zM1379 255.5h3v3h-3zM1375.6 248.1h3v3h-3zM1370.5 250.7h3v3h-3zM1367.2 232.3h3v3h-3zM1358.2 235.4h3v3h-3zM1350.5 236.3h3v3h-3zM1379.7 237h3v3h-3zM1377.6 237.6h3v3h-3zM1370.9 239.7h3v3h-3zM1368.2 240.3h3v3h-3zM1364.9 241h3v3h-3zM1361.5 241.7h3v3h-3zM1358.8 242.7h3v3h-3zM1338 244.6h3v3h-3zM1346.1 247.3h3v3h-3zM1353.5 247h3v3h-3zM1356.1 244.4h3v3h-3zM1361.5 257.1h3v3h-3zM1364.9 263.8h3v3h-3zM1352.1 258.5h3v3h-3zM1354.1 257.8h3v3h-3zM1350.8 259.8h3v3h-3zM1345.4 266.5h3v3h-3zM1347.4 265.9h3v3h-3zM1342 259.1h3v3h-3zM1338.7 267.2h3v3h-3zM1336 264.5h3v3h-3zM1329.9 267.2h3v3h-3zM1330.6 255.1h3v3h-3zM1331.9 274.6h3v3h-3zM1326.5 259.1h3v3h-3zM1323.9 260.5h3v3h-3zM1321.2 261.8h3v3h-3zM1319.8 272.6h3v3h-3zM1328.6 277.3h3v3h-3zM1336 253.8h3v3h-3zM1340 253.1h3v3h-3zM1342.7 251.8h3v3h-3zM1346.7 251.1h3v3h-3zM1349.4 249.7h3v3h-3zM1307.5 264h3v3h-3zM1310.5 263.3h3v3h-3zM1313.5 263.7h3v3h-3zM1316.5 265h3v3h-3zM1309.5 266.5h3v3h-3zM1303.5 267h3v3h-3zM1298.5 269h3v3h-3zM1294.5 270.5h3v3h-3zM1319.5 274.5h3v3h-3zM1321.5 277.5h3v3h-3zM1320.5 281.5h3v3h-3zM1324.5 258h3v3h-3zM1328.5 257h3v3h-3zM1332.5 256h3v3h-3zM1373.5 243.5h3v3h-3zM1382.5 238.5h3v3h-3zM1354.5 241.5h3v3h-3zM1343.5 248.5h3v3h-3zM1332.5 256.5h3v3h-3zM1325.5 264.5h3v3h-3zM1321.5 268.5h3v3h-3zM1638.7 117.9h3v3h-3zM1664.1 123.9h3v3h-3zM1602.8 143h3v3h-3zM1618.9 150.6h3v3h-3zM1577.4 160.9h3v3h-3zM1557.6 165.8h3v3h-3zM1567.3 170.6h3v3h-3zM1588.8 178.1h3v3h-3zM1541.5 170.6h3v3h-3zM1521.4 171.2h3v3h-3zM1527.9 173.2h3v3h-3zM1534.6 178.1h3v3h-3zM1549 181.3h3v3h-3zM1510.3 182.8h3v3h-3zM1516.3 184.1h3v3h-3zM1496.3 181.3h3v3h-3zM1505.3 186.7h3v3h-3zM1500.6 192.5h3v3h-3zM1490.9 196.4h3v3h-3zM1483.8 202.2h3v3h-3zM1479.5 208.9h3v3h-3zM1466.6 209.7h3v3h-3zM1460.8 187.1h3v3h-3zM1469.8 192.5h3v3h-3zM1476.3 193.8h3v3h-3zM1473.3 197.9h3v3h-3zM1462.9 194.9h3v3h-3zM1457.1 197.5h3v3h-3zM1449.4 198.5h3v3h-3zM1437.5 193.8h3v3h-3zM1441.8 204.6h3v3h-3zM1446.8 208.2h3v3h-3zM1441.4 218.3h3v3h-3zM1444.6 218.3h3v3h-3zM1454.7 231.2h3v3h-3zM1432.8 210.4h3v3h-3zM1430.7 214.7h3v3h-3z" fill="#4f4f4f"/>
<path d="M1090.7 361.5L1762.3 84.4" stroke="#e9a71b" stroke-width="2.7"/>
<path d="M1090.8 57.4V652.4" stroke="#3d70b5" stroke-width="2.3" stroke-dasharray="8.8 7.05"/>
<path d="M1317.8 54.7V652.4" stroke="#3d70b5" stroke-width="2.3" stroke-dasharray="8.8 7.05"/>
<path d="M1749.0 54.3V652.4" stroke="#3d70b5" stroke-width="2.3" stroke-dasharray="8.8 7.05"/>
<rect x="1062.3" y="7.2" width="51.9" height="44.6" fill="#fff" stroke="#000" stroke-width="1.8"/>
<text x="1074" y="39.3" font-family="'Liberation Sans', sans-serif" font-style="italic" font-size="25" fill="#000">Δx</text>
<rect x="1296.9" y="7.2" width="42.6" height="44.6" fill="#fff" stroke="#000" stroke-width="1.8"/>
<text x="1309.5" y="39.2" font-family="'Liberation Sans', sans-serif" font-style="italic" font-size="25" fill="#000">l<tspan font-size="23" dx="1.8" dy="8.5">c</tspan></text>
<rect x="1714.7" y="7.2" width="50.5" height="44.6" fill="#fff" stroke="#000" stroke-width="1.8"/>
<g transform="translate(1727 38.9) scale(0.9 1)"><text x="0" y="0" font-family="'Liberation Sans', sans-serif" font-style="italic" font-size="25" fill="#000">R<tspan font-size="22" dy="8.5">c</tspan></text></g>
<g transform="translate(1116 101.7) scale(1.02 1)"><text x="0" y="0" font-family="'Liberation Sans', sans-serif" font-size="34" font-weight="bold" fill="#000">(b)</text></g>
<text x="1149" y="282.4" font-family="'Liberation Sans', sans-serif" font-style="italic" font-size="23" fill="#424242" textLength="74" lengthAdjust="spacingAndGlyphs">Binned</text>
<path d="M1188.2 294L1193.6 327" stroke="#7f7f7f" stroke-width="2" stroke-dasharray="6 3"/>
<path d="M1189.6 328.5L1198.6 328.5L1194.7 337.6Z" fill="#7f7f7f"/>
<text x="1207.5" y="468" font-family="'Liberation Sans', sans-serif" font-style="italic" font-size="23" fill="#424242" textLength="46" lengthAdjust="spacingAndGlyphs">Raw</text>
<path d="M1223.5 442L1203 412" stroke="#000" stroke-width="2" stroke-dasharray="6 3.5"/>
<path d="M1197.5 403.9L1198.9 414.6L1207.1 409.2Z" fill="#000"/>
<text x="1627.3" y="254.5" font-family="'Liberation Sans', sans-serif" font-style="italic" font-size="24.5" fill="#424242" text-anchor="middle" textLength="107" lengthAdjust="spacingAndGlyphs">Analytical</text>
<text x="1627.3" y="281.9" font-family="'Liberation Sans', sans-serif" font-style="italic" font-size="24.5" fill="#424242" text-anchor="middle" textLength="156.5" lengthAdjust="spacingAndGlyphs">approximation</text>
<path d="M1646.8 228.5L1650 149" stroke="#ffc000" stroke-width="2.2" stroke-dasharray="6 3.5"/>
<path d="M1646 149.5L1655.4 149.5L1650.9 139.5Z" fill="#ffc000"/>
<rect x="1130" y="563.3" width="150.6" height="76.6" fill="#fff" stroke="#595959" stroke-width="1.6"/>
<text x="1204.3" y="593.9" font-family="'Liberation Sans', sans-serif" font-size="23" fill="#000" text-anchor="middle" textLength="116" lengthAdjust="spacingAndGlyphs">Correlated</text>
<text x="1205.5" y="625.5" font-family="'Liberation Sans', sans-serif" font-size="23" fill="#000" text-anchor="middle" textLength="125" lengthAdjust="spacingAndGlyphs">front shape</text>
<rect x="1385.9" y="561.9" width="328.8" height="77.2" fill="#fff" stroke="#595959" stroke-width="1.6"/>
<text x="1547.1" y="592.6" font-family="'Liberation Sans', sans-serif" font-size="23" fill="#000" text-anchor="middle" textLength="296" lengthAdjust="spacingAndGlyphs">Front mophology governed</text>
<text x="1549.8" y="624.6" font-family="'Liberation Sans', sans-serif" font-size="23" fill="#000" text-anchor="middle" textLength="280.4" lengthAdjust="spacingAndGlyphs">by the quenched disorder</text>
<text x="1332" y="735" font-family="'Liberation Serif', serif" font-style="italic" font-size="30" fill="#000">Γ</text>
<text x="1369" y="735" font-family="'Liberation Sans', sans-serif" font-size="28" fill="#000">(m)</text>
<text transform="translate(970.2 411.5) rotate(-90)" font-family="'Liberation Sans', sans-serif" font-size="28" fill="#000" textLength="66" lengthAdjust="spacingAndGlyphs"><tspan font-style="italic">P</tspan><tspan font-style="italic" font-size="20" dy="9">a</tspan><tspan dy="-9">(</tspan><tspan font-family="'Liberation Serif', serif" font-style="italic">Γ</tspan>)</text>
<text transform="translate(970.2 309.6) rotate(-90)" font-family="'Liberation Sans', sans-serif" font-size="28" fill="#000" textLength="46.3" lengthAdjust="spacingAndGlyphs">(m²)</text>
</svg>
</body></html>
